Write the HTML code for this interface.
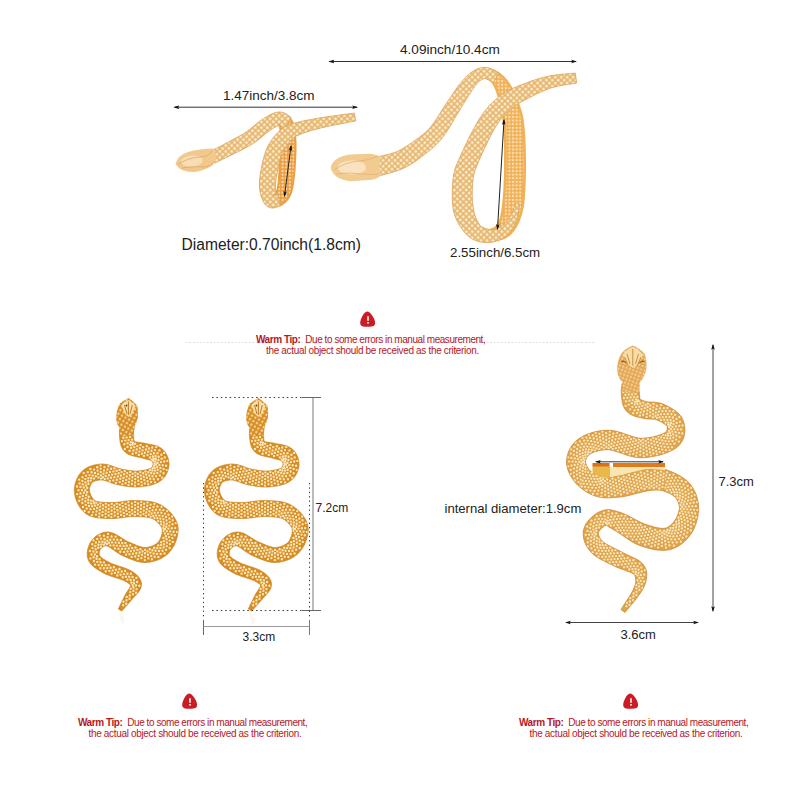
<!DOCTYPE html>
<html><head><meta charset="utf-8">
<style>
html,body{margin:0;padding:0;background:#fff;}
body{width:800px;height:800px;overflow:hidden;position:relative;font-family:"Liberation Sans",sans-serif;}
svg{position:absolute;left:0;top:0;}
.t{position:absolute;white-space:nowrap;color:#222;line-height:1;}
.tip{position:absolute;white-space:nowrap;color:#b8161e;font-size:10px;letter-spacing:-0.33px;line-height:10.4px;}
.tip b{font-weight:bold;}
</style></head><body>
<svg width="800" height="800" viewBox="0 0 800 800">
<defs>
 <pattern id="dotsE" width="4" height="4" patternUnits="userSpaceOnUse" patternTransform="rotate(30)">
  <circle cx="2" cy="2" r="1.2" fill="#fbe8bc"/>
 </pattern>
 <pattern id="dotsR" width="3.6" height="3.6" patternUnits="userSpaceOnUse" patternTransform="rotate(20)">
  <circle cx="1.8" cy="1.8" r="1.05" fill="#f9e4b4"/>
 </pattern>
 <pattern id="scaleT" width="4.2" height="4.2" patternUnits="userSpaceOnUse" patternTransform="rotate(45)">
  <rect x="0" y="0" width="4.2" height="4.2" fill="none" stroke="#dfac66" stroke-width="0.7"/>
  <circle cx="2.1" cy="2.1" r="1.1" fill="#fdf4de"/>
 </pattern>
 <pattern id="dotsIn" width="3.6" height="3.6" patternUnits="userSpaceOnUse">
  <circle cx="1.8" cy="1.8" r="1.15" fill="#fde6c4"/>
 </pattern>
 <marker id="ah" viewBox="0 0 10 10" refX="8" refY="5" markerWidth="6" markerHeight="6" orient="auto-start-reverse">
  <path d="M0 2 L10 5 L0 8 L2 5Z" fill="#111"/>
 </marker>
</defs>

<!-- dimension lines top -->
<line x1="174.5" y1="107.2" x2="357" y2="107.2" stroke="#333" stroke-width="1" marker-start="url(#ah)" marker-end="url(#ah)"/>
<line x1="329.5" y1="61.5" x2="576" y2="61.5" stroke="#333" stroke-width="1" marker-start="url(#ah)" marker-end="url(#ah)"/>

<!-- small ring snake -->
<g id="smallring">
 <path d="M275.6 124.5 L276.6 125.3 L277.9 126.0 L278.9 126.5 L279.6 126.8 L279.9 127.1 L280.0 127.2 L279.7 127.1 L279.4 126.9 L279.1 126.7 L279.0 126.8 L279.1 127.4 L279.3 128.3 L279.4 129.4 L279.5 130.8 L279.5 132.3 L279.6 134.0 L279.6 135.9 L279.6 137.9 L279.5 140.0 L279.5 142.2 L279.5 144.5 L279.5 147.0 L279.5 149.7 L279.4 152.6 L279.3 155.5 L279.2 158.5 L279.0 161.4 L278.9 164.3 L278.7 166.9 L278.5 169.4 L278.4 171.7 L278.3 174.0 L278.1 176.2 L278.0 178.3 L277.8 180.3 L277.7 182.1 L277.5 183.8 L277.3 185.3 L277.0 186.7 L276.8 187.9 L276.6 188.9 L276.4 189.7 L276.2 190.4 L276.0 191.0 L275.8 191.5 L275.6 192.0 L275.3 192.4 L275.1 192.8 L274.8 193.2 L274.7 193.5 L274.8 193.5 L275.1 193.4 L275.3 193.4 L275.3 193.4 L275.0 193.5 L274.6 193.6 L273.9 193.6 L273.0 193.7 L271.9 193.9 L270.9 194.1 L273.1 206.9 L273.5 206.9 L273.9 206.9 L274.4 206.9 L275.2 207.0 L276.2 206.9 L277.3 206.9 L278.7 206.6 L280.3 206.2 L281.9 205.4 L283.3 204.5 L284.4 203.7 L285.4 202.9 L286.4 202.0 L287.3 201.0 L288.3 199.8 L289.2 198.5 L290.1 197.1 L290.8 195.6 L291.6 193.9 L292.2 192.1 L292.7 190.3 L293.2 188.3 L293.6 186.3 L293.9 184.3 L294.2 182.1 L294.5 179.9 L294.8 177.7 L295.0 175.4 L295.2 173.0 L295.5 170.6 L295.7 168.0 L295.8 165.3 L296.0 162.3 L296.1 159.3 L296.3 156.2 L296.4 153.1 L296.5 150.1 L296.5 147.2 L296.5 144.4 L296.5 141.8 L296.3 139.5 L296.2 137.2 L296.0 135.0 L295.7 132.9 L295.5 130.8 L295.1 128.8 L294.8 126.8 L294.3 124.9 L293.7 123.1 L293.0 121.2 L291.9 119.2 L290.4 117.4 L288.8 116.0 L287.2 114.9 L285.7 114.3 L284.5 113.9 L283.6 113.7 L283.1 113.6 L282.8 113.6 L282.4 113.5Z" fill="#ec9e40"/>
 <path d="M276.7 122.8 L277.6 123.5 L278.6 124.1 L279.6 124.6 L280.3 125.0 L280.8 125.2 L281.0 125.5 L281.0 125.6 L280.9 125.6 L280.9 125.7 L280.9 126.1 L281.0 126.8 L281.2 127.8 L281.3 129.1 L281.5 130.5 L281.5 132.1 L281.6 133.9 L281.6 135.8 L281.6 137.8 L281.5 139.9 L281.5 142.1 L281.5 144.5 L281.5 147.0 L281.5 149.8 L281.4 152.7 L281.3 155.6 L281.2 158.6 L281.0 161.5 L280.9 164.4 L280.7 167.1 L280.5 169.5 L280.4 171.9 L280.3 174.2 L280.1 176.4 L280.0 178.5 L279.8 180.5 L279.6 182.4 L279.4 184.1 L279.2 185.7 L279.0 187.1 L278.7 188.4 L278.5 189.5 L278.2 190.4 L278.0 191.3 L277.7 192.0 L277.4 192.6 L277.2 193.2 L276.9 193.7 L276.5 194.2 L276.2 194.7 L275.9 195.1 L275.8 195.2 L275.9 195.2 L275.8 195.3 L275.6 195.4 L275.2 195.5 L274.7 195.6 L274.0 195.6 L273.1 195.7 L272.1 195.9 L271.3 196.1 L272.7 204.9 L273.3 204.9 L273.7 204.9 L274.3 204.9 L275.1 205.0 L276.0 205.0 L277.0 204.9 L278.2 204.7 L279.5 204.3 L280.9 203.7 L282.1 202.9 L283.1 202.2 L284.0 201.5 L284.9 200.7 L285.7 199.7 L286.6 198.7 L287.5 197.5 L288.3 196.2 L289.0 194.8 L289.7 193.3 L290.3 191.6 L290.8 189.8 L291.2 188.0 L291.6 186.0 L291.9 184.0 L292.2 181.9 L292.5 179.7 L292.8 177.5 L293.0 175.2 L293.3 172.9 L293.5 170.5 L293.7 167.9 L293.8 165.1 L294.0 162.2 L294.1 159.2 L294.3 156.1 L294.4 153.1 L294.5 150.1 L294.5 147.2 L294.5 144.4 L294.5 141.9 L294.3 139.6 L294.2 137.3 L294.0 135.1 L293.7 133.0 L293.5 131.0 L293.2 129.0 L292.8 127.2 L292.3 125.4 L291.8 123.6 L291.1 121.9 L290.2 120.2 L288.9 118.7 L287.5 117.5 L286.1 116.7 L284.9 116.1 L283.8 115.8 L282.9 115.6 L282.3 115.5 L281.9 115.4 L281.3 115.2Z" fill="url(#dotsIn)" opacity="0.9"/>
 <path d="M214.8 163.1 L216.6 162.2 L218.4 161.4 L220.1 160.5 L221.9 159.7 L223.7 158.8 L225.5 158.0 L227.3 157.1 L229.2 156.2 L231.1 155.2 L233.0 154.3 L234.9 153.3 L236.9 152.3 L239.0 151.2 L241.1 150.2 L243.2 149.1 L245.4 147.9 L247.5 146.8 L249.6 145.6 L251.7 144.4 L253.7 143.1 L255.7 141.8 L257.6 140.4 L259.4 138.9 L261.1 137.5 L262.8 136.1 L264.4 134.8 L265.8 133.6 L267.2 132.5 L268.5 131.5 L269.8 130.6 L271.1 129.7 L272.5 128.8 L273.8 127.9 L275.0 127.2 L276.1 126.5 L277.1 126.0 L278.0 125.5 L278.7 125.2 L279.3 125.1 L279.5 125.0 L279.4 125.0 L279.3 125.0 L279.4 125.0 L279.6 125.1 L280.1 125.4 L280.7 125.9 L281.5 126.5 L282.5 127.2 L283.7 128.0 L284.8 128.7 L291.2 117.3 L290.5 117.0 L290.0 116.6 L289.3 116.1 L288.5 115.4 L287.4 114.7 L286.2 113.9 L284.6 113.1 L282.8 112.4 L280.7 112.0 L278.5 112.0 L276.5 112.3 L274.7 112.8 L273.0 113.4 L271.4 114.1 L269.8 114.9 L268.2 115.7 L266.7 116.6 L265.2 117.5 L263.8 118.4 L262.2 119.4 L260.6 120.6 L258.9 121.8 L257.3 123.1 L255.7 124.5 L254.1 125.8 L252.5 127.1 L251.0 128.4 L249.4 129.6 L247.9 130.8 L246.3 131.9 L244.6 132.9 L242.8 134.1 L240.9 135.2 L239.0 136.3 L237.0 137.4 L235.0 138.5 L232.9 139.6 L230.9 140.6 L228.9 141.7 L227.0 142.7 L225.1 143.7 L223.3 144.7 L221.6 145.6 L219.8 146.5 L218.1 147.4 L216.3 148.3 L214.5 149.2 L212.8 150.1 L211.0 151.0 L209.2 151.9Z" fill="#f0c98a"/>
 <path d="M214.8 163.1 L216.6 162.2 L218.4 161.4 L220.1 160.5 L221.9 159.7 L223.7 158.8 L225.5 158.0 L227.3 157.1 L229.2 156.2 L231.1 155.2 L233.0 154.3 L234.9 153.3 L236.9 152.3 L239.0 151.2 L241.1 150.2 L243.2 149.1 L245.4 147.9 L247.5 146.8 L249.6 145.6 L251.7 144.4 L253.7 143.1 L255.7 141.8 L257.6 140.4 L259.4 138.9 L261.1 137.5 L262.8 136.1 L264.4 134.8 L265.8 133.6 L267.2 132.5 L268.5 131.5 L269.8 130.6 L271.1 129.7 L272.5 128.8 L273.8 127.9 L275.0 127.2 L276.1 126.5 L277.1 126.0 L278.0 125.5 L278.7 125.2 L279.3 125.1 L279.5 125.0 L279.4 125.0 L279.3 125.0 L279.4 125.0 L279.6 125.1 L280.1 125.4 L280.7 125.9 L281.5 126.5 L282.5 127.2 L283.7 128.0 L284.8 128.7 L291.2 117.3 L290.5 117.0 L290.0 116.6 L289.3 116.1 L288.5 115.4 L287.4 114.7 L286.2 113.9 L284.6 113.1 L282.8 112.4 L280.7 112.0 L278.5 112.0 L276.5 112.3 L274.7 112.8 L273.0 113.4 L271.4 114.1 L269.8 114.9 L268.2 115.7 L266.7 116.6 L265.2 117.5 L263.8 118.4 L262.2 119.4 L260.6 120.6 L258.9 121.8 L257.3 123.1 L255.7 124.5 L254.1 125.8 L252.5 127.1 L251.0 128.4 L249.4 129.6 L247.9 130.8 L246.3 131.9 L244.6 132.9 L242.8 134.1 L240.9 135.2 L239.0 136.3 L237.0 137.4 L235.0 138.5 L232.9 139.6 L230.9 140.6 L228.9 141.7 L227.0 142.7 L225.1 143.7 L223.3 144.7 L221.6 145.6 L219.8 146.5 L218.1 147.4 L216.3 148.3 L214.5 149.2 L212.8 150.1 L211.0 151.0 L209.2 151.9Z" fill="url(#scaleT)" stroke="#dca55e" stroke-width="0.8"/>
 <path d="M175.5 164 Q178 155 188 152 Q200 148.5 213 148.5 L217 156 L213 165 Q205 170.5 195 172 Q181 173 175.5 164Z" fill="#f1c98c"/>
 <ellipse cx="192" cy="161" rx="11" ry="5.5" transform="rotate(-5 192 161)" fill="#f8dcb4"/>
 <path d="M178 165 Q186 158 200 157 Q208 157 212 151 M182 168 Q195 166 205 167 Q210 167 214 162" stroke="#e0a86a" stroke-width="0.8" fill="none"/>
 <path d="M278.2 194.1 L277.1 194.1 L275.8 194.3 L274.7 194.5 L273.8 194.7 L273.2 194.7 L272.9 194.7 L273.1 194.6 L273.8 194.6 L275.0 195.0 L276.0 195.6 L276.4 195.9 L276.4 195.7 L276.3 195.1 L276.1 194.4 L275.9 193.4 L275.8 192.3 L275.6 191.1 L275.5 189.9 L275.5 188.6 L275.5 187.5 L275.5 186.4 L275.5 185.2 L275.5 184.0 L275.6 182.7 L275.8 181.3 L276.0 179.9 L276.2 178.4 L276.5 176.8 L276.8 175.2 L277.1 173.5 L277.4 171.6 L277.8 169.7 L278.1 167.7 L278.5 165.7 L278.9 163.7 L279.4 161.8 L279.9 159.9 L280.4 158.1 L280.9 156.5 L281.4 155.0 L281.9 153.7 L282.5 152.3 L283.2 151.0 L283.9 149.7 L284.6 148.5 L285.3 147.3 L286.1 146.2 L286.9 145.1 L287.7 144.0 L288.6 143.0 L289.4 142.0 L290.1 141.0 L290.7 140.3 L291.3 139.6 L291.8 139.1 L292.3 138.5 L293.0 138.0 L293.9 137.4 L295.0 136.7 L296.4 136.0 L298.1 135.2 L300.0 134.4 L302.2 133.6 L304.5 132.8 L307.0 131.9 L309.6 131.1 L312.3 130.3 L315.2 129.5 L318.1 128.7 L321.0 127.9 L324.1 127.2 L327.3 126.5 L330.6 125.8 L334.1 125.1 L337.7 124.4 L341.3 123.7 L344.9 123.0 L348.5 122.3 L352.1 121.6 L355.7 120.9 L354.3 113.1 L350.8 113.6 L347.2 114.0 L343.5 114.5 L339.9 115.0 L336.2 115.5 L332.6 116.0 L329.0 116.5 L325.6 117.0 L322.2 117.6 L319.0 118.1 L315.9 118.6 L312.8 119.2 L309.8 119.7 L306.9 120.2 L304.0 120.8 L301.3 121.4 L298.7 122.0 L296.2 122.6 L293.8 123.3 L291.6 124.0 L289.6 124.7 L287.8 125.5 L286.1 126.3 L284.5 127.1 L283.1 128.1 L281.8 129.0 L280.6 130.0 L279.5 131.0 L278.5 132.0 L277.4 133.0 L276.3 134.2 L275.1 135.5 L273.9 136.9 L272.8 138.4 L271.7 140.0 L270.6 141.6 L269.5 143.3 L268.5 145.1 L267.5 147.0 L266.6 149.0 L265.8 151.1 L265.0 153.3 L264.3 155.5 L263.7 157.8 L263.1 160.0 L262.6 162.3 L262.1 164.5 L261.7 166.6 L261.3 168.6 L260.9 170.5 L260.6 172.4 L260.3 174.2 L260.0 176.0 L259.8 177.8 L259.6 179.6 L259.5 181.4 L259.4 183.2 L259.4 185.0 L259.4 186.8 L259.5 188.5 L259.8 190.3 L260.1 192.0 L260.5 193.7 L260.9 195.5 L261.4 197.2 L262.0 198.8 L262.7 200.5 L263.5 202.1 L264.5 203.7 L266.0 205.4 L268.3 207.0 L270.8 207.9 L273.1 208.0 L274.8 207.8 L276.2 207.4 L277.4 207.0 L278.2 206.6 L278.9 206.3 L279.3 206.1 L279.8 205.9Z" fill="#efc886"/>
 <path d="M278.2 194.1 L277.1 194.1 L275.8 194.3 L274.7 194.5 L273.8 194.7 L273.2 194.7 L272.9 194.7 L273.1 194.6 L273.8 194.6 L275.0 195.0 L276.0 195.6 L276.4 195.9 L276.4 195.7 L276.3 195.1 L276.1 194.4 L275.9 193.4 L275.8 192.3 L275.6 191.1 L275.5 189.9 L275.5 188.6 L275.5 187.5 L275.5 186.4 L275.5 185.2 L275.5 184.0 L275.6 182.7 L275.8 181.3 L276.0 179.9 L276.2 178.4 L276.5 176.8 L276.8 175.2 L277.1 173.5 L277.4 171.6 L277.8 169.7 L278.1 167.7 L278.5 165.7 L278.9 163.7 L279.4 161.8 L279.9 159.9 L280.4 158.1 L280.9 156.5 L281.4 155.0 L281.9 153.7 L282.5 152.3 L283.2 151.0 L283.9 149.7 L284.6 148.5 L285.3 147.3 L286.1 146.2 L286.9 145.1 L287.7 144.0 L288.6 143.0 L289.4 142.0 L290.1 141.0 L290.7 140.3 L291.3 139.6 L291.8 139.1 L292.3 138.5 L293.0 138.0 L293.9 137.4 L295.0 136.7 L296.4 136.0 L298.1 135.2 L300.0 134.4 L302.2 133.6 L304.5 132.8 L307.0 131.9 L309.6 131.1 L312.3 130.3 L315.2 129.5 L318.1 128.7 L321.0 127.9 L324.1 127.2 L327.3 126.5 L330.6 125.8 L334.1 125.1 L337.7 124.4 L341.3 123.7 L344.9 123.0 L348.5 122.3 L352.1 121.6 L355.7 120.9 L354.3 113.1 L350.8 113.6 L347.2 114.0 L343.5 114.5 L339.9 115.0 L336.2 115.5 L332.6 116.0 L329.0 116.5 L325.6 117.0 L322.2 117.6 L319.0 118.1 L315.9 118.6 L312.8 119.2 L309.8 119.7 L306.9 120.2 L304.0 120.8 L301.3 121.4 L298.7 122.0 L296.2 122.6 L293.8 123.3 L291.6 124.0 L289.6 124.7 L287.8 125.5 L286.1 126.3 L284.5 127.1 L283.1 128.1 L281.8 129.0 L280.6 130.0 L279.5 131.0 L278.5 132.0 L277.4 133.0 L276.3 134.2 L275.1 135.5 L273.9 136.9 L272.8 138.4 L271.7 140.0 L270.6 141.6 L269.5 143.3 L268.5 145.1 L267.5 147.0 L266.6 149.0 L265.8 151.1 L265.0 153.3 L264.3 155.5 L263.7 157.8 L263.1 160.0 L262.6 162.3 L262.1 164.5 L261.7 166.6 L261.3 168.6 L260.9 170.5 L260.6 172.4 L260.3 174.2 L260.0 176.0 L259.8 177.8 L259.6 179.6 L259.5 181.4 L259.4 183.2 L259.4 185.0 L259.4 186.8 L259.5 188.5 L259.8 190.3 L260.1 192.0 L260.5 193.7 L260.9 195.5 L261.4 197.2 L262.0 198.8 L262.7 200.5 L263.5 202.1 L264.5 203.7 L266.0 205.4 L268.3 207.0 L270.8 207.9 L273.1 208.0 L274.8 207.8 L276.2 207.4 L277.4 207.0 L278.2 206.6 L278.9 206.3 L279.3 206.1 L279.8 205.9Z" fill="url(#scaleT)" stroke="#dca55e" stroke-width="0.8"/>
 <line x1="291" y1="146" x2="284.5" y2="196" stroke="#222" stroke-width="1" marker-start="url(#ah)" marker-end="url(#ah)"/>
</g>

<!-- big cuff snake -->
<g id="bigcuff">
 <path d="M483.7 78.0 L484.8 78.6 L486.0 79.2 L487.1 79.7 L488.1 80.1 L488.9 80.5 L489.6 80.9 L490.1 81.3 L490.6 81.7 L491.0 82.1 L491.5 82.7 L492.1 83.6 L492.7 84.5 L493.3 85.6 L493.8 86.6 L494.4 87.7 L494.9 89.0 L495.5 90.3 L496.0 91.8 L496.6 93.4 L497.1 95.2 L497.8 97.3 L498.4 99.6 L499.1 102.0 L499.7 104.5 L500.3 107.1 L500.9 109.9 L501.5 112.7 L501.9 115.5 L502.3 118.5 L502.6 121.5 L503.0 124.7 L503.3 128.1 L503.5 131.8 L503.7 135.5 L503.9 139.4 L504.0 143.4 L504.0 147.5 L504.1 151.6 L504.0 155.8 L504.0 160.0 L504.0 164.3 L504.0 168.9 L503.9 173.6 L503.8 178.4 L503.6 183.2 L503.4 187.8 L503.2 192.3 L502.9 196.4 L502.5 200.2 L502.1 203.4 L501.8 206.4 L501.5 209.1 L501.2 211.5 L500.8 213.6 L500.4 215.5 L499.9 217.2 L499.5 218.7 L499.0 220.1 L498.4 221.4 L497.9 222.4 L497.5 223.3 L497.1 224.1 L496.6 224.9 L495.9 225.6 L495.1 226.3 L494.2 227.0 L493.2 227.6 L492.0 228.1 L490.8 228.6 L489.8 229.0 L488.9 229.0 L488.0 228.9 L486.9 228.6 L485.7 228.2 L484.3 227.7 L482.8 227.1 L481.2 226.4 L479.5 225.6 L477.7 224.9 L476.0 224.3 L472.0 235.7 L473.5 236.2 L474.9 236.7 L476.5 237.4 L478.1 238.1 L479.8 238.8 L481.7 239.5 L483.6 240.2 L485.7 240.7 L488.0 241.0 L490.2 241.0 L492.3 241.1 L494.3 241.1 L496.4 241.0 L498.6 240.7 L500.9 240.2 L503.2 239.4 L505.5 238.4 L507.8 237.1 L510.0 235.5 L512.1 233.6 L513.8 231.5 L515.3 229.4 L516.7 227.2 L518.0 224.8 L519.2 222.2 L520.3 219.5 L521.3 216.6 L522.3 213.4 L523.1 210.1 L523.9 206.6 L524.4 202.6 L524.8 198.2 L525.1 193.7 L525.4 188.9 L525.6 184.0 L525.8 179.0 L525.9 174.0 L526.0 169.2 L526.0 164.5 L526.0 160.0 L525.9 155.7 L525.9 151.4 L525.7 147.0 L525.6 142.7 L525.4 138.5 L525.1 134.3 L524.8 130.2 L524.4 126.2 L523.9 122.2 L523.4 118.5 L522.6 114.8 L521.7 111.3 L520.7 107.9 L519.6 104.7 L518.5 101.6 L517.4 98.7 L516.2 96.0 L515.1 93.4 L514.0 91.0 L512.9 88.8 L511.7 86.6 L510.5 84.6 L509.3 82.7 L508.1 81.0 L506.9 79.4 L505.6 77.9 L504.3 76.6 L503.1 75.5 L501.8 74.4 L500.5 73.3 L499.1 72.2 L497.5 71.2 L496.0 70.4 L494.6 69.8 L493.2 69.3 L492.0 69.0 L490.9 68.7 L490.0 68.5 L489.2 68.3 L488.3 68.0Z" fill="#f0b055"/>
 <path d="M484.8 75.7 L485.8 76.3 L486.9 76.9 L487.9 77.3 L488.9 77.8 L489.8 78.2 L490.6 78.6 L491.3 79.1 L492.0 79.6 L492.6 80.2 L493.2 80.9 L493.9 81.8 L494.6 82.9 L495.2 84.0 L495.9 85.1 L496.5 86.4 L497.1 87.7 L497.7 89.1 L498.3 90.7 L498.9 92.4 L499.5 94.3 L500.1 96.4 L500.8 98.7 L501.4 101.2 L502.1 103.7 L502.7 106.4 L503.3 109.2 L503.9 112.1 L504.4 115.0 L504.8 118.0 L505.1 121.2 L505.5 124.4 L505.8 127.9 L506.0 131.6 L506.2 135.4 L506.4 139.3 L506.5 143.3 L506.5 147.4 L506.6 151.6 L506.5 155.8 L506.5 160.0 L506.5 164.4 L506.5 168.9 L506.4 173.7 L506.3 178.5 L506.1 183.3 L505.9 187.9 L505.7 192.4 L505.4 196.6 L505.0 200.4 L504.6 203.8 L504.3 206.8 L504.0 209.6 L503.6 212.1 L503.2 214.3 L502.7 216.4 L502.3 218.2 L501.7 219.8 L501.2 221.3 L500.5 222.7 L499.9 224.0 L499.3 225.1 L498.7 226.1 L498.0 227.0 L497.1 227.8 L496.1 228.6 L495.0 229.4 L493.7 230.0 L492.5 230.6 L491.1 231.1 L489.9 231.5 L488.7 231.5 L487.5 231.3 L486.2 231.0 L484.8 230.6 L483.4 230.0 L481.8 229.4 L480.2 228.7 L478.5 228.0 L476.8 227.3 L475.1 226.7 L472.9 233.3 L474.4 233.8 L475.9 234.4 L477.5 235.1 L479.1 235.8 L480.8 236.5 L482.5 237.2 L484.3 237.7 L486.2 238.2 L488.2 238.5 L490.1 238.5 L492.0 238.6 L493.9 238.7 L495.8 238.6 L497.9 238.3 L499.9 237.9 L502.0 237.2 L504.1 236.3 L506.2 235.2 L508.2 233.7 L510.1 232.0 L511.7 230.2 L513.1 228.2 L514.5 226.1 L515.7 223.8 L516.9 221.4 L517.9 218.8 L518.9 215.9 L519.8 212.9 L520.6 209.7 L521.4 206.2 L521.9 202.3 L522.3 198.0 L522.6 193.5 L522.9 188.8 L523.1 183.9 L523.3 178.9 L523.4 174.0 L523.5 169.1 L523.5 164.4 L523.5 160.0 L523.4 155.7 L523.4 151.4 L523.2 147.1 L523.1 142.8 L522.9 138.6 L522.6 134.4 L522.3 130.4 L521.9 126.4 L521.5 122.5 L520.9 118.8 L520.1 115.3 L519.2 111.8 L518.3 108.5 L517.2 105.3 L516.1 102.3 L515.0 99.5 L513.9 96.8 L512.8 94.3 L511.6 91.9 L510.5 89.7 L509.4 87.6 L508.3 85.7 L507.1 83.9 L506.0 82.3 L504.8 80.8 L503.6 79.4 L502.4 78.2 L501.2 77.1 L500.0 76.1 L498.8 75.1 L497.5 74.1 L496.2 73.3 L494.8 72.6 L493.5 72.1 L492.3 71.7 L491.2 71.4 L490.1 71.1 L489.1 70.9 L488.2 70.6 L487.2 70.3Z" fill="url(#dotsIn)" opacity="0.9"/>
 <path d="M378.6 176.1 L380.9 175.4 L383.2 174.8 L385.6 174.1 L388.1 173.5 L390.6 172.8 L393.2 172.0 L395.8 171.2 L398.4 170.3 L401.0 169.4 L403.6 168.2 L406.0 167.1 L408.4 165.8 L410.6 164.5 L412.7 163.2 L414.7 161.8 L416.7 160.4 L418.6 159.0 L420.5 157.6 L422.3 156.2 L424.1 154.8 L425.9 153.4 L427.7 152.0 L429.5 150.6 L431.3 149.1 L433.1 147.5 L434.9 145.8 L436.7 144.1 L438.5 142.2 L440.3 140.3 L442.1 138.1 L443.9 135.8 L445.6 133.4 L447.2 130.9 L448.8 128.4 L450.3 125.9 L451.8 123.4 L453.3 120.9 L454.6 118.5 L456.0 116.2 L457.3 114.0 L458.7 111.9 L460.0 109.7 L461.3 107.5 L462.6 105.3 L463.9 103.3 L465.1 101.2 L466.3 99.3 L467.5 97.5 L468.6 95.7 L469.7 94.1 L470.8 92.4 L471.8 90.8 L472.8 89.3 L473.8 87.9 L474.7 86.6 L475.5 85.4 L476.4 84.3 L477.2 83.3 L477.9 82.5 L478.7 81.7 L479.5 81.1 L480.3 80.5 L481.0 80.0 L481.8 79.6 L482.5 79.3 L483.2 79.0 L483.9 78.8 L484.5 78.6 L485.1 78.5 L485.6 78.5 L485.9 78.5 L486.3 78.6 L486.8 78.8 L487.4 79.2 L488.2 79.6 L489.1 80.2 L490.0 80.8 L491.1 81.5 L492.3 82.2 L493.4 82.8 L498.6 73.2 L497.8 72.7 L496.9 72.2 L496.0 71.6 L495.0 71.0 L493.9 70.3 L492.7 69.5 L491.4 68.8 L489.9 68.2 L488.1 67.7 L486.4 67.5 L484.7 67.4 L483.2 67.5 L481.7 67.7 L480.1 68.0 L478.6 68.5 L477.1 69.0 L475.6 69.7 L474.2 70.4 L472.7 71.3 L471.3 72.3 L469.9 73.3 L468.5 74.5 L467.1 75.7 L465.8 77.0 L464.6 78.4 L463.3 79.8 L462.1 81.3 L460.9 82.8 L459.6 84.3 L458.3 85.9 L457.0 87.7 L455.7 89.5 L454.3 91.5 L453.0 93.5 L451.6 95.5 L450.3 97.6 L448.9 99.6 L447.5 101.7 L446.1 103.8 L444.7 106.0 L443.2 108.2 L441.7 110.6 L440.2 113.0 L438.7 115.4 L437.2 117.7 L435.7 120.0 L434.2 122.2 L432.7 124.3 L431.3 126.2 L429.9 127.9 L428.4 129.4 L427.0 130.9 L425.5 132.3 L424.0 133.6 L422.4 134.9 L420.8 136.1 L419.2 137.4 L417.5 138.6 L415.7 139.9 L413.9 141.2 L412.1 142.5 L410.3 143.7 L408.6 144.9 L406.9 146.1 L405.1 147.2 L403.4 148.2 L401.7 149.2 L399.9 150.1 L398.2 151.0 L396.4 151.8 L394.6 152.5 L392.6 153.1 L390.5 153.7 L388.3 154.3 L386.0 154.9 L383.6 155.4 L381.1 156.0 L378.5 156.6 L376.0 157.2 L373.4 157.9Z" fill="#f1cb8e"/>
 <path d="M378.6 176.1 L380.9 175.4 L383.2 174.8 L385.6 174.1 L388.1 173.5 L390.6 172.8 L393.2 172.0 L395.8 171.2 L398.4 170.3 L401.0 169.4 L403.6 168.2 L406.0 167.1 L408.4 165.8 L410.6 164.5 L412.7 163.2 L414.7 161.8 L416.7 160.4 L418.6 159.0 L420.5 157.6 L422.3 156.2 L424.1 154.8 L425.9 153.4 L427.7 152.0 L429.5 150.6 L431.3 149.1 L433.1 147.5 L434.9 145.8 L436.7 144.1 L438.5 142.2 L440.3 140.3 L442.1 138.1 L443.9 135.8 L445.6 133.4 L447.2 130.9 L448.8 128.4 L450.3 125.9 L451.8 123.4 L453.3 120.9 L454.6 118.5 L456.0 116.2 L457.3 114.0 L458.7 111.9 L460.0 109.7 L461.3 107.5 L462.6 105.3 L463.9 103.3 L465.1 101.2 L466.3 99.3 L467.5 97.5 L468.6 95.7 L469.7 94.1 L470.8 92.4 L471.8 90.8 L472.8 89.3 L473.8 87.9 L474.7 86.6 L475.5 85.4 L476.4 84.3 L477.2 83.3 L477.9 82.5 L478.7 81.7 L479.5 81.1 L480.3 80.5 L481.0 80.0 L481.8 79.6 L482.5 79.3 L483.2 79.0 L483.9 78.8 L484.5 78.6 L485.1 78.5 L485.6 78.5 L485.9 78.5 L486.3 78.6 L486.8 78.8 L487.4 79.2 L488.2 79.6 L489.1 80.2 L490.0 80.8 L491.1 81.5 L492.3 82.2 L493.4 82.8 L498.6 73.2 L497.8 72.7 L496.9 72.2 L496.0 71.6 L495.0 71.0 L493.9 70.3 L492.7 69.5 L491.4 68.8 L489.9 68.2 L488.1 67.7 L486.4 67.5 L484.7 67.4 L483.2 67.5 L481.7 67.7 L480.1 68.0 L478.6 68.5 L477.1 69.0 L475.6 69.7 L474.2 70.4 L472.7 71.3 L471.3 72.3 L469.9 73.3 L468.5 74.5 L467.1 75.7 L465.8 77.0 L464.6 78.4 L463.3 79.8 L462.1 81.3 L460.9 82.8 L459.6 84.3 L458.3 85.9 L457.0 87.7 L455.7 89.5 L454.3 91.5 L453.0 93.5 L451.6 95.5 L450.3 97.6 L448.9 99.6 L447.5 101.7 L446.1 103.8 L444.7 106.0 L443.2 108.2 L441.7 110.6 L440.2 113.0 L438.7 115.4 L437.2 117.7 L435.7 120.0 L434.2 122.2 L432.7 124.3 L431.3 126.2 L429.9 127.9 L428.4 129.4 L427.0 130.9 L425.5 132.3 L424.0 133.6 L422.4 134.9 L420.8 136.1 L419.2 137.4 L417.5 138.6 L415.7 139.9 L413.9 141.2 L412.1 142.5 L410.3 143.7 L408.6 144.9 L406.9 146.1 L405.1 147.2 L403.4 148.2 L401.7 149.2 L399.9 150.1 L398.2 151.0 L396.4 151.8 L394.6 152.5 L392.6 153.1 L390.5 153.7 L388.3 154.3 L386.0 154.9 L383.6 155.4 L381.1 156.0 L378.5 156.6 L376.0 157.2 L373.4 157.9Z" fill="url(#scaleT)" stroke="#dca55e" stroke-width="0.8"/>
 <path d="M330.6 167.5 Q333 157 350 154.4 L369 153.7 Q376 154 380 157 L380 176 Q376 180 369 180 L350 181.2 Q333 179 330.6 167.5Z" fill="#f2cb90"/>
 <ellipse cx="352" cy="167.5" rx="14" ry="7" fill="#f9e2c0"/>
 <path d="M334 170 Q345 162 360 161 Q370 160 378 156 M336 174 Q350 172 362 174 Q372 175 379 174" stroke="#e3b07a" stroke-width="0.8" fill="none"/>
 
 <path d="M516.1 203.4 L515.3 205.0 L514.6 206.8 L513.8 208.5 L513.1 210.3 L512.4 212.0 L511.7 213.6 L510.9 215.2 L510.1 216.6 L509.3 217.9 L508.5 219.0 L507.7 220.2 L506.8 221.3 L505.8 222.3 L504.9 223.2 L503.9 224.1 L502.9 224.9 L502.0 225.7 L501.0 226.3 L500.0 226.9 L499.0 227.4 L498.0 227.9 L497.0 228.4 L496.0 228.7 L494.9 229.1 L493.9 229.3 L493.0 229.5 L492.0 229.6 L491.1 229.7 L490.2 229.6 L489.3 229.5 L488.1 229.3 L486.9 229.0 L485.7 228.7 L484.5 228.3 L483.5 227.8 L482.5 227.4 L481.6 226.8 L480.9 226.2 L480.3 225.6 L479.7 224.8 L479.0 223.8 L478.2 222.5 L477.4 221.0 L476.6 219.3 L475.8 217.6 L475.1 215.7 L474.5 213.8 L474.0 211.8 L473.6 209.9 L473.3 207.9 L472.9 205.8 L472.6 203.4 L472.4 200.8 L472.3 197.9 L472.2 194.9 L472.2 192.0 L472.3 189.0 L472.5 186.2 L472.7 183.5 L472.9 181.1 L473.1 179.0 L473.3 177.3 L473.6 175.8 L473.8 174.6 L474.1 173.4 L474.5 172.1 L475.0 170.6 L475.7 168.7 L476.6 166.4 L477.7 163.8 L479.0 160.7 L480.5 157.1 L482.3 153.3 L484.1 149.2 L486.1 145.1 L488.1 140.9 L490.1 136.9 L492.0 133.1 L493.9 129.7 L495.6 126.8 L497.2 124.3 L498.8 122.0 L500.3 119.9 L501.8 118.0 L503.3 116.3 L504.9 114.6 L506.4 113.1 L508.0 111.6 L509.6 110.1 L511.3 108.6 L512.9 107.3 L514.4 106.1 L516.0 105.0 L517.6 103.9 L519.3 102.9 L521.1 101.9 L522.9 100.9 L524.9 99.9 L526.9 98.9 L529.1 97.8 L531.2 96.7 L533.4 95.6 L535.6 94.5 L537.8 93.4 L540.1 92.4 L542.3 91.3 L544.6 90.4 L546.9 89.5 L549.2 88.6 L551.5 87.8 L553.8 87.2 L556.1 86.6 L558.6 86.1 L561.0 85.6 L563.6 85.1 L566.2 84.7 L568.8 84.3 L571.4 83.9 L574.1 83.4 L576.7 82.9 L575.3 73.1 L572.7 73.3 L570.1 73.6 L567.5 73.8 L564.8 74.0 L562.2 74.2 L559.5 74.5 L556.7 74.8 L554.0 75.2 L551.2 75.6 L548.5 76.2 L545.8 76.8 L543.1 77.4 L540.4 78.2 L537.8 78.9 L535.2 79.8 L532.6 80.6 L530.1 81.5 L527.6 82.4 L525.2 83.3 L522.9 84.2 L520.7 85.0 L518.5 85.9 L516.4 86.8 L514.2 87.7 L512.0 88.7 L509.7 89.8 L507.5 91.0 L505.2 92.3 L502.9 93.8 L500.7 95.4 L498.6 97.0 L496.6 98.7 L494.6 100.5 L492.6 102.3 L490.5 104.3 L488.5 106.5 L486.5 108.9 L484.5 111.4 L482.5 114.2 L480.4 117.2 L478.3 120.6 L476.1 124.4 L473.9 128.4 L471.6 132.6 L469.4 136.9 L467.3 141.2 L465.3 145.4 L463.4 149.4 L461.7 153.0 L460.3 156.2 L459.1 158.9 L458.0 161.3 L457.1 163.5 L456.2 165.5 L455.5 167.6 L454.8 169.7 L454.3 171.8 L453.8 174.0 L453.4 176.4 L453.1 178.9 L452.8 181.8 L452.5 184.9 L452.4 188.1 L452.3 191.5 L452.2 195.0 L452.3 198.5 L452.4 202.0 L452.7 205.5 L453.1 208.8 L453.7 212.1 L454.7 215.1 L455.8 218.1 L457.1 220.8 L458.4 223.5 L459.9 226.0 L461.4 228.3 L463.1 230.5 L464.7 232.6 L466.5 234.4 L468.3 236.2 L470.4 237.8 L472.6 239.2 L474.8 240.3 L477.1 241.1 L479.2 241.7 L481.3 242.1 L483.3 242.4 L485.2 242.5 L487.0 242.5 L488.7 242.5 L490.6 242.4 L492.5 242.2 L494.3 241.8 L496.0 241.3 L497.7 240.7 L499.3 240.0 L500.8 239.3 L502.3 238.4 L503.7 237.6 L505.0 236.6 L506.3 235.5 L507.6 234.4 L508.7 233.1 L509.9 231.9 L511.0 230.5 L512.0 229.1 L512.9 227.6 L513.8 226.1 L514.7 224.6 L515.5 223.0 L516.2 221.2 L516.8 219.4 L517.3 217.5 L517.7 215.6 L518.1 213.8 L518.5 211.9 L518.8 210.0 L519.2 208.2 L519.5 206.4 L519.9 204.6Z" fill="#f0c98a"/>
 <path d="M516.1 203.4 L515.3 205.0 L514.6 206.8 L513.8 208.5 L513.1 210.3 L512.4 212.0 L511.7 213.6 L510.9 215.2 L510.1 216.6 L509.3 217.9 L508.5 219.0 L507.7 220.2 L506.8 221.3 L505.8 222.3 L504.9 223.2 L503.9 224.1 L502.9 224.9 L502.0 225.7 L501.0 226.3 L500.0 226.9 L499.0 227.4 L498.0 227.9 L497.0 228.4 L496.0 228.7 L494.9 229.1 L493.9 229.3 L493.0 229.5 L492.0 229.6 L491.1 229.7 L490.2 229.6 L489.3 229.5 L488.1 229.3 L486.9 229.0 L485.7 228.7 L484.5 228.3 L483.5 227.8 L482.5 227.4 L481.6 226.8 L480.9 226.2 L480.3 225.6 L479.7 224.8 L479.0 223.8 L478.2 222.5 L477.4 221.0 L476.6 219.3 L475.8 217.6 L475.1 215.7 L474.5 213.8 L474.0 211.8 L473.6 209.9 L473.3 207.9 L472.9 205.8 L472.6 203.4 L472.4 200.8 L472.3 197.9 L472.2 194.9 L472.2 192.0 L472.3 189.0 L472.5 186.2 L472.7 183.5 L472.9 181.1 L473.1 179.0 L473.3 177.3 L473.6 175.8 L473.8 174.6 L474.1 173.4 L474.5 172.1 L475.0 170.6 L475.7 168.7 L476.6 166.4 L477.7 163.8 L479.0 160.7 L480.5 157.1 L482.3 153.3 L484.1 149.2 L486.1 145.1 L488.1 140.9 L490.1 136.9 L492.0 133.1 L493.9 129.7 L495.6 126.8 L497.2 124.3 L498.8 122.0 L500.3 119.9 L501.8 118.0 L503.3 116.3 L504.9 114.6 L506.4 113.1 L508.0 111.6 L509.6 110.1 L511.3 108.6 L512.9 107.3 L514.4 106.1 L516.0 105.0 L517.6 103.9 L519.3 102.9 L521.1 101.9 L522.9 100.9 L524.9 99.9 L526.9 98.9 L529.1 97.8 L531.2 96.7 L533.4 95.6 L535.6 94.5 L537.8 93.4 L540.1 92.4 L542.3 91.3 L544.6 90.4 L546.9 89.5 L549.2 88.6 L551.5 87.8 L553.8 87.2 L556.1 86.6 L558.6 86.1 L561.0 85.6 L563.6 85.1 L566.2 84.7 L568.8 84.3 L571.4 83.9 L574.1 83.4 L576.7 82.9 L575.3 73.1 L572.7 73.3 L570.1 73.6 L567.5 73.8 L564.8 74.0 L562.2 74.2 L559.5 74.5 L556.7 74.8 L554.0 75.2 L551.2 75.6 L548.5 76.2 L545.8 76.8 L543.1 77.4 L540.4 78.2 L537.8 78.9 L535.2 79.8 L532.6 80.6 L530.1 81.5 L527.6 82.4 L525.2 83.3 L522.9 84.2 L520.7 85.0 L518.5 85.9 L516.4 86.8 L514.2 87.7 L512.0 88.7 L509.7 89.8 L507.5 91.0 L505.2 92.3 L502.9 93.8 L500.7 95.4 L498.6 97.0 L496.6 98.7 L494.6 100.5 L492.6 102.3 L490.5 104.3 L488.5 106.5 L486.5 108.9 L484.5 111.4 L482.5 114.2 L480.4 117.2 L478.3 120.6 L476.1 124.4 L473.9 128.4 L471.6 132.6 L469.4 136.9 L467.3 141.2 L465.3 145.4 L463.4 149.4 L461.7 153.0 L460.3 156.2 L459.1 158.9 L458.0 161.3 L457.1 163.5 L456.2 165.5 L455.5 167.6 L454.8 169.7 L454.3 171.8 L453.8 174.0 L453.4 176.4 L453.1 178.9 L452.8 181.8 L452.5 184.9 L452.4 188.1 L452.3 191.5 L452.2 195.0 L452.3 198.5 L452.4 202.0 L452.7 205.5 L453.1 208.8 L453.7 212.1 L454.7 215.1 L455.8 218.1 L457.1 220.8 L458.4 223.5 L459.9 226.0 L461.4 228.3 L463.1 230.5 L464.7 232.6 L466.5 234.4 L468.3 236.2 L470.4 237.8 L472.6 239.2 L474.8 240.3 L477.1 241.1 L479.2 241.7 L481.3 242.1 L483.3 242.4 L485.2 242.5 L487.0 242.5 L488.7 242.5 L490.6 242.4 L492.5 242.2 L494.3 241.8 L496.0 241.3 L497.7 240.7 L499.3 240.0 L500.8 239.3 L502.3 238.4 L503.7 237.6 L505.0 236.6 L506.3 235.5 L507.6 234.4 L508.7 233.1 L509.9 231.9 L511.0 230.5 L512.0 229.1 L512.9 227.6 L513.8 226.1 L514.7 224.6 L515.5 223.0 L516.2 221.2 L516.8 219.4 L517.3 217.5 L517.7 215.6 L518.1 213.8 L518.5 211.9 L518.8 210.0 L519.2 208.2 L519.5 206.4 L519.9 204.6Z" fill="url(#scaleT)" stroke="#dca55e" stroke-width="0.8"/>
 <line x1="504" y1="120" x2="497.5" y2="229" stroke="#222" stroke-width="1" marker-start="url(#ah)" marker-end="url(#ah)"/>
</g>

<!-- warm tip dotted line 1 -->
<line x1="186" y1="342.5" x2="596" y2="342.5" stroke="#d0d0d0" stroke-width="0.8" stroke-dasharray="1.5 2"/>
<!-- warning icons -->
<g id="warn1" transform="translate(368 319)">
 <path d="M-1 -7.4 C2 -7.6 6.5 -1 7 3 C7.5 7 5 7.8 0 7.8 C-5 7.8 -8 7.5 -7.8 3.5 C-7.5 0 -4 -7.2 -1 -7.4Z" fill="#c91c25"/>
 <rect x="-0.75" y="-2.8" width="1.5" height="4.6" fill="#fff"/>
 <rect x="-0.75" y="3" width="1.5" height="1.6" fill="#fff"/>
</g>
<use href="#warn1" transform="translate(-178 382)"/>
<use href="#warn1" transform="translate(263 382)"/>

<!-- earrings -->
<g id="earR">
 <path d="M250.5 423.3 L250.4 424.4 L250.3 425.5 L250.1 426.7 L250.0 427.9 L249.8 429.2 L249.6 430.6 L249.5 432.0 L249.4 433.5 L249.4 435.1 L249.5 436.6 L249.6 437.8 L249.8 439.1 L249.9 440.4 L250.1 441.9 L250.4 443.5 L250.9 445.3 L251.6 447.1 L252.5 448.9 L253.9 450.8 L255.6 452.5 L257.7 453.9 L259.8 454.9 L261.8 455.6 L263.7 456.1 L265.6 456.6 L267.4 456.9 L269.1 457.3 L270.6 457.6 L271.9 457.9 L273.1 458.2 L274.5 458.7 L276.0 459.1 L277.4 459.5 L278.6 459.8 L279.7 460.1 L280.6 460.4 L281.3 460.7 L281.7 460.9 L281.8 461.0 L281.8 461.1 L281.9 461.1 L282.0 461.4 L282.3 461.7 L282.5 462.1 L282.7 462.6 L282.8 463.0 L283.0 463.5 L283.0 463.8 L283.0 464.1 L283.0 464.3 L283.0 464.6 L282.9 465.0 L282.7 465.5 L282.5 466.0 L282.3 466.5 L282.0 467.0 L281.7 467.4 L281.5 467.7 L281.2 467.9 L280.8 468.2 L280.3 468.5 L279.4 468.8 L278.3 469.2 L277.0 469.6 L275.5 469.9 L274.0 470.2 L272.3 470.5 L270.7 470.7 L269.1 470.9 L267.6 471.0 L266.2 471.1 L264.7 471.0 L263.2 471.0 L261.7 470.8 L260.1 470.6 L258.5 470.4 L256.8 470.1 L255.1 469.8 L253.3 469.5 L251.7 469.2 L250.2 468.8 L248.8 468.4 L247.2 467.9 L245.4 467.2 L243.5 466.5 L241.5 465.8 L239.4 465.2 L237.1 464.6 L234.6 464.2 L232.1 464.0 L229.9 464.1 L227.7 464.4 L225.6 464.7 L223.5 465.2 L221.4 465.9 L219.3 466.6 L217.3 467.6 L215.3 468.7 L213.4 470.1 L211.7 471.7 L210.2 473.4 L208.8 475.3 L207.7 477.3 L206.7 479.3 L205.9 481.4 L205.2 483.6 L204.8 485.9 L204.5 488.2 L204.4 490.6 L204.6 492.9 L204.9 495.2 L205.4 497.4 L206.1 499.7 L207.0 501.9 L208.1 504.2 L209.3 506.4 L210.8 508.6 L212.5 510.6 L214.5 512.6 L216.8 514.3 L219.4 515.7 L222.1 516.6 L224.7 517.3 L227.3 517.8 L229.9 518.1 L232.4 518.2 L234.9 518.4 L237.3 518.4 L239.6 518.5 L242.0 518.5 L244.5 518.5 L247.2 518.3 L249.7 518.0 L252.2 517.7 L254.5 517.4 L256.8 517.1 L259.0 516.8 L261.0 516.6 L263.0 516.5 L264.9 516.5 L267.0 516.6 L269.3 516.6 L271.5 516.8 L273.6 516.9 L275.7 517.1 L277.6 517.4 L279.3 517.7 L280.9 518.1 L282.1 518.5 L283.2 519.1 L284.4 519.7 L285.6 520.6 L286.9 521.7 L288.1 522.8 L289.2 524.0 L290.2 525.2 L291.0 526.4 L291.6 527.5 L292.0 528.4 L292.2 529.1 L292.3 529.8 L292.3 530.8 L292.2 532.2 L292.0 533.7 L291.6 535.4 L291.0 537.0 L290.4 538.5 L289.7 540.0 L289.0 541.2 L288.4 542.1 L287.6 542.8 L286.7 543.6 L285.6 544.3 L284.3 545.0 L282.9 545.7 L281.4 546.3 L279.9 546.8 L278.4 547.1 L276.9 547.4 L275.7 547.5 L274.5 547.5 L273.3 547.4 L271.8 547.1 L270.2 546.6 L268.5 546.0 L266.7 545.4 L264.8 544.6 L262.9 543.8 L260.9 542.9 L259.1 542.2 L257.5 541.5 L256.0 540.7 L254.3 539.6 L252.5 538.5 L250.5 537.2 L248.5 536.0 L246.5 534.7 L244.2 533.6 L241.7 532.7 L239.0 532.1 L236.4 532.0 L233.9 532.4 L231.7 533.0 L229.6 533.9 L227.8 534.9 L226.1 536.1 L224.7 537.3 L223.3 538.7 L222.2 540.0 L221.1 541.5 L220.1 543.0 L219.3 544.7 L218.6 546.4 L218.0 548.3 L217.5 550.2 L217.3 552.1 L217.2 554.2 L217.3 556.3 L217.8 558.4 L218.6 560.6 L219.7 562.5 L221.0 564.2 L222.4 565.7 L224.0 567.0 L225.6 568.2 L227.2 569.3 L229.0 570.4 L230.7 571.4 L232.4 572.4 L234.3 573.4 L236.4 574.4 L238.8 575.3 L241.1 576.2 L243.6 577.0 L246.0 577.8 L248.3 578.5 L250.4 579.2 L252.3 579.9 L253.9 580.6 L255.1 581.2 L256.3 581.9 L257.4 582.6 L258.3 583.2 L259.1 583.7 L259.7 584.2 L260.1 584.5 L260.3 584.8 L260.4 584.9 L260.4 584.9 L260.5 584.9 L260.7 584.9 L260.6 585.3 L260.4 586.1 L259.9 587.2 L259.2 588.5 L258.3 589.9 L257.4 591.3 L256.4 592.8 L255.5 594.3 L254.7 595.8 L254.0 597.2 L253.4 598.5 L252.8 599.8 L252.1 601.1 L251.5 602.4 L250.9 603.7 L250.2 605.0 L249.6 606.3 L249.0 607.6 L248.3 608.9 L251.7 611.1 L252.6 610.0 L253.6 609.0 L254.6 607.9 L255.5 606.8 L256.5 605.7 L257.5 604.7 L258.4 603.6 L259.4 602.4 L260.4 601.3 L261.3 600.2 L262.2 599.1 L263.3 598.0 L264.4 596.8 L265.6 595.5 L266.8 594.1 L268.0 592.7 L269.2 591.1 L270.2 589.4 L271.0 587.4 L271.5 585.1 L271.4 583.0 L270.9 581.0 L270.1 579.2 L269.1 577.6 L267.9 576.2 L266.7 574.9 L265.4 573.8 L264.0 572.8 L262.5 571.8 L260.9 570.8 L258.9 569.7 L256.7 568.8 L254.4 567.9 L252.0 567.1 L249.7 566.4 L247.3 565.6 L245.1 564.8 L243.0 564.1 L241.2 563.4 L239.7 562.6 L238.2 561.8 L236.6 561.0 L235.1 560.1 L233.8 559.3 L232.5 558.4 L231.5 557.6 L230.7 556.9 L230.0 556.3 L229.6 555.8 L229.4 555.4 L229.3 555.1 L229.2 554.7 L229.2 554.0 L229.2 553.2 L229.3 552.3 L229.5 551.4 L229.8 550.5 L230.2 549.7 L230.5 549.0 L230.9 548.5 L231.4 548.1 L232.0 547.5 L232.7 547.0 L233.5 546.6 L234.2 546.2 L234.9 546.0 L235.6 545.8 L236.2 545.8 L236.7 545.8 L237.0 545.9 L237.4 546.1 L238.2 546.5 L239.3 547.2 L240.8 548.1 L242.5 549.3 L244.3 550.6 L246.3 551.9 L248.4 553.3 L250.6 554.7 L252.9 555.8 L255.0 556.7 L256.9 557.6 L259.0 558.5 L261.2 559.3 L263.5 560.2 L265.9 561.0 L268.4 561.7 L270.9 562.2 L273.6 562.5 L276.3 562.5 L278.9 562.3 L281.4 561.8 L283.9 561.2 L286.4 560.4 L288.9 559.5 L291.2 558.4 L293.5 557.1 L295.7 555.6 L297.8 553.9 L299.6 551.9 L301.3 549.8 L302.8 547.6 L304.2 545.2 L305.3 542.7 L306.3 540.1 L307.1 537.4 L307.7 534.6 L308.1 531.8 L308.2 528.9 L307.8 525.9 L307.1 523.1 L306.0 520.5 L304.6 518.0 L303.0 515.7 L301.3 513.5 L299.4 511.5 L297.4 509.6 L295.3 507.9 L293.1 506.3 L290.8 504.9 L288.2 503.7 L285.5 502.8 L282.9 502.1 L280.2 501.6 L277.6 501.2 L275.0 501.0 L272.4 500.8 L269.9 500.7 L267.6 500.6 L265.1 500.5 L262.5 500.5 L259.8 500.7 L257.2 500.9 L254.7 501.2 L252.3 501.5 L250.0 501.9 L247.9 502.1 L245.8 502.4 L243.9 502.5 L242.0 502.5 L239.9 502.5 L237.6 502.4 L235.5 502.4 L233.3 502.3 L231.4 502.1 L229.6 501.9 L228.0 501.7 L226.7 501.3 L225.8 501.0 L225.2 500.7 L224.6 500.3 L223.9 499.7 L223.2 498.9 L222.4 497.9 L221.7 496.8 L221.0 495.6 L220.5 494.3 L220.0 493.1 L219.7 492.0 L219.4 491.1 L219.4 490.3 L219.4 489.4 L219.5 488.4 L219.8 487.3 L220.1 486.3 L220.5 485.2 L221.0 484.2 L221.4 483.4 L221.9 482.8 L222.3 482.3 L222.7 482.0 L223.3 481.7 L224.1 481.3 L225.0 481.0 L226.0 480.6 L227.2 480.4 L228.4 480.2 L229.6 480.0 L230.8 480.0 L231.9 480.0 L232.7 480.1 L233.7 480.2 L235.0 480.6 L236.5 481.0 L238.1 481.6 L239.9 482.3 L241.9 483.0 L243.9 483.7 L246.1 484.3 L248.3 484.8 L250.3 485.2 L252.2 485.6 L254.1 485.9 L256.0 486.2 L258.0 486.5 L260.1 486.7 L262.1 486.9 L264.2 487.0 L266.3 487.1 L268.4 487.0 L270.5 486.8 L272.6 486.6 L274.7 486.3 L276.8 486.0 L279.0 485.6 L281.1 485.1 L283.2 484.5 L285.2 483.7 L287.2 482.9 L289.2 481.8 L291.0 480.5 L292.7 479.1 L294.1 477.5 L295.3 475.9 L296.3 474.2 L297.2 472.5 L297.8 470.8 L298.3 469.1 L298.7 467.5 L299.0 465.7 L299.0 463.9 L298.9 462.0 L298.6 460.2 L298.2 458.4 L297.6 456.7 L296.8 455.0 L295.9 453.4 L294.9 451.9 L293.7 450.4 L292.2 448.9 L290.4 447.7 L288.6 446.7 L286.9 446.0 L285.2 445.5 L283.6 445.1 L282.2 444.8 L280.8 444.6 L279.5 444.3 L278.2 444.1 L276.9 443.8 L275.2 443.4 L273.4 443.0 L271.6 442.8 L269.9 442.5 L268.3 442.3 L266.9 442.1 L265.7 441.8 L264.8 441.6 L264.4 441.5 L264.4 441.5 L264.4 441.6 L264.4 441.6 L264.4 441.4 L264.2 441.0 L264.1 440.5 L263.9 439.7 L263.8 438.7 L263.7 437.7 L263.6 436.5 L263.5 435.4 L263.4 434.6 L263.4 433.8 L263.5 433.0 L263.5 432.0 L263.7 430.9 L263.8 429.8 L264.0 428.6 L264.2 427.3 L264.3 426.0 L264.5 424.7Z" fill="#d88c22"/>
 <path d="M259.5 426.1a1.2 1.2 0 1 0 2.4 0a1.2 1.2 0 1 0 -2.4 0M256.1 425.7a1.2 1.2 0 1 0 2.4 0a1.2 1.2 0 1 0 -2.4 0M252.7 425.3a1.2 1.2 0 1 0 2.4 0a1.2 1.2 0 1 0 -2.4 0M260.8 429.3a1.2 1.2 0 1 0 2.4 0a1.2 1.2 0 1 0 -2.4 0M257.4 428.8a1.2 1.2 0 1 0 2.4 0a1.2 1.2 0 1 0 -2.4 0M254.0 428.4a1.2 1.2 0 1 0 2.4 0a1.2 1.2 0 1 0 -2.4 0M250.7 427.9a1.2 1.2 0 1 0 2.4 0a1.2 1.2 0 1 0 -2.4 0M258.7 431.9a1.2 1.2 0 1 0 2.4 0a1.2 1.2 0 1 0 -2.4 0M255.4 431.5a1.2 1.2 0 1 0 2.4 0a1.2 1.2 0 1 0 -2.4 0M252.0 431.2a1.2 1.2 0 1 0 2.4 0a1.2 1.2 0 1 0 -2.4 0M260.3 434.4a1.2 1.2 0 1 0 2.4 0a1.2 1.2 0 1 0 -2.4 0M256.9 434.4a1.2 1.2 0 1 0 2.4 0a1.2 1.2 0 1 0 -2.4 0M253.5 434.5a1.2 1.2 0 1 0 2.4 0a1.2 1.2 0 1 0 -2.4 0M250.1 434.6a1.2 1.2 0 1 0 2.4 0a1.2 1.2 0 1 0 -2.4 0M258.8 437.1a1.2 1.2 0 1 0 2.4 0a1.2 1.2 0 1 0 -2.4 0M255.4 437.4a1.2 1.2 0 1 0 2.4 0a1.2 1.2 0 1 0 -2.4 0M252.1 437.7a1.2 1.2 0 1 0 2.4 0a1.2 1.2 0 1 0 -2.4 0M260.8 439.6a1.2 1.2 0 1 0 2.4 0a1.2 1.2 0 1 0 -2.4 0M257.4 440.1a1.2 1.2 0 1 0 2.4 0a1.2 1.2 0 1 0 -2.4 0M254.1 440.6a1.2 1.2 0 1 0 2.4 0a1.2 1.2 0 1 0 -2.4 0M250.7 441.1a1.2 1.2 0 1 0 2.4 0a1.2 1.2 0 1 0 -2.4 0M259.6 442.1a1.2 1.2 0 1 0 2.4 0a1.2 1.2 0 1 0 -2.4 0M256.4 443.2a1.2 1.2 0 1 0 2.4 0a1.2 1.2 0 1 0 -2.4 0M253.2 444.3a1.2 1.2 0 1 0 2.4 0a1.2 1.2 0 1 0 -2.4 0M261.7 442.7a1.2 1.2 0 1 0 2.4 0a1.2 1.2 0 1 0 -2.4 0M259.0 444.8a1.2 1.2 0 1 0 2.4 0a1.2 1.2 0 1 0 -2.4 0M256.3 446.9a1.2 1.2 0 1 0 2.4 0a1.2 1.2 0 1 0 -2.4 0M253.7 449.0a1.2 1.2 0 1 0 2.4 0a1.2 1.2 0 1 0 -2.4 0M261.4 444.7a1.2 1.2 0 1 0 2.4 0a1.2 1.2 0 1 0 -2.4 0M259.9 447.7a1.2 1.2 0 1 0 2.4 0a1.2 1.2 0 1 0 -2.4 0M258.4 450.8a1.2 1.2 0 1 0 2.4 0a1.2 1.2 0 1 0 -2.4 0M264.0 443.8a1.2 1.2 0 1 0 2.4 0a1.2 1.2 0 1 0 -2.4 0M263.1 447.1a1.2 1.2 0 1 0 2.4 0a1.2 1.2 0 1 0 -2.4 0M262.2 450.4a1.2 1.2 0 1 0 2.4 0a1.2 1.2 0 1 0 -2.4 0M261.4 453.7a1.2 1.2 0 1 0 2.4 0a1.2 1.2 0 1 0 -2.4 0M266.2 446.1a1.2 1.2 0 1 0 2.4 0a1.2 1.2 0 1 0 -2.4 0M265.5 449.4a1.2 1.2 0 1 0 2.4 0a1.2 1.2 0 1 0 -2.4 0M264.9 452.7a1.2 1.2 0 1 0 2.4 0a1.2 1.2 0 1 0 -2.4 0M269.3 444.9a1.2 1.2 0 1 0 2.4 0a1.2 1.2 0 1 0 -2.4 0M268.7 448.2a1.2 1.2 0 1 0 2.4 0a1.2 1.2 0 1 0 -2.4 0M268.1 451.6a1.2 1.2 0 1 0 2.4 0a1.2 1.2 0 1 0 -2.4 0M267.6 454.9a1.2 1.2 0 1 0 2.4 0a1.2 1.2 0 1 0 -2.4 0M272.0 447.1a1.2 1.2 0 1 0 2.4 0a1.2 1.2 0 1 0 -2.4 0M271.3 450.4a1.2 1.2 0 1 0 2.4 0a1.2 1.2 0 1 0 -2.4 0M270.7 453.8a1.2 1.2 0 1 0 2.4 0a1.2 1.2 0 1 0 -2.4 0M275.6 446.2a1.2 1.2 0 1 0 2.4 0a1.2 1.2 0 1 0 -2.4 0M274.7 449.5a1.2 1.2 0 1 0 2.4 0a1.2 1.2 0 1 0 -2.4 0M273.7 452.7a1.2 1.2 0 1 0 2.4 0a1.2 1.2 0 1 0 -2.4 0M272.8 456.0a1.2 1.2 0 1 0 2.4 0a1.2 1.2 0 1 0 -2.4 0M277.8 448.5a1.2 1.2 0 1 0 2.4 0a1.2 1.2 0 1 0 -2.4 0M277.0 451.8a1.2 1.2 0 1 0 2.4 0a1.2 1.2 0 1 0 -2.4 0M276.3 455.1a1.2 1.2 0 1 0 2.4 0a1.2 1.2 0 1 0 -2.4 0M281.1 447.5a1.2 1.2 0 1 0 2.4 0a1.2 1.2 0 1 0 -2.4 0M280.3 450.8a1.2 1.2 0 1 0 2.4 0a1.2 1.2 0 1 0 -2.4 0M279.5 454.1a1.2 1.2 0 1 0 2.4 0a1.2 1.2 0 1 0 -2.4 0M278.7 457.4a1.2 1.2 0 1 0 2.4 0a1.2 1.2 0 1 0 -2.4 0M285.0 446.9a1.2 1.2 0 1 0 2.4 0a1.2 1.2 0 1 0 -2.4 0M283.9 450.1a1.2 1.2 0 1 0 2.4 0a1.2 1.2 0 1 0 -2.4 0M282.7 453.3a1.2 1.2 0 1 0 2.4 0a1.2 1.2 0 1 0 -2.4 0M281.6 456.5a1.2 1.2 0 1 0 2.4 0a1.2 1.2 0 1 0 -2.4 0M280.5 459.7a1.2 1.2 0 1 0 2.4 0a1.2 1.2 0 1 0 -2.4 0M288.2 450.4a1.2 1.2 0 1 0 2.4 0a1.2 1.2 0 1 0 -2.4 0M286.3 453.2a1.2 1.2 0 1 0 2.4 0a1.2 1.2 0 1 0 -2.4 0M284.4 456.0a1.2 1.2 0 1 0 2.4 0a1.2 1.2 0 1 0 -2.4 0M282.5 458.8a1.2 1.2 0 1 0 2.4 0a1.2 1.2 0 1 0 -2.4 0M292.9 452.9a1.2 1.2 0 1 0 2.4 0a1.2 1.2 0 1 0 -2.4 0M290.2 454.8a1.2 1.2 0 1 0 2.4 0a1.2 1.2 0 1 0 -2.4 0M287.4 456.8a1.2 1.2 0 1 0 2.4 0a1.2 1.2 0 1 0 -2.4 0M284.6 458.7a1.2 1.2 0 1 0 2.4 0a1.2 1.2 0 1 0 -2.4 0M281.8 460.7a1.2 1.2 0 1 0 2.4 0a1.2 1.2 0 1 0 -2.4 0M293.5 457.4a1.2 1.2 0 1 0 2.4 0a1.2 1.2 0 1 0 -2.4 0M290.4 458.7a1.2 1.2 0 1 0 2.4 0a1.2 1.2 0 1 0 -2.4 0M287.2 460.0a1.2 1.2 0 1 0 2.4 0a1.2 1.2 0 1 0 -2.4 0M284.1 461.3a1.2 1.2 0 1 0 2.4 0a1.2 1.2 0 1 0 -2.4 0M296.3 460.9a1.2 1.2 0 1 0 2.4 0a1.2 1.2 0 1 0 -2.4 0M293.0 461.5a1.2 1.2 0 1 0 2.4 0a1.2 1.2 0 1 0 -2.4 0M289.7 462.1a1.2 1.2 0 1 0 2.4 0a1.2 1.2 0 1 0 -2.4 0M286.3 462.8a1.2 1.2 0 1 0 2.4 0a1.2 1.2 0 1 0 -2.4 0M283.0 463.4a1.2 1.2 0 1 0 2.4 0a1.2 1.2 0 1 0 -2.4 0M294.9 465.7a1.2 1.2 0 1 0 2.4 0a1.2 1.2 0 1 0 -2.4 0M291.5 465.3a1.2 1.2 0 1 0 2.4 0a1.2 1.2 0 1 0 -2.4 0M288.1 464.9a1.2 1.2 0 1 0 2.4 0a1.2 1.2 0 1 0 -2.4 0M284.7 464.5a1.2 1.2 0 1 0 2.4 0a1.2 1.2 0 1 0 -2.4 0M295.6 470.1a1.2 1.2 0 1 0 2.4 0a1.2 1.2 0 1 0 -2.4 0M292.4 469.0a1.2 1.2 0 1 0 2.4 0a1.2 1.2 0 1 0 -2.4 0M289.2 467.9a1.2 1.2 0 1 0 2.4 0a1.2 1.2 0 1 0 -2.4 0M285.9 466.9a1.2 1.2 0 1 0 2.4 0a1.2 1.2 0 1 0 -2.4 0M282.7 465.8a1.2 1.2 0 1 0 2.4 0a1.2 1.2 0 1 0 -2.4 0M292.4 473.2a1.2 1.2 0 1 0 2.4 0a1.2 1.2 0 1 0 -2.4 0M289.4 471.5a1.2 1.2 0 1 0 2.4 0a1.2 1.2 0 1 0 -2.4 0M286.5 469.8a1.2 1.2 0 1 0 2.4 0a1.2 1.2 0 1 0 -2.4 0M283.5 468.1a1.2 1.2 0 1 0 2.4 0a1.2 1.2 0 1 0 -2.4 0M291.1 477.7a1.2 1.2 0 1 0 2.4 0a1.2 1.2 0 1 0 -2.4 0M288.7 475.4a1.2 1.2 0 1 0 2.4 0a1.2 1.2 0 1 0 -2.4 0M286.2 473.0a1.2 1.2 0 1 0 2.4 0a1.2 1.2 0 1 0 -2.4 0M283.8 470.6a1.2 1.2 0 1 0 2.4 0a1.2 1.2 0 1 0 -2.4 0M281.3 468.3a1.2 1.2 0 1 0 2.4 0a1.2 1.2 0 1 0 -2.4 0M286.8 479.2a1.2 1.2 0 1 0 2.4 0a1.2 1.2 0 1 0 -2.4 0M284.9 476.3a1.2 1.2 0 1 0 2.4 0a1.2 1.2 0 1 0 -2.4 0M283.0 473.5a1.2 1.2 0 1 0 2.4 0a1.2 1.2 0 1 0 -2.4 0M281.2 470.6a1.2 1.2 0 1 0 2.4 0a1.2 1.2 0 1 0 -2.4 0M283.9 482.5a1.2 1.2 0 1 0 2.4 0a1.2 1.2 0 1 0 -2.4 0M282.6 479.3a1.2 1.2 0 1 0 2.4 0a1.2 1.2 0 1 0 -2.4 0M281.3 476.2a1.2 1.2 0 1 0 2.4 0a1.2 1.2 0 1 0 -2.4 0M280.1 473.0a1.2 1.2 0 1 0 2.4 0a1.2 1.2 0 1 0 -2.4 0M278.8 469.9a1.2 1.2 0 1 0 2.4 0a1.2 1.2 0 1 0 -2.4 0M279.9 482.0a1.2 1.2 0 1 0 2.4 0a1.2 1.2 0 1 0 -2.4 0M279.0 478.8a1.2 1.2 0 1 0 2.4 0a1.2 1.2 0 1 0 -2.4 0M278.1 475.5a1.2 1.2 0 1 0 2.4 0a1.2 1.2 0 1 0 -2.4 0M277.2 472.2a1.2 1.2 0 1 0 2.4 0a1.2 1.2 0 1 0 -2.4 0M277.1 484.5a1.2 1.2 0 1 0 2.4 0a1.2 1.2 0 1 0 -2.4 0M276.4 481.2a1.2 1.2 0 1 0 2.4 0a1.2 1.2 0 1 0 -2.4 0M275.7 477.8a1.2 1.2 0 1 0 2.4 0a1.2 1.2 0 1 0 -2.4 0M275.0 474.5a1.2 1.2 0 1 0 2.4 0a1.2 1.2 0 1 0 -2.4 0M274.3 471.2a1.2 1.2 0 1 0 2.4 0a1.2 1.2 0 1 0 -2.4 0M273.6 483.4a1.2 1.2 0 1 0 2.4 0a1.2 1.2 0 1 0 -2.4 0M273.1 480.0a1.2 1.2 0 1 0 2.4 0a1.2 1.2 0 1 0 -2.4 0M272.5 476.7a1.2 1.2 0 1 0 2.4 0a1.2 1.2 0 1 0 -2.4 0M272.0 473.3a1.2 1.2 0 1 0 2.4 0a1.2 1.2 0 1 0 -2.4 0M270.6 485.5a1.2 1.2 0 1 0 2.4 0a1.2 1.2 0 1 0 -2.4 0M270.3 482.1a1.2 1.2 0 1 0 2.4 0a1.2 1.2 0 1 0 -2.4 0M269.9 478.7a1.2 1.2 0 1 0 2.4 0a1.2 1.2 0 1 0 -2.4 0M269.5 475.4a1.2 1.2 0 1 0 2.4 0a1.2 1.2 0 1 0 -2.4 0M269.1 472.0a1.2 1.2 0 1 0 2.4 0a1.2 1.2 0 1 0 -2.4 0M267.3 484.1a1.2 1.2 0 1 0 2.4 0a1.2 1.2 0 1 0 -2.4 0M267.1 480.7a1.2 1.2 0 1 0 2.4 0a1.2 1.2 0 1 0 -2.4 0M266.8 477.3a1.2 1.2 0 1 0 2.4 0a1.2 1.2 0 1 0 -2.4 0M266.6 473.9a1.2 1.2 0 1 0 2.4 0a1.2 1.2 0 1 0 -2.4 0M263.8 485.8a1.2 1.2 0 1 0 2.4 0a1.2 1.2 0 1 0 -2.4 0M263.9 482.4a1.2 1.2 0 1 0 2.4 0a1.2 1.2 0 1 0 -2.4 0M264.0 479.1a1.2 1.2 0 1 0 2.4 0a1.2 1.2 0 1 0 -2.4 0M264.1 475.7a1.2 1.2 0 1 0 2.4 0a1.2 1.2 0 1 0 -2.4 0M264.2 472.3a1.2 1.2 0 1 0 2.4 0a1.2 1.2 0 1 0 -2.4 0M260.7 484.0a1.2 1.2 0 1 0 2.4 0a1.2 1.2 0 1 0 -2.4 0M260.9 480.6a1.2 1.2 0 1 0 2.4 0a1.2 1.2 0 1 0 -2.4 0M261.2 477.2a1.2 1.2 0 1 0 2.4 0a1.2 1.2 0 1 0 -2.4 0M261.5 473.8a1.2 1.2 0 1 0 2.4 0a1.2 1.2 0 1 0 -2.4 0M257.3 485.3a1.2 1.2 0 1 0 2.4 0a1.2 1.2 0 1 0 -2.4 0M257.7 482.0a1.2 1.2 0 1 0 2.4 0a1.2 1.2 0 1 0 -2.4 0M258.1 478.6a1.2 1.2 0 1 0 2.4 0a1.2 1.2 0 1 0 -2.4 0M258.6 475.2a1.2 1.2 0 1 0 2.4 0a1.2 1.2 0 1 0 -2.4 0M259.0 471.8a1.2 1.2 0 1 0 2.4 0a1.2 1.2 0 1 0 -2.4 0M254.4 483.2a1.2 1.2 0 1 0 2.4 0a1.2 1.2 0 1 0 -2.4 0M255.0 479.9a1.2 1.2 0 1 0 2.4 0a1.2 1.2 0 1 0 -2.4 0M255.5 476.5a1.2 1.2 0 1 0 2.4 0a1.2 1.2 0 1 0 -2.4 0M256.0 473.1a1.2 1.2 0 1 0 2.4 0a1.2 1.2 0 1 0 -2.4 0M251.1 484.4a1.2 1.2 0 1 0 2.4 0a1.2 1.2 0 1 0 -2.4 0M251.7 481.0a1.2 1.2 0 1 0 2.4 0a1.2 1.2 0 1 0 -2.4 0M252.3 477.7a1.2 1.2 0 1 0 2.4 0a1.2 1.2 0 1 0 -2.4 0M252.9 474.3a1.2 1.2 0 1 0 2.4 0a1.2 1.2 0 1 0 -2.4 0M253.6 471.0a1.2 1.2 0 1 0 2.4 0a1.2 1.2 0 1 0 -2.4 0M248.5 482.1a1.2 1.2 0 1 0 2.4 0a1.2 1.2 0 1 0 -2.4 0M249.1 478.8a1.2 1.2 0 1 0 2.4 0a1.2 1.2 0 1 0 -2.4 0M249.7 475.5a1.2 1.2 0 1 0 2.4 0a1.2 1.2 0 1 0 -2.4 0M250.4 472.1a1.2 1.2 0 1 0 2.4 0a1.2 1.2 0 1 0 -2.4 0M244.7 483.0a1.2 1.2 0 1 0 2.4 0a1.2 1.2 0 1 0 -2.4 0M245.6 479.7a1.2 1.2 0 1 0 2.4 0a1.2 1.2 0 1 0 -2.4 0M246.6 476.5a1.2 1.2 0 1 0 2.4 0a1.2 1.2 0 1 0 -2.4 0M247.5 473.2a1.2 1.2 0 1 0 2.4 0a1.2 1.2 0 1 0 -2.4 0M248.4 469.9a1.2 1.2 0 1 0 2.4 0a1.2 1.2 0 1 0 -2.4 0M242.1 480.4a1.2 1.2 0 1 0 2.4 0a1.2 1.2 0 1 0 -2.4 0M243.2 477.2a1.2 1.2 0 1 0 2.4 0a1.2 1.2 0 1 0 -2.4 0M244.3 474.0a1.2 1.2 0 1 0 2.4 0a1.2 1.2 0 1 0 -2.4 0M245.4 470.7a1.2 1.2 0 1 0 2.4 0a1.2 1.2 0 1 0 -2.4 0M238.6 480.9a1.2 1.2 0 1 0 2.4 0a1.2 1.2 0 1 0 -2.4 0M239.8 477.8a1.2 1.2 0 1 0 2.4 0a1.2 1.2 0 1 0 -2.4 0M241.0 474.6a1.2 1.2 0 1 0 2.4 0a1.2 1.2 0 1 0 -2.4 0M242.2 471.4a1.2 1.2 0 1 0 2.4 0a1.2 1.2 0 1 0 -2.4 0M243.3 468.2a1.2 1.2 0 1 0 2.4 0a1.2 1.2 0 1 0 -2.4 0M236.6 478.4a1.2 1.2 0 1 0 2.4 0a1.2 1.2 0 1 0 -2.4 0M237.7 475.2a1.2 1.2 0 1 0 2.4 0a1.2 1.2 0 1 0 -2.4 0M238.8 472.0a1.2 1.2 0 1 0 2.4 0a1.2 1.2 0 1 0 -2.4 0M239.9 468.7a1.2 1.2 0 1 0 2.4 0a1.2 1.2 0 1 0 -2.4 0M233.6 479.3a1.2 1.2 0 1 0 2.4 0a1.2 1.2 0 1 0 -2.4 0M234.5 476.0a1.2 1.2 0 1 0 2.4 0a1.2 1.2 0 1 0 -2.4 0M235.4 472.7a1.2 1.2 0 1 0 2.4 0a1.2 1.2 0 1 0 -2.4 0M236.3 469.4a1.2 1.2 0 1 0 2.4 0a1.2 1.2 0 1 0 -2.4 0M237.2 466.1a1.2 1.2 0 1 0 2.4 0a1.2 1.2 0 1 0 -2.4 0M231.8 477.2a1.2 1.2 0 1 0 2.4 0a1.2 1.2 0 1 0 -2.4 0M232.3 473.8a1.2 1.2 0 1 0 2.4 0a1.2 1.2 0 1 0 -2.4 0M232.8 470.4a1.2 1.2 0 1 0 2.4 0a1.2 1.2 0 1 0 -2.4 0M233.3 467.1a1.2 1.2 0 1 0 2.4 0a1.2 1.2 0 1 0 -2.4 0M229.9 478.8a1.2 1.2 0 1 0 2.4 0a1.2 1.2 0 1 0 -2.4 0M229.7 475.4a1.2 1.2 0 1 0 2.4 0a1.2 1.2 0 1 0 -2.4 0M229.6 472.0a1.2 1.2 0 1 0 2.4 0a1.2 1.2 0 1 0 -2.4 0M229.4 468.6a1.2 1.2 0 1 0 2.4 0a1.2 1.2 0 1 0 -2.4 0M229.3 465.2a1.2 1.2 0 1 0 2.4 0a1.2 1.2 0 1 0 -2.4 0M227.3 477.4a1.2 1.2 0 1 0 2.4 0a1.2 1.2 0 1 0 -2.4 0M226.9 474.0a1.2 1.2 0 1 0 2.4 0a1.2 1.2 0 1 0 -2.4 0M226.4 470.6a1.2 1.2 0 1 0 2.4 0a1.2 1.2 0 1 0 -2.4 0M226.0 467.3a1.2 1.2 0 1 0 2.4 0a1.2 1.2 0 1 0 -2.4 0M224.6 476.2a1.2 1.2 0 1 0 2.4 0a1.2 1.2 0 1 0 -2.4 0M223.8 472.9a1.2 1.2 0 1 0 2.4 0a1.2 1.2 0 1 0 -2.4 0M222.9 469.6a1.2 1.2 0 1 0 2.4 0a1.2 1.2 0 1 0 -2.4 0M222.8 478.6a1.2 1.2 0 1 0 2.4 0a1.2 1.2 0 1 0 -2.4 0M221.6 475.4a1.2 1.2 0 1 0 2.4 0a1.2 1.2 0 1 0 -2.4 0M220.4 472.2a1.2 1.2 0 1 0 2.4 0a1.2 1.2 0 1 0 -2.4 0M219.2 469.0a1.2 1.2 0 1 0 2.4 0a1.2 1.2 0 1 0 -2.4 0M220.0 478.0a1.2 1.2 0 1 0 2.4 0a1.2 1.2 0 1 0 -2.4 0M218.3 475.1a1.2 1.2 0 1 0 2.4 0a1.2 1.2 0 1 0 -2.4 0M216.6 472.1a1.2 1.2 0 1 0 2.4 0a1.2 1.2 0 1 0 -2.4 0M219.5 480.6a1.2 1.2 0 1 0 2.4 0a1.2 1.2 0 1 0 -2.4 0M217.1 478.1a1.2 1.2 0 1 0 2.4 0a1.2 1.2 0 1 0 -2.4 0M214.8 475.6a1.2 1.2 0 1 0 2.4 0a1.2 1.2 0 1 0 -2.4 0M212.5 473.1a1.2 1.2 0 1 0 2.4 0a1.2 1.2 0 1 0 -2.4 0M216.9 481.0a1.2 1.2 0 1 0 2.4 0a1.2 1.2 0 1 0 -2.4 0M214.1 479.1a1.2 1.2 0 1 0 2.4 0a1.2 1.2 0 1 0 -2.4 0M211.3 477.2a1.2 1.2 0 1 0 2.4 0a1.2 1.2 0 1 0 -2.4 0M217.3 483.8a1.2 1.2 0 1 0 2.4 0a1.2 1.2 0 1 0 -2.4 0M214.2 482.4a1.2 1.2 0 1 0 2.4 0a1.2 1.2 0 1 0 -2.4 0M211.1 481.0a1.2 1.2 0 1 0 2.4 0a1.2 1.2 0 1 0 -2.4 0M208.0 479.6a1.2 1.2 0 1 0 2.4 0a1.2 1.2 0 1 0 -2.4 0M214.9 485.5a1.2 1.2 0 1 0 2.4 0a1.2 1.2 0 1 0 -2.4 0M211.6 484.4a1.2 1.2 0 1 0 2.4 0a1.2 1.2 0 1 0 -2.4 0M208.4 483.4a1.2 1.2 0 1 0 2.4 0a1.2 1.2 0 1 0 -2.4 0M216.0 488.0a1.2 1.2 0 1 0 2.4 0a1.2 1.2 0 1 0 -2.4 0M212.6 487.5a1.2 1.2 0 1 0 2.4 0a1.2 1.2 0 1 0 -2.4 0M209.3 487.0a1.2 1.2 0 1 0 2.4 0a1.2 1.2 0 1 0 -2.4 0M205.9 486.5a1.2 1.2 0 1 0 2.4 0a1.2 1.2 0 1 0 -2.4 0M214.1 490.3a1.2 1.2 0 1 0 2.4 0a1.2 1.2 0 1 0 -2.4 0M210.7 490.2a1.2 1.2 0 1 0 2.4 0a1.2 1.2 0 1 0 -2.4 0M207.3 490.2a1.2 1.2 0 1 0 2.4 0a1.2 1.2 0 1 0 -2.4 0M216.0 492.2a1.2 1.2 0 1 0 2.4 0a1.2 1.2 0 1 0 -2.4 0M212.7 492.8a1.2 1.2 0 1 0 2.4 0a1.2 1.2 0 1 0 -2.4 0M209.3 493.5a1.2 1.2 0 1 0 2.4 0a1.2 1.2 0 1 0 -2.4 0M206.0 494.1a1.2 1.2 0 1 0 2.4 0a1.2 1.2 0 1 0 -2.4 0M215.0 495.0a1.2 1.2 0 1 0 2.4 0a1.2 1.2 0 1 0 -2.4 0M211.7 496.0a1.2 1.2 0 1 0 2.4 0a1.2 1.2 0 1 0 -2.4 0M208.5 497.0a1.2 1.2 0 1 0 2.4 0a1.2 1.2 0 1 0 -2.4 0M217.5 496.7a1.2 1.2 0 1 0 2.4 0a1.2 1.2 0 1 0 -2.4 0M214.4 498.1a1.2 1.2 0 1 0 2.4 0a1.2 1.2 0 1 0 -2.4 0M211.2 499.4a1.2 1.2 0 1 0 2.4 0a1.2 1.2 0 1 0 -2.4 0M208.1 500.8a1.2 1.2 0 1 0 2.4 0a1.2 1.2 0 1 0 -2.4 0M217.1 499.7a1.2 1.2 0 1 0 2.4 0a1.2 1.2 0 1 0 -2.4 0M214.2 501.3a1.2 1.2 0 1 0 2.4 0a1.2 1.2 0 1 0 -2.4 0M211.2 503.0a1.2 1.2 0 1 0 2.4 0a1.2 1.2 0 1 0 -2.4 0M219.8 500.6a1.2 1.2 0 1 0 2.4 0a1.2 1.2 0 1 0 -2.4 0M217.1 502.7a1.2 1.2 0 1 0 2.4 0a1.2 1.2 0 1 0 -2.4 0M214.5 504.9a1.2 1.2 0 1 0 2.4 0a1.2 1.2 0 1 0 -2.4 0M211.8 507.0a1.2 1.2 0 1 0 2.4 0a1.2 1.2 0 1 0 -2.4 0M222.3 500.9a1.2 1.2 0 1 0 2.4 0a1.2 1.2 0 1 0 -2.4 0M220.0 503.4a1.2 1.2 0 1 0 2.4 0a1.2 1.2 0 1 0 -2.4 0M217.8 506.0a1.2 1.2 0 1 0 2.4 0a1.2 1.2 0 1 0 -2.4 0M215.5 508.5a1.2 1.2 0 1 0 2.4 0a1.2 1.2 0 1 0 -2.4 0M213.3 511.0a1.2 1.2 0 1 0 2.4 0a1.2 1.2 0 1 0 -2.4 0M222.7 503.3a1.2 1.2 0 1 0 2.4 0a1.2 1.2 0 1 0 -2.4 0M221.0 506.2a1.2 1.2 0 1 0 2.4 0a1.2 1.2 0 1 0 -2.4 0M219.3 509.2a1.2 1.2 0 1 0 2.4 0a1.2 1.2 0 1 0 -2.4 0M217.6 512.1a1.2 1.2 0 1 0 2.4 0a1.2 1.2 0 1 0 -2.4 0M225.0 502.4a1.2 1.2 0 1 0 2.4 0a1.2 1.2 0 1 0 -2.4 0M223.9 505.6a1.2 1.2 0 1 0 2.4 0a1.2 1.2 0 1 0 -2.4 0M222.8 508.9a1.2 1.2 0 1 0 2.4 0a1.2 1.2 0 1 0 -2.4 0M221.8 512.1a1.2 1.2 0 1 0 2.4 0a1.2 1.2 0 1 0 -2.4 0M220.7 515.3a1.2 1.2 0 1 0 2.4 0a1.2 1.2 0 1 0 -2.4 0M226.7 504.6a1.2 1.2 0 1 0 2.4 0a1.2 1.2 0 1 0 -2.4 0M226.0 507.9a1.2 1.2 0 1 0 2.4 0a1.2 1.2 0 1 0 -2.4 0M225.4 511.3a1.2 1.2 0 1 0 2.4 0a1.2 1.2 0 1 0 -2.4 0M224.7 514.6a1.2 1.2 0 1 0 2.4 0a1.2 1.2 0 1 0 -2.4 0M229.3 503.2a1.2 1.2 0 1 0 2.4 0a1.2 1.2 0 1 0 -2.4 0M229.0 506.6a1.2 1.2 0 1 0 2.4 0a1.2 1.2 0 1 0 -2.4 0M228.6 510.0a1.2 1.2 0 1 0 2.4 0a1.2 1.2 0 1 0 -2.4 0M228.3 513.4a1.2 1.2 0 1 0 2.4 0a1.2 1.2 0 1 0 -2.4 0M227.9 516.8a1.2 1.2 0 1 0 2.4 0a1.2 1.2 0 1 0 -2.4 0M231.9 505.2a1.2 1.2 0 1 0 2.4 0a1.2 1.2 0 1 0 -2.4 0M231.7 508.6a1.2 1.2 0 1 0 2.4 0a1.2 1.2 0 1 0 -2.4 0M231.4 511.9a1.2 1.2 0 1 0 2.4 0a1.2 1.2 0 1 0 -2.4 0M231.2 515.3a1.2 1.2 0 1 0 2.4 0a1.2 1.2 0 1 0 -2.4 0M234.7 503.6a1.2 1.2 0 1 0 2.4 0a1.2 1.2 0 1 0 -2.4 0M234.6 507.0a1.2 1.2 0 1 0 2.4 0a1.2 1.2 0 1 0 -2.4 0M234.5 510.4a1.2 1.2 0 1 0 2.4 0a1.2 1.2 0 1 0 -2.4 0M234.4 513.8a1.2 1.2 0 1 0 2.4 0a1.2 1.2 0 1 0 -2.4 0M234.3 517.2a1.2 1.2 0 1 0 2.4 0a1.2 1.2 0 1 0 -2.4 0M237.5 505.3a1.2 1.2 0 1 0 2.4 0a1.2 1.2 0 1 0 -2.4 0M237.5 508.7a1.2 1.2 0 1 0 2.4 0a1.2 1.2 0 1 0 -2.4 0M237.4 512.1a1.2 1.2 0 1 0 2.4 0a1.2 1.2 0 1 0 -2.4 0M237.4 515.5a1.2 1.2 0 1 0 2.4 0a1.2 1.2 0 1 0 -2.4 0M240.5 503.7a1.2 1.2 0 1 0 2.4 0a1.2 1.2 0 1 0 -2.4 0M240.4 507.1a1.2 1.2 0 1 0 2.4 0a1.2 1.2 0 1 0 -2.4 0M240.4 510.5a1.2 1.2 0 1 0 2.4 0a1.2 1.2 0 1 0 -2.4 0M240.3 513.9a1.2 1.2 0 1 0 2.4 0a1.2 1.2 0 1 0 -2.4 0M240.2 517.3a1.2 1.2 0 1 0 2.4 0a1.2 1.2 0 1 0 -2.4 0M243.1 505.4a1.2 1.2 0 1 0 2.4 0a1.2 1.2 0 1 0 -2.4 0M243.2 508.8a1.2 1.2 0 1 0 2.4 0a1.2 1.2 0 1 0 -2.4 0M243.4 512.2a1.2 1.2 0 1 0 2.4 0a1.2 1.2 0 1 0 -2.4 0M243.6 515.6a1.2 1.2 0 1 0 2.4 0a1.2 1.2 0 1 0 -2.4 0M245.6 503.5a1.2 1.2 0 1 0 2.4 0a1.2 1.2 0 1 0 -2.4 0M245.9 506.9a1.2 1.2 0 1 0 2.4 0a1.2 1.2 0 1 0 -2.4 0M246.3 510.2a1.2 1.2 0 1 0 2.4 0a1.2 1.2 0 1 0 -2.4 0M246.6 513.6a1.2 1.2 0 1 0 2.4 0a1.2 1.2 0 1 0 -2.4 0M246.9 517.0a1.2 1.2 0 1 0 2.4 0a1.2 1.2 0 1 0 -2.4 0M248.5 504.8a1.2 1.2 0 1 0 2.4 0a1.2 1.2 0 1 0 -2.4 0M249.0 508.2a1.2 1.2 0 1 0 2.4 0a1.2 1.2 0 1 0 -2.4 0M249.4 511.6a1.2 1.2 0 1 0 2.4 0a1.2 1.2 0 1 0 -2.4 0M249.9 514.9a1.2 1.2 0 1 0 2.4 0a1.2 1.2 0 1 0 -2.4 0M251.1 502.8a1.2 1.2 0 1 0 2.4 0a1.2 1.2 0 1 0 -2.4 0M251.6 506.1a1.2 1.2 0 1 0 2.4 0a1.2 1.2 0 1 0 -2.4 0M252.1 509.5a1.2 1.2 0 1 0 2.4 0a1.2 1.2 0 1 0 -2.4 0M252.6 512.9a1.2 1.2 0 1 0 2.4 0a1.2 1.2 0 1 0 -2.4 0M253.0 516.2a1.2 1.2 0 1 0 2.4 0a1.2 1.2 0 1 0 -2.4 0M254.4 504.0a1.2 1.2 0 1 0 2.4 0a1.2 1.2 0 1 0 -2.4 0M254.8 507.4a1.2 1.2 0 1 0 2.4 0a1.2 1.2 0 1 0 -2.4 0M255.2 510.8a1.2 1.2 0 1 0 2.4 0a1.2 1.2 0 1 0 -2.4 0M255.7 514.1a1.2 1.2 0 1 0 2.4 0a1.2 1.2 0 1 0 -2.4 0M257.2 502.0a1.2 1.2 0 1 0 2.4 0a1.2 1.2 0 1 0 -2.4 0M257.6 505.4a1.2 1.2 0 1 0 2.4 0a1.2 1.2 0 1 0 -2.4 0M257.9 508.7a1.2 1.2 0 1 0 2.4 0a1.2 1.2 0 1 0 -2.4 0M258.3 512.1a1.2 1.2 0 1 0 2.4 0a1.2 1.2 0 1 0 -2.4 0M258.7 515.5a1.2 1.2 0 1 0 2.4 0a1.2 1.2 0 1 0 -2.4 0M260.7 503.4a1.2 1.2 0 1 0 2.4 0a1.2 1.2 0 1 0 -2.4 0M260.8 506.8a1.2 1.2 0 1 0 2.4 0a1.2 1.2 0 1 0 -2.4 0M260.9 510.2a1.2 1.2 0 1 0 2.4 0a1.2 1.2 0 1 0 -2.4 0M261.1 513.6a1.2 1.2 0 1 0 2.4 0a1.2 1.2 0 1 0 -2.4 0M264.0 501.7a1.2 1.2 0 1 0 2.4 0a1.2 1.2 0 1 0 -2.4 0M263.9 505.1a1.2 1.2 0 1 0 2.4 0a1.2 1.2 0 1 0 -2.4 0M263.8 508.5a1.2 1.2 0 1 0 2.4 0a1.2 1.2 0 1 0 -2.4 0M263.7 511.9a1.2 1.2 0 1 0 2.4 0a1.2 1.2 0 1 0 -2.4 0M263.6 515.3a1.2 1.2 0 1 0 2.4 0a1.2 1.2 0 1 0 -2.4 0M266.9 503.5a1.2 1.2 0 1 0 2.4 0a1.2 1.2 0 1 0 -2.4 0M266.8 506.9a1.2 1.2 0 1 0 2.4 0a1.2 1.2 0 1 0 -2.4 0M266.7 510.3a1.2 1.2 0 1 0 2.4 0a1.2 1.2 0 1 0 -2.4 0M266.6 513.7a1.2 1.2 0 1 0 2.4 0a1.2 1.2 0 1 0 -2.4 0M270.1 501.9a1.2 1.2 0 1 0 2.4 0a1.2 1.2 0 1 0 -2.4 0M269.9 505.3a1.2 1.2 0 1 0 2.4 0a1.2 1.2 0 1 0 -2.4 0M269.7 508.7a1.2 1.2 0 1 0 2.4 0a1.2 1.2 0 1 0 -2.4 0M269.5 512.1a1.2 1.2 0 1 0 2.4 0a1.2 1.2 0 1 0 -2.4 0M269.4 515.5a1.2 1.2 0 1 0 2.4 0a1.2 1.2 0 1 0 -2.4 0M273.0 503.8a1.2 1.2 0 1 0 2.4 0a1.2 1.2 0 1 0 -2.4 0M272.8 507.2a1.2 1.2 0 1 0 2.4 0a1.2 1.2 0 1 0 -2.4 0M272.5 510.6a1.2 1.2 0 1 0 2.4 0a1.2 1.2 0 1 0 -2.4 0M272.3 514.0a1.2 1.2 0 1 0 2.4 0a1.2 1.2 0 1 0 -2.4 0M276.4 502.4a1.2 1.2 0 1 0 2.4 0a1.2 1.2 0 1 0 -2.4 0M276.0 505.8a1.2 1.2 0 1 0 2.4 0a1.2 1.2 0 1 0 -2.4 0M275.6 509.2a1.2 1.2 0 1 0 2.4 0a1.2 1.2 0 1 0 -2.4 0M275.1 512.5a1.2 1.2 0 1 0 2.4 0a1.2 1.2 0 1 0 -2.4 0M274.7 515.9a1.2 1.2 0 1 0 2.4 0a1.2 1.2 0 1 0 -2.4 0M279.4 504.6a1.2 1.2 0 1 0 2.4 0a1.2 1.2 0 1 0 -2.4 0M278.8 507.9a1.2 1.2 0 1 0 2.4 0a1.2 1.2 0 1 0 -2.4 0M278.2 511.3a1.2 1.2 0 1 0 2.4 0a1.2 1.2 0 1 0 -2.4 0M277.6 514.6a1.2 1.2 0 1 0 2.4 0a1.2 1.2 0 1 0 -2.4 0M283.2 503.7a1.2 1.2 0 1 0 2.4 0a1.2 1.2 0 1 0 -2.4 0M282.3 507.0a1.2 1.2 0 1 0 2.4 0a1.2 1.2 0 1 0 -2.4 0M281.4 510.3a1.2 1.2 0 1 0 2.4 0a1.2 1.2 0 1 0 -2.4 0M280.4 513.5a1.2 1.2 0 1 0 2.4 0a1.2 1.2 0 1 0 -2.4 0M279.5 516.8a1.2 1.2 0 1 0 2.4 0a1.2 1.2 0 1 0 -2.4 0M286.2 506.5a1.2 1.2 0 1 0 2.4 0a1.2 1.2 0 1 0 -2.4 0M284.8 509.7a1.2 1.2 0 1 0 2.4 0a1.2 1.2 0 1 0 -2.4 0M283.5 512.8a1.2 1.2 0 1 0 2.4 0a1.2 1.2 0 1 0 -2.4 0M282.1 515.9a1.2 1.2 0 1 0 2.4 0a1.2 1.2 0 1 0 -2.4 0M290.4 506.8a1.2 1.2 0 1 0 2.4 0a1.2 1.2 0 1 0 -2.4 0M288.6 509.7a1.2 1.2 0 1 0 2.4 0a1.2 1.2 0 1 0 -2.4 0M286.8 512.6a1.2 1.2 0 1 0 2.4 0a1.2 1.2 0 1 0 -2.4 0M285.0 515.4a1.2 1.2 0 1 0 2.4 0a1.2 1.2 0 1 0 -2.4 0M283.2 518.3a1.2 1.2 0 1 0 2.4 0a1.2 1.2 0 1 0 -2.4 0M292.2 510.1a1.2 1.2 0 1 0 2.4 0a1.2 1.2 0 1 0 -2.4 0M290.2 512.8a1.2 1.2 0 1 0 2.4 0a1.2 1.2 0 1 0 -2.4 0M288.2 515.6a1.2 1.2 0 1 0 2.4 0a1.2 1.2 0 1 0 -2.4 0M286.2 518.3a1.2 1.2 0 1 0 2.4 0a1.2 1.2 0 1 0 -2.4 0M296.0 511.1a1.2 1.2 0 1 0 2.4 0a1.2 1.2 0 1 0 -2.4 0M293.7 513.6a1.2 1.2 0 1 0 2.4 0a1.2 1.2 0 1 0 -2.4 0M291.5 516.1a1.2 1.2 0 1 0 2.4 0a1.2 1.2 0 1 0 -2.4 0M289.2 518.6a1.2 1.2 0 1 0 2.4 0a1.2 1.2 0 1 0 -2.4 0M286.9 521.1a1.2 1.2 0 1 0 2.4 0a1.2 1.2 0 1 0 -2.4 0M297.3 514.8a1.2 1.2 0 1 0 2.4 0a1.2 1.2 0 1 0 -2.4 0M294.8 517.0a1.2 1.2 0 1 0 2.4 0a1.2 1.2 0 1 0 -2.4 0M292.3 519.3a1.2 1.2 0 1 0 2.4 0a1.2 1.2 0 1 0 -2.4 0M289.7 521.6a1.2 1.2 0 1 0 2.4 0a1.2 1.2 0 1 0 -2.4 0M301.0 516.5a1.2 1.2 0 1 0 2.4 0a1.2 1.2 0 1 0 -2.4 0M298.2 518.5a1.2 1.2 0 1 0 2.4 0a1.2 1.2 0 1 0 -2.4 0M295.4 520.4a1.2 1.2 0 1 0 2.4 0a1.2 1.2 0 1 0 -2.4 0M292.6 522.4a1.2 1.2 0 1 0 2.4 0a1.2 1.2 0 1 0 -2.4 0M289.9 524.4a1.2 1.2 0 1 0 2.4 0a1.2 1.2 0 1 0 -2.4 0M301.4 520.3a1.2 1.2 0 1 0 2.4 0a1.2 1.2 0 1 0 -2.4 0M298.5 522.1a1.2 1.2 0 1 0 2.4 0a1.2 1.2 0 1 0 -2.4 0M295.5 523.8a1.2 1.2 0 1 0 2.4 0a1.2 1.2 0 1 0 -2.4 0M292.6 525.5a1.2 1.2 0 1 0 2.4 0a1.2 1.2 0 1 0 -2.4 0M304.6 523.1a1.2 1.2 0 1 0 2.4 0a1.2 1.2 0 1 0 -2.4 0M301.4 524.3a1.2 1.2 0 1 0 2.4 0a1.2 1.2 0 1 0 -2.4 0M298.2 525.6a1.2 1.2 0 1 0 2.4 0a1.2 1.2 0 1 0 -2.4 0M295.1 526.8a1.2 1.2 0 1 0 2.4 0a1.2 1.2 0 1 0 -2.4 0M291.9 528.0a1.2 1.2 0 1 0 2.4 0a1.2 1.2 0 1 0 -2.4 0M304.0 528.0a1.2 1.2 0 1 0 2.4 0a1.2 1.2 0 1 0 -2.4 0M300.6 528.3a1.2 1.2 0 1 0 2.4 0a1.2 1.2 0 1 0 -2.4 0M297.3 528.6a1.2 1.2 0 1 0 2.4 0a1.2 1.2 0 1 0 -2.4 0M293.9 528.9a1.2 1.2 0 1 0 2.4 0a1.2 1.2 0 1 0 -2.4 0M305.8 532.0a1.2 1.2 0 1 0 2.4 0a1.2 1.2 0 1 0 -2.4 0M302.4 531.7a1.2 1.2 0 1 0 2.4 0a1.2 1.2 0 1 0 -2.4 0M299.0 531.4a1.2 1.2 0 1 0 2.4 0a1.2 1.2 0 1 0 -2.4 0M295.6 531.1a1.2 1.2 0 1 0 2.4 0a1.2 1.2 0 1 0 -2.4 0M292.2 530.8a1.2 1.2 0 1 0 2.4 0a1.2 1.2 0 1 0 -2.4 0M303.6 535.2a1.2 1.2 0 1 0 2.4 0a1.2 1.2 0 1 0 -2.4 0M300.3 534.6a1.2 1.2 0 1 0 2.4 0a1.2 1.2 0 1 0 -2.4 0M296.9 534.0a1.2 1.2 0 1 0 2.4 0a1.2 1.2 0 1 0 -2.4 0M293.6 533.4a1.2 1.2 0 1 0 2.4 0a1.2 1.2 0 1 0 -2.4 0M301.2 538.1a1.2 1.2 0 1 0 2.4 0a1.2 1.2 0 1 0 -2.4 0M297.9 537.1a1.2 1.2 0 1 0 2.4 0a1.2 1.2 0 1 0 -2.4 0M294.7 536.2a1.2 1.2 0 1 0 2.4 0a1.2 1.2 0 1 0 -2.4 0M301.6 541.9a1.2 1.2 0 1 0 2.4 0a1.2 1.2 0 1 0 -2.4 0M298.5 540.6a1.2 1.2 0 1 0 2.4 0a1.2 1.2 0 1 0 -2.4 0M295.4 539.3a1.2 1.2 0 1 0 2.4 0a1.2 1.2 0 1 0 -2.4 0M292.2 537.9a1.2 1.2 0 1 0 2.4 0a1.2 1.2 0 1 0 -2.4 0M298.7 544.1a1.2 1.2 0 1 0 2.4 0a1.2 1.2 0 1 0 -2.4 0M295.7 542.6a1.2 1.2 0 1 0 2.4 0a1.2 1.2 0 1 0 -2.4 0M292.7 541.1a1.2 1.2 0 1 0 2.4 0a1.2 1.2 0 1 0 -2.4 0M298.5 548.0a1.2 1.2 0 1 0 2.4 0a1.2 1.2 0 1 0 -2.4 0M295.6 546.1a1.2 1.2 0 1 0 2.4 0a1.2 1.2 0 1 0 -2.4 0M292.8 544.2a1.2 1.2 0 1 0 2.4 0a1.2 1.2 0 1 0 -2.4 0M290.0 542.3a1.2 1.2 0 1 0 2.4 0a1.2 1.2 0 1 0 -2.4 0M294.9 549.7a1.2 1.2 0 1 0 2.4 0a1.2 1.2 0 1 0 -2.4 0M292.4 547.4a1.2 1.2 0 1 0 2.4 0a1.2 1.2 0 1 0 -2.4 0M289.9 545.1a1.2 1.2 0 1 0 2.4 0a1.2 1.2 0 1 0 -2.4 0M293.3 553.4a1.2 1.2 0 1 0 2.4 0a1.2 1.2 0 1 0 -2.4 0M291.3 550.7a1.2 1.2 0 1 0 2.4 0a1.2 1.2 0 1 0 -2.4 0M289.2 548.1a1.2 1.2 0 1 0 2.4 0a1.2 1.2 0 1 0 -2.4 0M287.1 545.4a1.2 1.2 0 1 0 2.4 0a1.2 1.2 0 1 0 -2.4 0M289.5 554.0a1.2 1.2 0 1 0 2.4 0a1.2 1.2 0 1 0 -2.4 0M287.8 551.0a1.2 1.2 0 1 0 2.4 0a1.2 1.2 0 1 0 -2.4 0M286.0 548.1a1.2 1.2 0 1 0 2.4 0a1.2 1.2 0 1 0 -2.4 0M287.2 557.0a1.2 1.2 0 1 0 2.4 0a1.2 1.2 0 1 0 -2.4 0M285.8 553.9a1.2 1.2 0 1 0 2.4 0a1.2 1.2 0 1 0 -2.4 0M284.4 550.8a1.2 1.2 0 1 0 2.4 0a1.2 1.2 0 1 0 -2.4 0M283.0 547.7a1.2 1.2 0 1 0 2.4 0a1.2 1.2 0 1 0 -2.4 0M283.5 556.7a1.2 1.2 0 1 0 2.4 0a1.2 1.2 0 1 0 -2.4 0M282.4 553.5a1.2 1.2 0 1 0 2.4 0a1.2 1.2 0 1 0 -2.4 0M281.3 550.2a1.2 1.2 0 1 0 2.4 0a1.2 1.2 0 1 0 -2.4 0M280.7 559.3a1.2 1.2 0 1 0 2.4 0a1.2 1.2 0 1 0 -2.4 0M280.0 555.9a1.2 1.2 0 1 0 2.4 0a1.2 1.2 0 1 0 -2.4 0M279.2 552.6a1.2 1.2 0 1 0 2.4 0a1.2 1.2 0 1 0 -2.4 0M278.5 549.3a1.2 1.2 0 1 0 2.4 0a1.2 1.2 0 1 0 -2.4 0M277.1 558.2a1.2 1.2 0 1 0 2.4 0a1.2 1.2 0 1 0 -2.4 0M276.7 554.8a1.2 1.2 0 1 0 2.4 0a1.2 1.2 0 1 0 -2.4 0M276.3 551.4a1.2 1.2 0 1 0 2.4 0a1.2 1.2 0 1 0 -2.4 0M273.6 560.1a1.2 1.2 0 1 0 2.4 0a1.2 1.2 0 1 0 -2.4 0M273.7 556.7a1.2 1.2 0 1 0 2.4 0a1.2 1.2 0 1 0 -2.4 0M273.8 553.3a1.2 1.2 0 1 0 2.4 0a1.2 1.2 0 1 0 -2.4 0M273.9 549.9a1.2 1.2 0 1 0 2.4 0a1.2 1.2 0 1 0 -2.4 0M270.2 558.1a1.2 1.2 0 1 0 2.4 0a1.2 1.2 0 1 0 -2.4 0M270.8 554.7a1.2 1.2 0 1 0 2.4 0a1.2 1.2 0 1 0 -2.4 0M271.4 551.4a1.2 1.2 0 1 0 2.4 0a1.2 1.2 0 1 0 -2.4 0M266.7 559.1a1.2 1.2 0 1 0 2.4 0a1.2 1.2 0 1 0 -2.4 0M267.5 555.8a1.2 1.2 0 1 0 2.4 0a1.2 1.2 0 1 0 -2.4 0M268.4 552.5a1.2 1.2 0 1 0 2.4 0a1.2 1.2 0 1 0 -2.4 0M269.2 549.2a1.2 1.2 0 1 0 2.4 0a1.2 1.2 0 1 0 -2.4 0M264.0 556.5a1.2 1.2 0 1 0 2.4 0a1.2 1.2 0 1 0 -2.4 0M265.1 553.2a1.2 1.2 0 1 0 2.4 0a1.2 1.2 0 1 0 -2.4 0M266.2 550.0a1.2 1.2 0 1 0 2.4 0a1.2 1.2 0 1 0 -2.4 0M260.5 556.9a1.2 1.2 0 1 0 2.4 0a1.2 1.2 0 1 0 -2.4 0M261.7 553.8a1.2 1.2 0 1 0 2.4 0a1.2 1.2 0 1 0 -2.4 0M263.0 550.6a1.2 1.2 0 1 0 2.4 0a1.2 1.2 0 1 0 -2.4 0M264.3 547.5a1.2 1.2 0 1 0 2.4 0a1.2 1.2 0 1 0 -2.4 0M258.3 554.2a1.2 1.2 0 1 0 2.4 0a1.2 1.2 0 1 0 -2.4 0M259.7 551.1a1.2 1.2 0 1 0 2.4 0a1.2 1.2 0 1 0 -2.4 0M261.0 548.0a1.2 1.2 0 1 0 2.4 0a1.2 1.2 0 1 0 -2.4 0M254.9 554.6a1.2 1.2 0 1 0 2.4 0a1.2 1.2 0 1 0 -2.4 0M256.3 551.5a1.2 1.2 0 1 0 2.4 0a1.2 1.2 0 1 0 -2.4 0M257.6 548.4a1.2 1.2 0 1 0 2.4 0a1.2 1.2 0 1 0 -2.4 0M259.0 545.2a1.2 1.2 0 1 0 2.4 0a1.2 1.2 0 1 0 -2.4 0M252.9 551.9a1.2 1.2 0 1 0 2.4 0a1.2 1.2 0 1 0 -2.4 0M254.2 548.8a1.2 1.2 0 1 0 2.4 0a1.2 1.2 0 1 0 -2.4 0M255.6 545.7a1.2 1.2 0 1 0 2.4 0a1.2 1.2 0 1 0 -2.4 0M249.1 551.8a1.2 1.2 0 1 0 2.4 0a1.2 1.2 0 1 0 -2.4 0M250.8 548.9a1.2 1.2 0 1 0 2.4 0a1.2 1.2 0 1 0 -2.4 0M252.5 545.9a1.2 1.2 0 1 0 2.4 0a1.2 1.2 0 1 0 -2.4 0M254.2 543.0a1.2 1.2 0 1 0 2.4 0a1.2 1.2 0 1 0 -2.4 0M247.3 548.7a1.2 1.2 0 1 0 2.4 0a1.2 1.2 0 1 0 -2.4 0M249.1 545.8a1.2 1.2 0 1 0 2.4 0a1.2 1.2 0 1 0 -2.4 0M251.0 543.0a1.2 1.2 0 1 0 2.4 0a1.2 1.2 0 1 0 -2.4 0M243.8 548.4a1.2 1.2 0 1 0 2.4 0a1.2 1.2 0 1 0 -2.4 0M245.7 545.6a1.2 1.2 0 1 0 2.4 0a1.2 1.2 0 1 0 -2.4 0M247.7 542.8a1.2 1.2 0 1 0 2.4 0a1.2 1.2 0 1 0 -2.4 0M249.6 540.0a1.2 1.2 0 1 0 2.4 0a1.2 1.2 0 1 0 -2.4 0M242.4 545.4a1.2 1.2 0 1 0 2.4 0a1.2 1.2 0 1 0 -2.4 0M244.3 542.6a1.2 1.2 0 1 0 2.4 0a1.2 1.2 0 1 0 -2.4 0M246.1 539.7a1.2 1.2 0 1 0 2.4 0a1.2 1.2 0 1 0 -2.4 0M239.1 545.4a1.2 1.2 0 1 0 2.4 0a1.2 1.2 0 1 0 -2.4 0M240.9 542.4a1.2 1.2 0 1 0 2.4 0a1.2 1.2 0 1 0 -2.4 0M242.6 539.5a1.2 1.2 0 1 0 2.4 0a1.2 1.2 0 1 0 -2.4 0M244.4 536.6a1.2 1.2 0 1 0 2.4 0a1.2 1.2 0 1 0 -2.4 0M237.9 542.8a1.2 1.2 0 1 0 2.4 0a1.2 1.2 0 1 0 -2.4 0M239.1 539.7a1.2 1.2 0 1 0 2.4 0a1.2 1.2 0 1 0 -2.4 0M240.3 536.5a1.2 1.2 0 1 0 2.4 0a1.2 1.2 0 1 0 -2.4 0M235.8 544.0a1.2 1.2 0 1 0 2.4 0a1.2 1.2 0 1 0 -2.4 0M236.1 540.6a1.2 1.2 0 1 0 2.4 0a1.2 1.2 0 1 0 -2.4 0M236.4 537.3a1.2 1.2 0 1 0 2.4 0a1.2 1.2 0 1 0 -2.4 0M236.8 533.9a1.2 1.2 0 1 0 2.4 0a1.2 1.2 0 1 0 -2.4 0M234.0 542.5a1.2 1.2 0 1 0 2.4 0a1.2 1.2 0 1 0 -2.4 0M233.4 539.2a1.2 1.2 0 1 0 2.4 0a1.2 1.2 0 1 0 -2.4 0M232.7 535.8a1.2 1.2 0 1 0 2.4 0a1.2 1.2 0 1 0 -2.4 0M232.8 544.8a1.2 1.2 0 1 0 2.4 0a1.2 1.2 0 1 0 -2.4 0M231.3 541.7a1.2 1.2 0 1 0 2.4 0a1.2 1.2 0 1 0 -2.4 0M229.9 538.6a1.2 1.2 0 1 0 2.4 0a1.2 1.2 0 1 0 -2.4 0M228.4 535.5a1.2 1.2 0 1 0 2.4 0a1.2 1.2 0 1 0 -2.4 0M230.1 544.4a1.2 1.2 0 1 0 2.4 0a1.2 1.2 0 1 0 -2.4 0M228.1 541.7a1.2 1.2 0 1 0 2.4 0a1.2 1.2 0 1 0 -2.4 0M226.1 538.9a1.2 1.2 0 1 0 2.4 0a1.2 1.2 0 1 0 -2.4 0M229.7 547.1a1.2 1.2 0 1 0 2.4 0a1.2 1.2 0 1 0 -2.4 0M227.2 544.8a1.2 1.2 0 1 0 2.4 0a1.2 1.2 0 1 0 -2.4 0M224.7 542.5a1.2 1.2 0 1 0 2.4 0a1.2 1.2 0 1 0 -2.4 0M222.1 540.2a1.2 1.2 0 1 0 2.4 0a1.2 1.2 0 1 0 -2.4 0M227.0 547.8a1.2 1.2 0 1 0 2.4 0a1.2 1.2 0 1 0 -2.4 0M224.1 546.0a1.2 1.2 0 1 0 2.4 0a1.2 1.2 0 1 0 -2.4 0M221.2 544.2a1.2 1.2 0 1 0 2.4 0a1.2 1.2 0 1 0 -2.4 0M224.5 549.2a1.2 1.2 0 1 0 2.4 0a1.2 1.2 0 1 0 -2.4 0M221.3 548.1a1.2 1.2 0 1 0 2.4 0a1.2 1.2 0 1 0 -2.4 0M225.5 552.1a1.2 1.2 0 1 0 2.4 0a1.2 1.2 0 1 0 -2.4 0M222.2 551.5a1.2 1.2 0 1 0 2.4 0a1.2 1.2 0 1 0 -2.4 0M218.8 551.0a1.2 1.2 0 1 0 2.4 0a1.2 1.2 0 1 0 -2.4 0M223.7 554.4a1.2 1.2 0 1 0 2.4 0a1.2 1.2 0 1 0 -2.4 0M220.3 554.5a1.2 1.2 0 1 0 2.4 0a1.2 1.2 0 1 0 -2.4 0M225.8 556.3a1.2 1.2 0 1 0 2.4 0a1.2 1.2 0 1 0 -2.4 0M222.5 557.3a1.2 1.2 0 1 0 2.4 0a1.2 1.2 0 1 0 -2.4 0M219.3 558.4a1.2 1.2 0 1 0 2.4 0a1.2 1.2 0 1 0 -2.4 0M225.3 558.8a1.2 1.2 0 1 0 2.4 0a1.2 1.2 0 1 0 -2.4 0M222.7 561.0a1.2 1.2 0 1 0 2.4 0a1.2 1.2 0 1 0 -2.4 0M228.3 559.3a1.2 1.2 0 1 0 2.4 0a1.2 1.2 0 1 0 -2.4 0M226.1 561.9a1.2 1.2 0 1 0 2.4 0a1.2 1.2 0 1 0 -2.4 0M223.9 564.6a1.2 1.2 0 1 0 2.4 0a1.2 1.2 0 1 0 -2.4 0M229.4 562.3a1.2 1.2 0 1 0 2.4 0a1.2 1.2 0 1 0 -2.4 0M227.5 565.1a1.2 1.2 0 1 0 2.4 0a1.2 1.2 0 1 0 -2.4 0M232.7 562.4a1.2 1.2 0 1 0 2.4 0a1.2 1.2 0 1 0 -2.4 0M230.9 565.3a1.2 1.2 0 1 0 2.4 0a1.2 1.2 0 1 0 -2.4 0M229.2 568.2a1.2 1.2 0 1 0 2.4 0a1.2 1.2 0 1 0 -2.4 0M234.3 565.3a1.2 1.2 0 1 0 2.4 0a1.2 1.2 0 1 0 -2.4 0M232.7 568.2a1.2 1.2 0 1 0 2.4 0a1.2 1.2 0 1 0 -2.4 0M237.6 565.1a1.2 1.2 0 1 0 2.4 0a1.2 1.2 0 1 0 -2.4 0M236.1 568.1a1.2 1.2 0 1 0 2.4 0a1.2 1.2 0 1 0 -2.4 0M234.6 571.2a1.2 1.2 0 1 0 2.4 0a1.2 1.2 0 1 0 -2.4 0M239.4 567.8a1.2 1.2 0 1 0 2.4 0a1.2 1.2 0 1 0 -2.4 0M238.2 570.9a1.2 1.2 0 1 0 2.4 0a1.2 1.2 0 1 0 -2.4 0M242.7 567.2a1.2 1.2 0 1 0 2.4 0a1.2 1.2 0 1 0 -2.4 0M241.5 570.4a1.2 1.2 0 1 0 2.4 0a1.2 1.2 0 1 0 -2.4 0M240.4 573.6a1.2 1.2 0 1 0 2.4 0a1.2 1.2 0 1 0 -2.4 0M244.8 569.7a1.2 1.2 0 1 0 2.4 0a1.2 1.2 0 1 0 -2.4 0M243.8 572.9a1.2 1.2 0 1 0 2.4 0a1.2 1.2 0 1 0 -2.4 0M248.2 569.0a1.2 1.2 0 1 0 2.4 0a1.2 1.2 0 1 0 -2.4 0M247.1 572.2a1.2 1.2 0 1 0 2.4 0a1.2 1.2 0 1 0 -2.4 0M246.1 575.5a1.2 1.2 0 1 0 2.4 0a1.2 1.2 0 1 0 -2.4 0M250.5 571.5a1.2 1.2 0 1 0 2.4 0a1.2 1.2 0 1 0 -2.4 0M249.4 574.8a1.2 1.2 0 1 0 2.4 0a1.2 1.2 0 1 0 -2.4 0M253.9 571.0a1.2 1.2 0 1 0 2.4 0a1.2 1.2 0 1 0 -2.4 0M252.7 574.1a1.2 1.2 0 1 0 2.4 0a1.2 1.2 0 1 0 -2.4 0M251.5 577.3a1.2 1.2 0 1 0 2.4 0a1.2 1.2 0 1 0 -2.4 0M256.2 573.7a1.2 1.2 0 1 0 2.4 0a1.2 1.2 0 1 0 -2.4 0M254.7 576.8a1.2 1.2 0 1 0 2.4 0a1.2 1.2 0 1 0 -2.4 0M259.7 573.8a1.2 1.2 0 1 0 2.4 0a1.2 1.2 0 1 0 -2.4 0M258.0 576.7a1.2 1.2 0 1 0 2.4 0a1.2 1.2 0 1 0 -2.4 0M256.2 579.6a1.2 1.2 0 1 0 2.4 0a1.2 1.2 0 1 0 -2.4 0M261.4 577.0a1.2 1.2 0 1 0 2.4 0a1.2 1.2 0 1 0 -2.4 0M259.4 579.7a1.2 1.2 0 1 0 2.4 0a1.2 1.2 0 1 0 -2.4 0M265.2 577.9a1.2 1.2 0 1 0 2.4 0a1.2 1.2 0 1 0 -2.4 0M262.7 580.2a1.2 1.2 0 1 0 2.4 0a1.2 1.2 0 1 0 -2.4 0M260.2 582.5a1.2 1.2 0 1 0 2.4 0a1.2 1.2 0 1 0 -2.4 0M265.9 582.0a1.2 1.2 0 1 0 2.4 0a1.2 1.2 0 1 0 -2.4 0M262.8 583.3a1.2 1.2 0 1 0 2.4 0a1.2 1.2 0 1 0 -2.4 0M268.2 585.8a1.2 1.2 0 1 0 2.4 0a1.2 1.2 0 1 0 -2.4 0M264.8 585.5a1.2 1.2 0 1 0 2.4 0a1.2 1.2 0 1 0 -2.4 0M261.4 585.3a1.2 1.2 0 1 0 2.4 0a1.2 1.2 0 1 0 -2.4 0M265.3 589.1a1.2 1.2 0 1 0 2.4 0a1.2 1.2 0 1 0 -2.4 0M262.3 587.5a1.2 1.2 0 1 0 2.4 0a1.2 1.2 0 1 0 -2.4 0M264.9 592.8a1.2 1.2 0 1 0 2.4 0a1.2 1.2 0 1 0 -2.4 0M262.2 590.8a1.2 1.2 0 1 0 2.4 0a1.2 1.2 0 1 0 -2.4 0M259.4 588.8a1.2 1.2 0 1 0 2.4 0a1.2 1.2 0 1 0 -2.4 0M261.8 594.2a1.2 1.2 0 1 0 2.4 0a1.2 1.2 0 1 0 -2.4 0M259.1 592.1a1.2 1.2 0 1 0 2.4 0a1.2 1.2 0 1 0 -2.4 0M258.6 595.5a1.2 1.2 0 1 0 2.4 0a1.2 1.2 0 1 0 -2.4 0M258.3 598.8a1.2 1.2 0 1 0 2.4 0a1.2 1.2 0 1 0 -2.4 0M255.5 596.9a1.2 1.2 0 1 0 2.4 0a1.2 1.2 0 1 0 -2.4 0M255.3 600.3a1.2 1.2 0 1 0 2.4 0a1.2 1.2 0 1 0 -2.4 0M255.1 603.7a1.2 1.2 0 1 0 2.4 0a1.2 1.2 0 1 0 -2.4 0M252.3 601.8a1.2 1.2 0 1 0 2.4 0a1.2 1.2 0 1 0 -2.4 0M252.0 605.2a1.2 1.2 0 1 0 2.4 0a1.2 1.2 0 1 0 -2.4 0" fill="#fbe8bc"/>
 <path d="M250.5 423.3 L250.4 424.4 L250.3 425.5 L250.1 426.7 L250.0 427.9 L249.8 429.2 L249.6 430.6 L249.5 432.0 L249.4 433.5 L249.4 435.1 L249.5 436.6 L249.6 437.8 L249.8 439.1 L249.9 440.4 L250.1 441.9 L250.4 443.5 L250.9 445.3 L251.6 447.1 L252.5 448.9 L253.9 450.8 L255.6 452.5 L257.7 453.9 L259.8 454.9 L261.8 455.6 L263.7 456.1 L265.6 456.6 L267.4 456.9 L269.1 457.3 L270.6 457.6 L271.9 457.9 L273.1 458.2 L274.5 458.7 L276.0 459.1 L277.4 459.5 L278.6 459.8 L279.7 460.1 L280.6 460.4 L281.3 460.7 L281.7 460.9 L281.8 461.0 L281.8 461.1 L281.9 461.1 L282.0 461.4 L282.3 461.7 L282.5 462.1 L282.7 462.6 L282.8 463.0 L283.0 463.5 L283.0 463.8 L283.0 464.1 L283.0 464.3 L283.0 464.6 L282.9 465.0 L282.7 465.5 L282.5 466.0 L282.3 466.5 L282.0 467.0 L281.7 467.4 L281.5 467.7 L281.2 467.9 L280.8 468.2 L280.3 468.5 L279.4 468.8 L278.3 469.2 L277.0 469.6 L275.5 469.9 L274.0 470.2 L272.3 470.5 L270.7 470.7 L269.1 470.9 L267.6 471.0 L266.2 471.1 L264.7 471.0 L263.2 471.0 L261.7 470.8 L260.1 470.6 L258.5 470.4 L256.8 470.1 L255.1 469.8 L253.3 469.5 L251.7 469.2 L250.2 468.8 L248.8 468.4 L247.2 467.9 L245.4 467.2 L243.5 466.5 L241.5 465.8 L239.4 465.2 L237.1 464.6 L234.6 464.2 L232.1 464.0 L229.9 464.1 L227.7 464.4 L225.6 464.7 L223.5 465.2 L221.4 465.9 L219.3 466.6 L217.3 467.6 L215.3 468.7 L213.4 470.1 L211.7 471.7 L210.2 473.4 L208.8 475.3 L207.7 477.3 L206.7 479.3 L205.9 481.4 L205.2 483.6 L204.8 485.9 L204.5 488.2 L204.4 490.6 L204.6 492.9 L204.9 495.2 L205.4 497.4 L206.1 499.7 L207.0 501.9 L208.1 504.2 L209.3 506.4 L210.8 508.6 L212.5 510.6 L214.5 512.6 L216.8 514.3 L219.4 515.7 L222.1 516.6 L224.7 517.3 L227.3 517.8 L229.9 518.1 L232.4 518.2 L234.9 518.4 L237.3 518.4 L239.6 518.5 L242.0 518.5 L244.5 518.5 L247.2 518.3 L249.7 518.0 L252.2 517.7 L254.5 517.4 L256.8 517.1 L259.0 516.8 L261.0 516.6 L263.0 516.5 L264.9 516.5 L267.0 516.6 L269.3 516.6 L271.5 516.8 L273.6 516.9 L275.7 517.1 L277.6 517.4 L279.3 517.7 L280.9 518.1 L282.1 518.5 L283.2 519.1 L284.4 519.7 L285.6 520.6 L286.9 521.7 L288.1 522.8 L289.2 524.0 L290.2 525.2 L291.0 526.4 L291.6 527.5 L292.0 528.4 L292.2 529.1 L292.3 529.8 L292.3 530.8 L292.2 532.2 L292.0 533.7 L291.6 535.4 L291.0 537.0 L290.4 538.5 L289.7 540.0 L289.0 541.2 L288.4 542.1 L287.6 542.8 L286.7 543.6 L285.6 544.3 L284.3 545.0 L282.9 545.7 L281.4 546.3 L279.9 546.8 L278.4 547.1 L276.9 547.4 L275.7 547.5 L274.5 547.5 L273.3 547.4 L271.8 547.1 L270.2 546.6 L268.5 546.0 L266.7 545.4 L264.8 544.6 L262.9 543.8 L260.9 542.9 L259.1 542.2 L257.5 541.5 L256.0 540.7 L254.3 539.6 L252.5 538.5 L250.5 537.2 L248.5 536.0 L246.5 534.7 L244.2 533.6 L241.7 532.7 L239.0 532.1 L236.4 532.0 L233.9 532.4 L231.7 533.0 L229.6 533.9 L227.8 534.9 L226.1 536.1 L224.7 537.3 L223.3 538.7 L222.2 540.0 L221.1 541.5 L220.1 543.0 L219.3 544.7 L218.6 546.4 L218.0 548.3 L217.5 550.2 L217.3 552.1 L217.2 554.2 L217.3 556.3 L217.8 558.4 L218.6 560.6 L219.7 562.5 L221.0 564.2 L222.4 565.7 L224.0 567.0 L225.6 568.2 L227.2 569.3 L229.0 570.4 L230.7 571.4 L232.4 572.4 L234.3 573.4 L236.4 574.4 L238.8 575.3 L241.1 576.2 L243.6 577.0 L246.0 577.8 L248.3 578.5 L250.4 579.2 L252.3 579.9 L253.9 580.6 L255.1 581.2 L256.3 581.9 L257.4 582.6 L258.3 583.2 L259.1 583.7 L259.7 584.2 L260.1 584.5 L260.3 584.8 L260.4 584.9 L260.4 584.9 L260.5 584.9 L260.7 584.9 L260.6 585.3 L260.4 586.1 L259.9 587.2 L259.2 588.5 L258.3 589.9 L257.4 591.3 L256.4 592.8 L255.5 594.3 L254.7 595.8 L254.0 597.2 L253.4 598.5 L252.8 599.8 L252.1 601.1 L251.5 602.4 L250.9 603.7 L250.2 605.0 L249.6 606.3 L249.0 607.6 L248.3 608.9 L251.7 611.1 L252.6 610.0 L253.6 609.0 L254.6 607.9 L255.5 606.8 L256.5 605.7 L257.5 604.7 L258.4 603.6 L259.4 602.4 L260.4 601.3 L261.3 600.2 L262.2 599.1 L263.3 598.0 L264.4 596.8 L265.6 595.5 L266.8 594.1 L268.0 592.7 L269.2 591.1 L270.2 589.4 L271.0 587.4 L271.5 585.1 L271.4 583.0 L270.9 581.0 L270.1 579.2 L269.1 577.6 L267.9 576.2 L266.7 574.9 L265.4 573.8 L264.0 572.8 L262.5 571.8 L260.9 570.8 L258.9 569.7 L256.7 568.8 L254.4 567.9 L252.0 567.1 L249.7 566.4 L247.3 565.6 L245.1 564.8 L243.0 564.1 L241.2 563.4 L239.7 562.6 L238.2 561.8 L236.6 561.0 L235.1 560.1 L233.8 559.3 L232.5 558.4 L231.5 557.6 L230.7 556.9 L230.0 556.3 L229.6 555.8 L229.4 555.4 L229.3 555.1 L229.2 554.7 L229.2 554.0 L229.2 553.2 L229.3 552.3 L229.5 551.4 L229.8 550.5 L230.2 549.7 L230.5 549.0 L230.9 548.5 L231.4 548.1 L232.0 547.5 L232.7 547.0 L233.5 546.6 L234.2 546.2 L234.9 546.0 L235.6 545.8 L236.2 545.8 L236.7 545.8 L237.0 545.9 L237.4 546.1 L238.2 546.5 L239.3 547.2 L240.8 548.1 L242.5 549.3 L244.3 550.6 L246.3 551.9 L248.4 553.3 L250.6 554.7 L252.9 555.8 L255.0 556.7 L256.9 557.6 L259.0 558.5 L261.2 559.3 L263.5 560.2 L265.9 561.0 L268.4 561.7 L270.9 562.2 L273.6 562.5 L276.3 562.5 L278.9 562.3 L281.4 561.8 L283.9 561.2 L286.4 560.4 L288.9 559.5 L291.2 558.4 L293.5 557.1 L295.7 555.6 L297.8 553.9 L299.6 551.9 L301.3 549.8 L302.8 547.6 L304.2 545.2 L305.3 542.7 L306.3 540.1 L307.1 537.4 L307.7 534.6 L308.1 531.8 L308.2 528.9 L307.8 525.9 L307.1 523.1 L306.0 520.5 L304.6 518.0 L303.0 515.7 L301.3 513.5 L299.4 511.5 L297.4 509.6 L295.3 507.9 L293.1 506.3 L290.8 504.9 L288.2 503.7 L285.5 502.8 L282.9 502.1 L280.2 501.6 L277.6 501.2 L275.0 501.0 L272.4 500.8 L269.9 500.7 L267.6 500.6 L265.1 500.5 L262.5 500.5 L259.8 500.7 L257.2 500.9 L254.7 501.2 L252.3 501.5 L250.0 501.9 L247.9 502.1 L245.8 502.4 L243.9 502.5 L242.0 502.5 L239.9 502.5 L237.6 502.4 L235.5 502.4 L233.3 502.3 L231.4 502.1 L229.6 501.9 L228.0 501.7 L226.7 501.3 L225.8 501.0 L225.2 500.7 L224.6 500.3 L223.9 499.7 L223.2 498.9 L222.4 497.9 L221.7 496.8 L221.0 495.6 L220.5 494.3 L220.0 493.1 L219.7 492.0 L219.4 491.1 L219.4 490.3 L219.4 489.4 L219.5 488.4 L219.8 487.3 L220.1 486.3 L220.5 485.2 L221.0 484.2 L221.4 483.4 L221.9 482.8 L222.3 482.3 L222.7 482.0 L223.3 481.7 L224.1 481.3 L225.0 481.0 L226.0 480.6 L227.2 480.4 L228.4 480.2 L229.6 480.0 L230.8 480.0 L231.9 480.0 L232.7 480.1 L233.7 480.2 L235.0 480.6 L236.5 481.0 L238.1 481.6 L239.9 482.3 L241.9 483.0 L243.9 483.7 L246.1 484.3 L248.3 484.8 L250.3 485.2 L252.2 485.6 L254.1 485.9 L256.0 486.2 L258.0 486.5 L260.1 486.7 L262.1 486.9 L264.2 487.0 L266.3 487.1 L268.4 487.0 L270.5 486.8 L272.6 486.6 L274.7 486.3 L276.8 486.0 L279.0 485.6 L281.1 485.1 L283.2 484.5 L285.2 483.7 L287.2 482.9 L289.2 481.8 L291.0 480.5 L292.7 479.1 L294.1 477.5 L295.3 475.9 L296.3 474.2 L297.2 472.5 L297.8 470.8 L298.3 469.1 L298.7 467.5 L299.0 465.7 L299.0 463.9 L298.9 462.0 L298.6 460.2 L298.2 458.4 L297.6 456.7 L296.8 455.0 L295.9 453.4 L294.9 451.9 L293.7 450.4 L292.2 448.9 L290.4 447.7 L288.6 446.7 L286.9 446.0 L285.2 445.5 L283.6 445.1 L282.2 444.8 L280.8 444.6 L279.5 444.3 L278.2 444.1 L276.9 443.8 L275.2 443.4 L273.4 443.0 L271.6 442.8 L269.9 442.5 L268.3 442.3 L266.9 442.1 L265.7 441.8 L264.8 441.6 L264.4 441.5 L264.4 441.5 L264.4 441.6 L264.4 441.6 L264.4 441.4 L264.2 441.0 L264.1 440.5 L263.9 439.7 L263.8 438.7 L263.7 437.7 L263.6 436.5 L263.5 435.4 L263.4 434.6 L263.4 433.8 L263.5 433.0 L263.5 432.0 L263.7 430.9 L263.8 429.8 L264.0 428.6 L264.2 427.3 L264.3 426.0 L264.5 424.7Z" fill="none" stroke="#c98422" stroke-width="0.7"/>
 <path id="eh" d="M258.4 398 Q263 401 267.2 405.2 Q268.8 411 267.8 418 Q266.5 423 264.4 426.5 L263.5 436 L249.5 436 L249.4 427.5 Q246.5 424 246.2 419.4 Q246 411 249.8 403.6 Q254 400.5 258.4 398Z" fill="#d88c22"/>
 <path d="M258.4 398 Q263 401 267.2 405.2 Q268.8 411 267.8 418 Q266.5 423 264.4 426.5 L263.5 436 L249.5 436 L249.4 427.5 Q246.5 424 246.2 419.4 Q246 411 249.8 403.6 Q254 400.5 258.4 398Z" fill="url(#dotsE)" opacity="0.8"/>
 <path d="M258.4 400 Q262.5 402.5 265.5 406 L262 414 L258.4 417 L255 414 L251.3 405 Q254.5 402 258.4 400Z" fill="#f8e0a8"/>
 <path d="M254.5 405 L257 414 M258.4 401.5 L258.4 415 M262.3 405 L260 414" stroke="#b86d1a" stroke-width="0.9"/>
 <circle cx="256.5" cy="405.5" r="0.9" fill="#6a3a10"/>
</g>
<use href="#earR" transform="translate(-130 0)"/>
<path id="refl" d="M249 612.5 Q254 615 254.5 620 Q254 624 252 624.5 Q250 620 249 612.5Z" fill="#faf2e8" opacity="0.7"/>
<use href="#refl" transform="translate(-130 0)"/>

<!-- earring dims -->
<line x1="212" y1="397.5" x2="304" y2="397.5" stroke="#444" stroke-width="1" stroke-dasharray="1.6 2.8"/>
<line x1="302" y1="397.5" x2="321" y2="397.5" stroke="#666" stroke-width="1"/>
<line x1="313" y1="397.5" x2="313" y2="610.5" stroke="#777" stroke-width="1"/>
<line x1="212" y1="610.5" x2="304" y2="610.5" stroke="#444" stroke-width="1" stroke-dasharray="1.6 2.8"/>
<line x1="302" y1="610.5" x2="321" y2="610.5" stroke="#666" stroke-width="1"/>
<line x1="203.5" y1="483" x2="203.5" y2="619" stroke="#333" stroke-width="1" stroke-dasharray="1.3 3.1"/>
<line x1="309.5" y1="483" x2="309.5" y2="619" stroke="#333" stroke-width="1" stroke-dasharray="1.3 3.1"/>
<line x1="203.5" y1="620" x2="203.5" y2="635" stroke="#666" stroke-width="1"/>
<line x1="309.5" y1="620" x2="309.5" y2="635" stroke="#777" stroke-width="1"/>
<line x1="203.5" y1="626.5" x2="309.5" y2="626.5" stroke="#999" stroke-width="1.2"/>

<!-- right snake -->
<g id="rsnake">
 <path d="M622.0 383.7 L621.9 384.5 L621.8 385.2 L621.7 385.9 L621.6 386.8 L621.5 387.8 L621.4 388.8 L621.3 390.0 L621.3 391.3 L621.3 392.6 L621.3 393.9 L621.4 394.9 L621.5 396.0 L621.6 397.4 L621.8 398.9 L622.0 400.6 L622.3 402.4 L622.8 404.3 L623.5 406.4 L624.6 408.6 L626.1 410.8 L628.0 412.6 L629.9 414.0 L631.8 415.0 L633.6 415.8 L635.3 416.4 L637.0 416.9 L638.6 417.3 L640.1 417.6 L641.5 417.9 L643.1 418.3 L645.0 418.7 L647.1 418.9 L648.9 419.0 L650.5 419.1 L652.0 419.1 L653.3 419.2 L654.4 419.3 L655.3 419.4 L656.0 419.6 L656.8 419.9 L658.0 420.4 L659.5 421.1 L661.1 421.9 L662.6 422.8 L664.0 423.7 L665.3 424.5 L666.2 425.3 L666.9 426.0 L667.2 426.3 L667.2 426.3 L667.2 426.7 L667.2 427.5 L667.2 428.4 L667.1 429.3 L666.9 430.2 L666.7 431.0 L666.3 431.5 L666.0 431.9 L665.7 432.2 L665.3 432.4 L664.4 432.9 L662.7 433.7 L660.6 434.6 L658.0 435.5 L655.3 436.3 L652.3 437.0 L649.3 437.5 L646.4 437.9 L643.6 438.2 L641.2 438.3 L639.1 438.1 L636.7 437.7 L634.0 437.0 L631.0 436.0 L627.8 434.9 L624.5 433.7 L621.0 432.6 L617.3 431.5 L613.4 430.7 L609.5 430.3 L605.9 430.3 L602.6 430.5 L599.3 430.9 L596.1 431.5 L593.1 432.3 L590.2 433.2 L587.4 434.2 L584.7 435.3 L582.2 436.6 L579.8 438.0 L577.5 439.7 L575.3 441.6 L573.4 443.7 L571.7 445.9 L570.3 448.2 L569.1 450.5 L568.1 452.9 L567.4 455.4 L566.8 457.9 L566.5 460.5 L566.5 463.2 L566.9 465.9 L567.5 468.5 L568.3 470.9 L569.2 473.3 L570.4 475.5 L571.6 477.6 L573.0 479.6 L574.4 481.6 L576.0 483.4 L577.6 485.1 L579.5 486.8 L581.4 488.4 L583.5 489.9 L585.6 491.4 L587.9 492.7 L590.2 493.9 L592.6 495.0 L595.1 496.0 L597.8 496.7 L600.7 497.4 L603.5 497.8 L606.3 497.9 L608.9 497.9 L611.4 497.8 L613.8 497.6 L616.1 497.4 L618.1 497.2 L620.0 497.0 L621.7 496.9 L623.6 496.6 L625.5 496.2 L627.3 495.8 L629.0 495.4 L630.6 495.0 L632.1 494.6 L633.5 494.2 L634.8 493.9 L636.1 493.5 L637.4 493.2 L639.0 492.9 L640.6 492.5 L642.1 492.1 L643.6 491.8 L644.9 491.4 L646.3 491.2 L647.5 490.9 L648.6 490.7 L649.7 490.6 L650.9 490.5 L652.2 490.3 L653.6 490.2 L654.8 490.1 L656.0 490.0 L657.0 490.0 L658.0 490.0 L659.0 490.0 L659.9 490.1 L660.8 490.3 L661.8 490.5 L663.1 490.9 L664.6 491.4 L666.2 492.0 L667.7 492.6 L669.3 493.3 L670.7 494.1 L672.0 494.8 L673.1 495.5 L674.0 496.2 L674.6 496.8 L675.3 497.5 L676.1 498.4 L676.7 499.4 L677.4 500.5 L677.9 501.6 L678.4 502.8 L678.8 503.9 L679.2 505.1 L679.4 506.2 L679.5 507.3 L679.4 508.4 L679.2 509.8 L678.8 511.3 L678.4 512.8 L677.9 514.5 L677.2 516.0 L676.5 517.5 L675.8 518.9 L675.1 520.1 L674.3 521.1 L673.5 522.2 L672.5 523.3 L671.5 524.3 L670.5 525.3 L669.4 526.1 L668.4 526.8 L667.4 527.4 L666.5 527.8 L665.6 528.1 L664.9 528.2 L664.0 528.3 L662.8 528.4 L661.3 528.3 L659.5 528.1 L657.6 527.8 L655.5 527.3 L653.4 526.8 L651.1 526.1 L648.9 525.4 L646.8 524.7 L644.9 524.1 L642.9 523.3 L640.6 522.2 L638.2 521.0 L635.7 519.7 L633.2 518.4 L630.6 517.0 L628.0 515.6 L625.4 514.4 L623.0 513.4 L621.0 512.7 L619.2 512.1 L617.4 511.5 L615.6 510.9 L613.6 510.4 L611.5 509.9 L609.2 509.6 L606.7 509.7 L604.2 510.1 L601.7 510.9 L599.3 511.8 L597.0 513.1 L594.9 514.5 L592.9 516.1 L590.9 517.9 L589.1 519.8 L587.4 521.8 L585.9 524.0 L584.7 526.5 L583.7 529.2 L583.2 531.9 L583.2 534.5 L583.4 537.0 L583.9 539.5 L584.6 541.8 L585.6 544.2 L586.7 546.4 L588.1 548.5 L589.6 550.6 L591.3 552.6 L593.4 554.5 L595.7 556.3 L598.1 557.8 L600.5 559.2 L603.0 560.5 L605.5 561.8 L607.9 563.0 L610.2 564.1 L612.4 565.1 L614.4 566.1 L616.7 567.2 L619.0 568.1 L621.4 569.0 L623.6 569.8 L625.7 570.6 L627.6 571.3 L629.3 571.9 L630.8 572.5 L631.9 573.0 L632.6 573.5 L633.2 573.8 L633.7 574.1 L634.0 574.3 L634.3 574.5 L634.5 574.7 L634.7 575.0 L635.0 575.5 L635.2 576.1 L635.3 577.0 L635.5 577.9 L635.6 578.8 L635.7 579.7 L635.7 580.6 L635.7 581.5 L635.6 582.5 L635.4 583.6 L635.1 584.8 L634.7 586.1 L634.1 587.5 L633.5 589.1 L632.7 590.7 L631.7 592.5 L630.6 594.5 L629.4 596.5 L628.0 598.6 L626.6 600.8 L625.1 603.0 L623.7 605.2 L622.3 607.4 L621.0 609.6 L625.0 612.4 L626.6 610.5 L628.2 608.5 L629.9 606.5 L631.6 604.5 L633.3 602.5 L634.9 600.5 L636.5 598.5 L637.9 596.6 L639.3 594.7 L640.5 592.9 L641.5 591.3 L642.5 589.7 L643.3 588.2 L644.0 586.7 L644.7 585.2 L645.2 583.8 L645.7 582.3 L646.0 580.9 L646.3 579.4 L646.5 578.1 L646.6 576.8 L646.7 575.4 L646.8 574.0 L646.7 572.5 L646.4 570.8 L645.9 569.1 L645.1 567.4 L644.1 565.7 L642.9 564.1 L641.4 562.5 L639.6 561.1 L637.6 559.8 L635.6 558.7 L633.5 557.7 L631.4 556.7 L629.3 555.7 L627.3 554.8 L625.3 553.8 L623.4 552.9 L621.6 551.9 L619.5 550.8 L617.2 549.7 L614.8 548.5 L612.6 547.4 L610.4 546.3 L608.3 545.2 L606.4 544.2 L604.8 543.1 L603.6 542.2 L602.7 541.4 L601.8 540.5 L601.0 539.5 L600.3 538.4 L599.6 537.3 L599.1 536.3 L598.7 535.3 L598.5 534.4 L598.3 533.7 L598.3 533.1 L598.3 532.8 L598.4 532.5 L598.8 531.8 L599.4 530.9 L600.3 529.7 L601.4 528.6 L602.6 527.5 L603.8 526.6 L604.9 525.8 L605.8 525.4 L606.3 525.1 L606.6 525.3 L606.7 525.5 L607.0 525.7 L607.3 526.0 L608.0 526.4 L608.9 527.0 L610.1 527.7 L611.6 528.6 L613.3 529.6 L615.0 530.6 L616.6 531.6 L618.4 532.7 L620.4 534.1 L622.7 535.6 L625.1 537.3 L627.7 539.0 L630.4 540.7 L633.2 542.4 L636.2 544.0 L639.2 545.3 L642.0 546.3 L644.7 547.2 L647.5 548.0 L650.4 548.7 L653.4 549.4 L656.4 549.9 L659.5 550.2 L662.6 550.4 L665.9 550.2 L669.1 549.8 L672.3 548.9 L675.3 547.7 L678.0 546.3 L680.5 544.7 L682.8 542.9 L684.9 541.0 L686.9 539.1 L688.6 537.1 L690.2 535.0 L691.7 532.9 L693.1 530.5 L694.3 528.0 L695.3 525.4 L696.3 522.8 L697.0 520.2 L697.6 517.5 L698.1 514.8 L698.4 512.1 L698.6 509.4 L698.5 506.7 L698.4 504.1 L698.0 501.5 L697.5 499.0 L696.8 496.5 L695.9 494.1 L694.9 491.7 L693.7 489.5 L692.4 487.3 L691.0 485.2 L689.4 483.2 L687.4 481.2 L685.3 479.4 L683.2 477.9 L681.0 476.4 L678.7 475.2 L676.5 474.0 L674.4 473.0 L672.2 472.1 L670.2 471.2 L668.2 470.5 L666.1 469.8 L663.9 469.3 L661.7 468.9 L659.7 468.6 L657.7 468.5 L655.8 468.4 L654.1 468.4 L652.4 468.4 L650.8 468.5 L649.1 468.5 L647.3 468.7 L645.4 469.0 L643.5 469.3 L641.7 469.6 L640.1 470.0 L638.4 470.4 L636.9 470.8 L635.4 471.1 L634.0 471.4 L632.6 471.8 L631.0 472.1 L629.3 472.5 L627.8 473.0 L626.4 473.3 L625.0 473.7 L623.7 474.0 L622.4 474.4 L621.1 474.6 L619.8 474.9 L618.3 475.1 L616.4 475.6 L614.4 476.1 L612.5 476.6 L610.6 477.0 L608.8 477.5 L607.1 477.8 L605.6 478.1 L604.3 478.2 L603.1 478.3 L602.2 478.3 L601.1 477.9 L599.9 477.5 L598.5 476.9 L597.1 476.1 L595.8 475.3 L594.4 474.4 L593.1 473.5 L592.0 472.5 L590.9 471.5 L590.0 470.6 L589.2 469.7 L588.5 468.6 L587.7 467.5 L587.1 466.4 L586.5 465.3 L586.1 464.3 L585.8 463.3 L585.6 462.5 L585.5 461.9 L585.5 461.5 L585.6 461.0 L585.7 460.2 L586.0 459.4 L586.4 458.5 L586.8 457.6 L587.4 456.7 L588.0 455.9 L588.6 455.2 L589.3 454.6 L590.2 454.0 L591.3 453.4 L592.7 452.7 L594.3 452.0 L596.1 451.4 L598.0 450.9 L600.1 450.4 L602.2 450.1 L604.3 449.8 L606.5 449.7 L608.5 449.7 L610.3 449.9 L612.5 450.4 L615.2 451.2 L618.2 452.2 L621.4 453.3 L624.9 454.5 L628.6 455.7 L632.5 456.7 L636.6 457.5 L640.8 457.7 L644.8 457.6 L648.7 457.2 L652.6 456.6 L656.5 455.8 L660.2 454.9 L663.9 453.8 L667.4 452.5 L670.7 451.1 L673.7 449.5 L676.7 447.6 L679.4 445.1 L681.5 442.2 L683.1 439.2 L684.1 436.2 L684.7 433.2 L684.9 430.3 L684.8 427.5 L684.4 424.8 L683.8 422.3 L682.8 419.7 L681.4 417.0 L679.5 414.6 L677.5 412.6 L675.5 410.9 L673.4 409.5 L671.2 408.1 L669.1 407.0 L667.1 405.9 L665.2 405.0 L663.2 404.1 L661.0 403.3 L658.6 402.7 L656.4 402.4 L654.4 402.2 L652.6 402.1 L651.0 402.1 L649.7 402.0 L648.6 402.0 L647.7 401.9 L646.9 401.7 L645.7 401.4 L644.4 401.0 L643.2 400.6 L642.1 400.2 L641.2 399.9 L640.4 399.5 L639.9 399.2 L639.6 399.0 L639.6 399.0 L639.9 399.2 L640.1 399.5 L640.1 399.6 L640.1 399.3 L639.9 398.8 L639.8 397.9 L639.7 397.0 L639.6 395.8 L639.5 394.6 L639.4 393.3 L639.3 392.1 L639.1 391.3 L639.1 390.7 L639.0 390.2 L639.0 389.5 L639.0 388.9 L639.0 388.1 L639.0 387.3 L639.0 386.3 L639.0 385.3 L639.0 384.3Z" fill="#e0a44c"/>
 <path d="M636.1 386.1a1.15 1.15 0 1 0 2.3 0a1.15 1.15 0 1 0 -2.3 0M632.7 385.9a1.15 1.15 0 1 0 2.3 0a1.15 1.15 0 1 0 -2.3 0M629.3 385.7a1.15 1.15 0 1 0 2.3 0a1.15 1.15 0 1 0 -2.3 0M625.9 385.5a1.15 1.15 0 1 0 2.3 0a1.15 1.15 0 1 0 -2.3 0M622.5 385.2a1.15 1.15 0 1 0 2.3 0a1.15 1.15 0 1 0 -2.3 0M634.1 388.9a1.15 1.15 0 1 0 2.3 0a1.15 1.15 0 1 0 -2.3 0M630.7 388.7a1.15 1.15 0 1 0 2.3 0a1.15 1.15 0 1 0 -2.3 0M627.4 388.5a1.15 1.15 0 1 0 2.3 0a1.15 1.15 0 1 0 -2.3 0M624.0 388.3a1.15 1.15 0 1 0 2.3 0a1.15 1.15 0 1 0 -2.3 0M635.8 391.2a1.15 1.15 0 1 0 2.3 0a1.15 1.15 0 1 0 -2.3 0M632.4 391.4a1.15 1.15 0 1 0 2.3 0a1.15 1.15 0 1 0 -2.3 0M629.0 391.6a1.15 1.15 0 1 0 2.3 0a1.15 1.15 0 1 0 -2.3 0M625.6 391.8a1.15 1.15 0 1 0 2.3 0a1.15 1.15 0 1 0 -2.3 0M622.2 392.0a1.15 1.15 0 1 0 2.3 0a1.15 1.15 0 1 0 -2.3 0M634.4 394.1a1.15 1.15 0 1 0 2.3 0a1.15 1.15 0 1 0 -2.3 0M631.0 394.4a1.15 1.15 0 1 0 2.3 0a1.15 1.15 0 1 0 -2.3 0M627.6 394.6a1.15 1.15 0 1 0 2.3 0a1.15 1.15 0 1 0 -2.3 0M624.2 394.9a1.15 1.15 0 1 0 2.3 0a1.15 1.15 0 1 0 -2.3 0M636.3 396.8a1.15 1.15 0 1 0 2.3 0a1.15 1.15 0 1 0 -2.3 0M632.9 397.1a1.15 1.15 0 1 0 2.3 0a1.15 1.15 0 1 0 -2.3 0M629.5 397.4a1.15 1.15 0 1 0 2.3 0a1.15 1.15 0 1 0 -2.3 0M626.1 397.8a1.15 1.15 0 1 0 2.3 0a1.15 1.15 0 1 0 -2.3 0M622.8 398.1a1.15 1.15 0 1 0 2.3 0a1.15 1.15 0 1 0 -2.3 0M634.9 399.4a1.15 1.15 0 1 0 2.3 0a1.15 1.15 0 1 0 -2.3 0M631.6 400.1a1.15 1.15 0 1 0 2.3 0a1.15 1.15 0 1 0 -2.3 0M628.3 400.7a1.15 1.15 0 1 0 2.3 0a1.15 1.15 0 1 0 -2.3 0M624.9 401.3a1.15 1.15 0 1 0 2.3 0a1.15 1.15 0 1 0 -2.3 0M637.0 400.4a1.15 1.15 0 1 0 2.3 0a1.15 1.15 0 1 0 -2.3 0M633.9 401.8a1.15 1.15 0 1 0 2.3 0a1.15 1.15 0 1 0 -2.3 0M630.7 403.2a1.15 1.15 0 1 0 2.3 0a1.15 1.15 0 1 0 -2.3 0M627.6 404.6a1.15 1.15 0 1 0 2.3 0a1.15 1.15 0 1 0 -2.3 0M624.5 405.9a1.15 1.15 0 1 0 2.3 0a1.15 1.15 0 1 0 -2.3 0M635.9 401.8a1.15 1.15 0 1 0 2.3 0a1.15 1.15 0 1 0 -2.3 0M633.6 404.3a1.15 1.15 0 1 0 2.3 0a1.15 1.15 0 1 0 -2.3 0M631.3 406.8a1.15 1.15 0 1 0 2.3 0a1.15 1.15 0 1 0 -2.3 0M629.0 409.3a1.15 1.15 0 1 0 2.3 0a1.15 1.15 0 1 0 -2.3 0M637.8 401.1a1.15 1.15 0 1 0 2.3 0a1.15 1.15 0 1 0 -2.3 0M636.3 404.1a1.15 1.15 0 1 0 2.3 0a1.15 1.15 0 1 0 -2.3 0M634.9 407.2a1.15 1.15 0 1 0 2.3 0a1.15 1.15 0 1 0 -2.3 0M633.4 410.3a1.15 1.15 0 1 0 2.3 0a1.15 1.15 0 1 0 -2.3 0M631.9 413.3a1.15 1.15 0 1 0 2.3 0a1.15 1.15 0 1 0 -2.3 0M639.2 403.5a1.15 1.15 0 1 0 2.3 0a1.15 1.15 0 1 0 -2.3 0M638.1 406.7a1.15 1.15 0 1 0 2.3 0a1.15 1.15 0 1 0 -2.3 0M637.0 409.9a1.15 1.15 0 1 0 2.3 0a1.15 1.15 0 1 0 -2.3 0M636.0 413.1a1.15 1.15 0 1 0 2.3 0a1.15 1.15 0 1 0 -2.3 0M642.2 402.6a1.15 1.15 0 1 0 2.3 0a1.15 1.15 0 1 0 -2.3 0M641.3 405.8a1.15 1.15 0 1 0 2.3 0a1.15 1.15 0 1 0 -2.3 0M640.4 409.1a1.15 1.15 0 1 0 2.3 0a1.15 1.15 0 1 0 -2.3 0M639.5 412.4a1.15 1.15 0 1 0 2.3 0a1.15 1.15 0 1 0 -2.3 0M638.7 415.7a1.15 1.15 0 1 0 2.3 0a1.15 1.15 0 1 0 -2.3 0M644.5 404.9a1.15 1.15 0 1 0 2.3 0a1.15 1.15 0 1 0 -2.3 0M643.7 408.2a1.15 1.15 0 1 0 2.3 0a1.15 1.15 0 1 0 -2.3 0M642.8 411.5a1.15 1.15 0 1 0 2.3 0a1.15 1.15 0 1 0 -2.3 0M642.0 414.8a1.15 1.15 0 1 0 2.3 0a1.15 1.15 0 1 0 -2.3 0M646.8 403.6a1.15 1.15 0 1 0 2.3 0a1.15 1.15 0 1 0 -2.3 0M646.5 407.0a1.15 1.15 0 1 0 2.3 0a1.15 1.15 0 1 0 -2.3 0M646.2 410.4a1.15 1.15 0 1 0 2.3 0a1.15 1.15 0 1 0 -2.3 0M645.8 413.8a1.15 1.15 0 1 0 2.3 0a1.15 1.15 0 1 0 -2.3 0M645.5 417.2a1.15 1.15 0 1 0 2.3 0a1.15 1.15 0 1 0 -2.3 0M649.2 405.5a1.15 1.15 0 1 0 2.3 0a1.15 1.15 0 1 0 -2.3 0M649.1 408.9a1.15 1.15 0 1 0 2.3 0a1.15 1.15 0 1 0 -2.3 0M649.1 412.3a1.15 1.15 0 1 0 2.3 0a1.15 1.15 0 1 0 -2.3 0M649.0 415.7a1.15 1.15 0 1 0 2.3 0a1.15 1.15 0 1 0 -2.3 0M652.4 403.9a1.15 1.15 0 1 0 2.3 0a1.15 1.15 0 1 0 -2.3 0M652.2 407.3a1.15 1.15 0 1 0 2.3 0a1.15 1.15 0 1 0 -2.3 0M652.0 410.7a1.15 1.15 0 1 0 2.3 0a1.15 1.15 0 1 0 -2.3 0M651.9 414.1a1.15 1.15 0 1 0 2.3 0a1.15 1.15 0 1 0 -2.3 0M651.7 417.5a1.15 1.15 0 1 0 2.3 0a1.15 1.15 0 1 0 -2.3 0M655.7 405.9a1.15 1.15 0 1 0 2.3 0a1.15 1.15 0 1 0 -2.3 0M655.2 409.2a1.15 1.15 0 1 0 2.3 0a1.15 1.15 0 1 0 -2.3 0M654.7 412.6a1.15 1.15 0 1 0 2.3 0a1.15 1.15 0 1 0 -2.3 0M654.3 416.0a1.15 1.15 0 1 0 2.3 0a1.15 1.15 0 1 0 -2.3 0M660.0 405.2a1.15 1.15 0 1 0 2.3 0a1.15 1.15 0 1 0 -2.3 0M658.9 408.4a1.15 1.15 0 1 0 2.3 0a1.15 1.15 0 1 0 -2.3 0M657.8 411.6a1.15 1.15 0 1 0 2.3 0a1.15 1.15 0 1 0 -2.3 0M656.8 414.8a1.15 1.15 0 1 0 2.3 0a1.15 1.15 0 1 0 -2.3 0M655.7 418.1a1.15 1.15 0 1 0 2.3 0a1.15 1.15 0 1 0 -2.3 0M662.7 408.1a1.15 1.15 0 1 0 2.3 0a1.15 1.15 0 1 0 -2.3 0M661.3 411.2a1.15 1.15 0 1 0 2.3 0a1.15 1.15 0 1 0 -2.3 0M659.8 414.3a1.15 1.15 0 1 0 2.3 0a1.15 1.15 0 1 0 -2.3 0M658.4 417.4a1.15 1.15 0 1 0 2.3 0a1.15 1.15 0 1 0 -2.3 0M666.3 408.0a1.15 1.15 0 1 0 2.3 0a1.15 1.15 0 1 0 -2.3 0M664.8 411.0a1.15 1.15 0 1 0 2.3 0a1.15 1.15 0 1 0 -2.3 0M663.2 414.1a1.15 1.15 0 1 0 2.3 0a1.15 1.15 0 1 0 -2.3 0M661.6 417.1a1.15 1.15 0 1 0 2.3 0a1.15 1.15 0 1 0 -2.3 0M660.0 420.1a1.15 1.15 0 1 0 2.3 0a1.15 1.15 0 1 0 -2.3 0M668.4 411.1a1.15 1.15 0 1 0 2.3 0a1.15 1.15 0 1 0 -2.3 0M666.6 414.0a1.15 1.15 0 1 0 2.3 0a1.15 1.15 0 1 0 -2.3 0M664.9 416.9a1.15 1.15 0 1 0 2.3 0a1.15 1.15 0 1 0 -2.3 0M663.1 419.8a1.15 1.15 0 1 0 2.3 0a1.15 1.15 0 1 0 -2.3 0M672.1 411.4a1.15 1.15 0 1 0 2.3 0a1.15 1.15 0 1 0 -2.3 0M670.2 414.2a1.15 1.15 0 1 0 2.3 0a1.15 1.15 0 1 0 -2.3 0M668.3 417.0a1.15 1.15 0 1 0 2.3 0a1.15 1.15 0 1 0 -2.3 0M666.3 419.9a1.15 1.15 0 1 0 2.3 0a1.15 1.15 0 1 0 -2.3 0M664.4 422.7a1.15 1.15 0 1 0 2.3 0a1.15 1.15 0 1 0 -2.3 0M673.9 414.9a1.15 1.15 0 1 0 2.3 0a1.15 1.15 0 1 0 -2.3 0M671.7 417.5a1.15 1.15 0 1 0 2.3 0a1.15 1.15 0 1 0 -2.3 0M669.5 420.1a1.15 1.15 0 1 0 2.3 0a1.15 1.15 0 1 0 -2.3 0M667.3 422.7a1.15 1.15 0 1 0 2.3 0a1.15 1.15 0 1 0 -2.3 0M678.1 417.0a1.15 1.15 0 1 0 2.3 0a1.15 1.15 0 1 0 -2.3 0M675.4 419.0a1.15 1.15 0 1 0 2.3 0a1.15 1.15 0 1 0 -2.3 0M672.6 420.9a1.15 1.15 0 1 0 2.3 0a1.15 1.15 0 1 0 -2.3 0M669.9 422.9a1.15 1.15 0 1 0 2.3 0a1.15 1.15 0 1 0 -2.3 0M667.1 424.9a1.15 1.15 0 1 0 2.3 0a1.15 1.15 0 1 0 -2.3 0M678.8 421.8a1.15 1.15 0 1 0 2.3 0a1.15 1.15 0 1 0 -2.3 0M675.6 422.9a1.15 1.15 0 1 0 2.3 0a1.15 1.15 0 1 0 -2.3 0M672.4 424.1a1.15 1.15 0 1 0 2.3 0a1.15 1.15 0 1 0 -2.3 0M669.2 425.2a1.15 1.15 0 1 0 2.3 0a1.15 1.15 0 1 0 -2.3 0M681.5 425.5a1.15 1.15 0 1 0 2.3 0a1.15 1.15 0 1 0 -2.3 0M678.1 425.9a1.15 1.15 0 1 0 2.3 0a1.15 1.15 0 1 0 -2.3 0M674.7 426.4a1.15 1.15 0 1 0 2.3 0a1.15 1.15 0 1 0 -2.3 0M671.3 426.8a1.15 1.15 0 1 0 2.3 0a1.15 1.15 0 1 0 -2.3 0M668.0 427.2a1.15 1.15 0 1 0 2.3 0a1.15 1.15 0 1 0 -2.3 0M680.0 429.4a1.15 1.15 0 1 0 2.3 0a1.15 1.15 0 1 0 -2.3 0M676.6 429.4a1.15 1.15 0 1 0 2.3 0a1.15 1.15 0 1 0 -2.3 0M673.2 429.3a1.15 1.15 0 1 0 2.3 0a1.15 1.15 0 1 0 -2.3 0M669.8 429.2a1.15 1.15 0 1 0 2.3 0a1.15 1.15 0 1 0 -2.3 0M681.2 433.5a1.15 1.15 0 1 0 2.3 0a1.15 1.15 0 1 0 -2.3 0M677.9 432.9a1.15 1.15 0 1 0 2.3 0a1.15 1.15 0 1 0 -2.3 0M674.6 432.2a1.15 1.15 0 1 0 2.3 0a1.15 1.15 0 1 0 -2.3 0M671.2 431.6a1.15 1.15 0 1 0 2.3 0a1.15 1.15 0 1 0 -2.3 0M667.9 430.9a1.15 1.15 0 1 0 2.3 0a1.15 1.15 0 1 0 -2.3 0M678.4 437.0a1.15 1.15 0 1 0 2.3 0a1.15 1.15 0 1 0 -2.3 0M675.3 435.7a1.15 1.15 0 1 0 2.3 0a1.15 1.15 0 1 0 -2.3 0M672.1 434.4a1.15 1.15 0 1 0 2.3 0a1.15 1.15 0 1 0 -2.3 0M669.0 433.1a1.15 1.15 0 1 0 2.3 0a1.15 1.15 0 1 0 -2.3 0M677.8 441.6a1.15 1.15 0 1 0 2.3 0a1.15 1.15 0 1 0 -2.3 0M675.0 439.6a1.15 1.15 0 1 0 2.3 0a1.15 1.15 0 1 0 -2.3 0M672.2 437.6a1.15 1.15 0 1 0 2.3 0a1.15 1.15 0 1 0 -2.3 0M669.5 435.6a1.15 1.15 0 1 0 2.3 0a1.15 1.15 0 1 0 -2.3 0M666.7 433.6a1.15 1.15 0 1 0 2.3 0a1.15 1.15 0 1 0 -2.3 0M673.4 443.7a1.15 1.15 0 1 0 2.3 0a1.15 1.15 0 1 0 -2.3 0M671.3 441.0a1.15 1.15 0 1 0 2.3 0a1.15 1.15 0 1 0 -2.3 0M669.1 438.4a1.15 1.15 0 1 0 2.3 0a1.15 1.15 0 1 0 -2.3 0M667.0 435.7a1.15 1.15 0 1 0 2.3 0a1.15 1.15 0 1 0 -2.3 0M670.9 447.3a1.15 1.15 0 1 0 2.3 0a1.15 1.15 0 1 0 -2.3 0M669.3 444.3a1.15 1.15 0 1 0 2.3 0a1.15 1.15 0 1 0 -2.3 0M667.7 441.3a1.15 1.15 0 1 0 2.3 0a1.15 1.15 0 1 0 -2.3 0M666.1 438.3a1.15 1.15 0 1 0 2.3 0a1.15 1.15 0 1 0 -2.3 0M664.5 435.3a1.15 1.15 0 1 0 2.3 0a1.15 1.15 0 1 0 -2.3 0M668.5 450.4a1.15 1.15 0 1 0 2.3 0a1.15 1.15 0 1 0 -2.3 0M667.1 447.3a1.15 1.15 0 1 0 2.3 0a1.15 1.15 0 1 0 -2.3 0M665.8 444.2a1.15 1.15 0 1 0 2.3 0a1.15 1.15 0 1 0 -2.3 0M664.4 441.1a1.15 1.15 0 1 0 2.3 0a1.15 1.15 0 1 0 -2.3 0M663.1 437.9a1.15 1.15 0 1 0 2.3 0a1.15 1.15 0 1 0 -2.3 0M661.7 434.8a1.15 1.15 0 1 0 2.3 0a1.15 1.15 0 1 0 -2.3 0M664.7 450.1a1.15 1.15 0 1 0 2.3 0a1.15 1.15 0 1 0 -2.3 0M663.5 446.9a1.15 1.15 0 1 0 2.3 0a1.15 1.15 0 1 0 -2.3 0M662.4 443.7a1.15 1.15 0 1 0 2.3 0a1.15 1.15 0 1 0 -2.3 0M661.2 440.5a1.15 1.15 0 1 0 2.3 0a1.15 1.15 0 1 0 -2.3 0M660.0 437.3a1.15 1.15 0 1 0 2.3 0a1.15 1.15 0 1 0 -2.3 0M662.1 452.8a1.15 1.15 0 1 0 2.3 0a1.15 1.15 0 1 0 -2.3 0M661.1 449.6a1.15 1.15 0 1 0 2.3 0a1.15 1.15 0 1 0 -2.3 0M660.1 446.3a1.15 1.15 0 1 0 2.3 0a1.15 1.15 0 1 0 -2.3 0M659.1 443.1a1.15 1.15 0 1 0 2.3 0a1.15 1.15 0 1 0 -2.3 0M658.1 439.8a1.15 1.15 0 1 0 2.3 0a1.15 1.15 0 1 0 -2.3 0M657.1 436.6a1.15 1.15 0 1 0 2.3 0a1.15 1.15 0 1 0 -2.3 0M658.6 452.1a1.15 1.15 0 1 0 2.3 0a1.15 1.15 0 1 0 -2.3 0M657.7 448.8a1.15 1.15 0 1 0 2.3 0a1.15 1.15 0 1 0 -2.3 0M656.8 445.5a1.15 1.15 0 1 0 2.3 0a1.15 1.15 0 1 0 -2.3 0M655.8 442.2a1.15 1.15 0 1 0 2.3 0a1.15 1.15 0 1 0 -2.3 0M654.9 439.0a1.15 1.15 0 1 0 2.3 0a1.15 1.15 0 1 0 -2.3 0M655.8 454.5a1.15 1.15 0 1 0 2.3 0a1.15 1.15 0 1 0 -2.3 0M655.1 451.2a1.15 1.15 0 1 0 2.3 0a1.15 1.15 0 1 0 -2.3 0M654.3 447.9a1.15 1.15 0 1 0 2.3 0a1.15 1.15 0 1 0 -2.3 0M653.5 444.6a1.15 1.15 0 1 0 2.3 0a1.15 1.15 0 1 0 -2.3 0M652.8 441.3a1.15 1.15 0 1 0 2.3 0a1.15 1.15 0 1 0 -2.3 0M652.0 437.9a1.15 1.15 0 1 0 2.3 0a1.15 1.15 0 1 0 -2.3 0M652.3 453.5a1.15 1.15 0 1 0 2.3 0a1.15 1.15 0 1 0 -2.3 0M651.7 450.2a1.15 1.15 0 1 0 2.3 0a1.15 1.15 0 1 0 -2.3 0M651.0 446.8a1.15 1.15 0 1 0 2.3 0a1.15 1.15 0 1 0 -2.3 0M650.4 443.5a1.15 1.15 0 1 0 2.3 0a1.15 1.15 0 1 0 -2.3 0M649.8 440.1a1.15 1.15 0 1 0 2.3 0a1.15 1.15 0 1 0 -2.3 0M649.5 455.7a1.15 1.15 0 1 0 2.3 0a1.15 1.15 0 1 0 -2.3 0M648.9 452.4a1.15 1.15 0 1 0 2.3 0a1.15 1.15 0 1 0 -2.3 0M648.4 449.0a1.15 1.15 0 1 0 2.3 0a1.15 1.15 0 1 0 -2.3 0M647.9 445.7a1.15 1.15 0 1 0 2.3 0a1.15 1.15 0 1 0 -2.3 0M647.3 442.3a1.15 1.15 0 1 0 2.3 0a1.15 1.15 0 1 0 -2.3 0M646.8 438.9a1.15 1.15 0 1 0 2.3 0a1.15 1.15 0 1 0 -2.3 0M645.9 454.5a1.15 1.15 0 1 0 2.3 0a1.15 1.15 0 1 0 -2.3 0M645.6 451.1a1.15 1.15 0 1 0 2.3 0a1.15 1.15 0 1 0 -2.3 0M645.2 447.7a1.15 1.15 0 1 0 2.3 0a1.15 1.15 0 1 0 -2.3 0M644.8 444.3a1.15 1.15 0 1 0 2.3 0a1.15 1.15 0 1 0 -2.3 0M644.5 440.9a1.15 1.15 0 1 0 2.3 0a1.15 1.15 0 1 0 -2.3 0M642.7 456.4a1.15 1.15 0 1 0 2.3 0a1.15 1.15 0 1 0 -2.3 0M642.5 453.0a1.15 1.15 0 1 0 2.3 0a1.15 1.15 0 1 0 -2.3 0M642.4 449.6a1.15 1.15 0 1 0 2.3 0a1.15 1.15 0 1 0 -2.3 0M642.2 446.2a1.15 1.15 0 1 0 2.3 0a1.15 1.15 0 1 0 -2.3 0M642.0 442.8a1.15 1.15 0 1 0 2.3 0a1.15 1.15 0 1 0 -2.3 0M641.8 439.4a1.15 1.15 0 1 0 2.3 0a1.15 1.15 0 1 0 -2.3 0M639.1 454.8a1.15 1.15 0 1 0 2.3 0a1.15 1.15 0 1 0 -2.3 0M639.2 451.4a1.15 1.15 0 1 0 2.3 0a1.15 1.15 0 1 0 -2.3 0M639.3 448.0a1.15 1.15 0 1 0 2.3 0a1.15 1.15 0 1 0 -2.3 0M639.5 444.6a1.15 1.15 0 1 0 2.3 0a1.15 1.15 0 1 0 -2.3 0M639.6 441.2a1.15 1.15 0 1 0 2.3 0a1.15 1.15 0 1 0 -2.3 0M635.1 456.1a1.15 1.15 0 1 0 2.3 0a1.15 1.15 0 1 0 -2.3 0M635.6 452.8a1.15 1.15 0 1 0 2.3 0a1.15 1.15 0 1 0 -2.3 0M636.1 449.4a1.15 1.15 0 1 0 2.3 0a1.15 1.15 0 1 0 -2.3 0M636.7 446.1a1.15 1.15 0 1 0 2.3 0a1.15 1.15 0 1 0 -2.3 0M637.2 442.7a1.15 1.15 0 1 0 2.3 0a1.15 1.15 0 1 0 -2.3 0M637.7 439.3a1.15 1.15 0 1 0 2.3 0a1.15 1.15 0 1 0 -2.3 0M632.1 453.9a1.15 1.15 0 1 0 2.3 0a1.15 1.15 0 1 0 -2.3 0M632.8 450.5a1.15 1.15 0 1 0 2.3 0a1.15 1.15 0 1 0 -2.3 0M633.5 447.2a1.15 1.15 0 1 0 2.3 0a1.15 1.15 0 1 0 -2.3 0M634.2 443.9a1.15 1.15 0 1 0 2.3 0a1.15 1.15 0 1 0 -2.3 0M634.9 440.5a1.15 1.15 0 1 0 2.3 0a1.15 1.15 0 1 0 -2.3 0M628.4 454.7a1.15 1.15 0 1 0 2.3 0a1.15 1.15 0 1 0 -2.3 0M629.3 451.4a1.15 1.15 0 1 0 2.3 0a1.15 1.15 0 1 0 -2.3 0M630.2 448.1a1.15 1.15 0 1 0 2.3 0a1.15 1.15 0 1 0 -2.3 0M631.1 444.8a1.15 1.15 0 1 0 2.3 0a1.15 1.15 0 1 0 -2.3 0M632.0 441.6a1.15 1.15 0 1 0 2.3 0a1.15 1.15 0 1 0 -2.3 0M632.9 438.3a1.15 1.15 0 1 0 2.3 0a1.15 1.15 0 1 0 -2.3 0M625.7 452.1a1.15 1.15 0 1 0 2.3 0a1.15 1.15 0 1 0 -2.3 0M626.8 448.8a1.15 1.15 0 1 0 2.3 0a1.15 1.15 0 1 0 -2.3 0M627.8 445.6a1.15 1.15 0 1 0 2.3 0a1.15 1.15 0 1 0 -2.3 0M628.9 442.4a1.15 1.15 0 1 0 2.3 0a1.15 1.15 0 1 0 -2.3 0M629.9 439.2a1.15 1.15 0 1 0 2.3 0a1.15 1.15 0 1 0 -2.3 0M622.2 452.7a1.15 1.15 0 1 0 2.3 0a1.15 1.15 0 1 0 -2.3 0M623.4 449.5a1.15 1.15 0 1 0 2.3 0a1.15 1.15 0 1 0 -2.3 0M624.5 446.3a1.15 1.15 0 1 0 2.3 0a1.15 1.15 0 1 0 -2.3 0M625.6 443.1a1.15 1.15 0 1 0 2.3 0a1.15 1.15 0 1 0 -2.3 0M626.7 439.9a1.15 1.15 0 1 0 2.3 0a1.15 1.15 0 1 0 -2.3 0M627.9 436.7a1.15 1.15 0 1 0 2.3 0a1.15 1.15 0 1 0 -2.3 0M620.0 450.1a1.15 1.15 0 1 0 2.3 0a1.15 1.15 0 1 0 -2.3 0M621.1 446.9a1.15 1.15 0 1 0 2.3 0a1.15 1.15 0 1 0 -2.3 0M622.3 443.7a1.15 1.15 0 1 0 2.3 0a1.15 1.15 0 1 0 -2.3 0M623.4 440.5a1.15 1.15 0 1 0 2.3 0a1.15 1.15 0 1 0 -2.3 0M624.5 437.3a1.15 1.15 0 1 0 2.3 0a1.15 1.15 0 1 0 -2.3 0M616.7 450.8a1.15 1.15 0 1 0 2.3 0a1.15 1.15 0 1 0 -2.3 0M617.8 447.6a1.15 1.15 0 1 0 2.3 0a1.15 1.15 0 1 0 -2.3 0M618.9 444.3a1.15 1.15 0 1 0 2.3 0a1.15 1.15 0 1 0 -2.3 0M620.0 441.1a1.15 1.15 0 1 0 2.3 0a1.15 1.15 0 1 0 -2.3 0M621.1 437.9a1.15 1.15 0 1 0 2.3 0a1.15 1.15 0 1 0 -2.3 0M622.2 434.7a1.15 1.15 0 1 0 2.3 0a1.15 1.15 0 1 0 -2.3 0M614.7 448.3a1.15 1.15 0 1 0 2.3 0a1.15 1.15 0 1 0 -2.3 0M615.7 445.1a1.15 1.15 0 1 0 2.3 0a1.15 1.15 0 1 0 -2.3 0M616.7 441.8a1.15 1.15 0 1 0 2.3 0a1.15 1.15 0 1 0 -2.3 0M617.7 438.6a1.15 1.15 0 1 0 2.3 0a1.15 1.15 0 1 0 -2.3 0M618.7 435.3a1.15 1.15 0 1 0 2.3 0a1.15 1.15 0 1 0 -2.3 0M611.6 449.2a1.15 1.15 0 1 0 2.3 0a1.15 1.15 0 1 0 -2.3 0M612.5 445.9a1.15 1.15 0 1 0 2.3 0a1.15 1.15 0 1 0 -2.3 0M613.4 442.6a1.15 1.15 0 1 0 2.3 0a1.15 1.15 0 1 0 -2.3 0M614.3 439.3a1.15 1.15 0 1 0 2.3 0a1.15 1.15 0 1 0 -2.3 0M615.2 436.1a1.15 1.15 0 1 0 2.3 0a1.15 1.15 0 1 0 -2.3 0M616.1 432.8a1.15 1.15 0 1 0 2.3 0a1.15 1.15 0 1 0 -2.3 0M609.7 447.0a1.15 1.15 0 1 0 2.3 0a1.15 1.15 0 1 0 -2.3 0M610.3 443.7a1.15 1.15 0 1 0 2.3 0a1.15 1.15 0 1 0 -2.3 0M611.0 440.4a1.15 1.15 0 1 0 2.3 0a1.15 1.15 0 1 0 -2.3 0M611.6 437.0a1.15 1.15 0 1 0 2.3 0a1.15 1.15 0 1 0 -2.3 0M612.3 433.7a1.15 1.15 0 1 0 2.3 0a1.15 1.15 0 1 0 -2.3 0M607.5 448.5a1.15 1.15 0 1 0 2.3 0a1.15 1.15 0 1 0 -2.3 0M607.7 445.1a1.15 1.15 0 1 0 2.3 0a1.15 1.15 0 1 0 -2.3 0M607.9 441.7a1.15 1.15 0 1 0 2.3 0a1.15 1.15 0 1 0 -2.3 0M608.2 438.3a1.15 1.15 0 1 0 2.3 0a1.15 1.15 0 1 0 -2.3 0M608.4 434.9a1.15 1.15 0 1 0 2.3 0a1.15 1.15 0 1 0 -2.3 0M608.7 431.5a1.15 1.15 0 1 0 2.3 0a1.15 1.15 0 1 0 -2.3 0M605.2 446.8a1.15 1.15 0 1 0 2.3 0a1.15 1.15 0 1 0 -2.3 0M605.2 443.4a1.15 1.15 0 1 0 2.3 0a1.15 1.15 0 1 0 -2.3 0M605.1 440.0a1.15 1.15 0 1 0 2.3 0a1.15 1.15 0 1 0 -2.3 0M605.1 436.6a1.15 1.15 0 1 0 2.3 0a1.15 1.15 0 1 0 -2.3 0M605.0 433.2a1.15 1.15 0 1 0 2.3 0a1.15 1.15 0 1 0 -2.3 0M603.1 448.6a1.15 1.15 0 1 0 2.3 0a1.15 1.15 0 1 0 -2.3 0M602.7 445.2a1.15 1.15 0 1 0 2.3 0a1.15 1.15 0 1 0 -2.3 0M602.4 441.9a1.15 1.15 0 1 0 2.3 0a1.15 1.15 0 1 0 -2.3 0M602.0 438.5a1.15 1.15 0 1 0 2.3 0a1.15 1.15 0 1 0 -2.3 0M601.6 435.1a1.15 1.15 0 1 0 2.3 0a1.15 1.15 0 1 0 -2.3 0M601.3 431.7a1.15 1.15 0 1 0 2.3 0a1.15 1.15 0 1 0 -2.3 0M600.4 447.3a1.15 1.15 0 1 0 2.3 0a1.15 1.15 0 1 0 -2.3 0M599.8 443.9a1.15 1.15 0 1 0 2.3 0a1.15 1.15 0 1 0 -2.3 0M599.3 440.5a1.15 1.15 0 1 0 2.3 0a1.15 1.15 0 1 0 -2.3 0M598.7 437.2a1.15 1.15 0 1 0 2.3 0a1.15 1.15 0 1 0 -2.3 0M598.2 433.8a1.15 1.15 0 1 0 2.3 0a1.15 1.15 0 1 0 -2.3 0M598.2 449.4a1.15 1.15 0 1 0 2.3 0a1.15 1.15 0 1 0 -2.3 0M597.5 446.1a1.15 1.15 0 1 0 2.3 0a1.15 1.15 0 1 0 -2.3 0M596.7 442.7a1.15 1.15 0 1 0 2.3 0a1.15 1.15 0 1 0 -2.3 0M596.0 439.4a1.15 1.15 0 1 0 2.3 0a1.15 1.15 0 1 0 -2.3 0M595.3 436.1a1.15 1.15 0 1 0 2.3 0a1.15 1.15 0 1 0 -2.3 0M594.5 432.8a1.15 1.15 0 1 0 2.3 0a1.15 1.15 0 1 0 -2.3 0M595.4 448.4a1.15 1.15 0 1 0 2.3 0a1.15 1.15 0 1 0 -2.3 0M594.4 445.1a1.15 1.15 0 1 0 2.3 0a1.15 1.15 0 1 0 -2.3 0M593.5 441.8a1.15 1.15 0 1 0 2.3 0a1.15 1.15 0 1 0 -2.3 0M592.6 438.5a1.15 1.15 0 1 0 2.3 0a1.15 1.15 0 1 0 -2.3 0M591.7 435.3a1.15 1.15 0 1 0 2.3 0a1.15 1.15 0 1 0 -2.3 0M593.7 450.7a1.15 1.15 0 1 0 2.3 0a1.15 1.15 0 1 0 -2.3 0M592.5 447.5a1.15 1.15 0 1 0 2.3 0a1.15 1.15 0 1 0 -2.3 0M591.3 444.3a1.15 1.15 0 1 0 2.3 0a1.15 1.15 0 1 0 -2.3 0M590.1 441.1a1.15 1.15 0 1 0 2.3 0a1.15 1.15 0 1 0 -2.3 0M588.9 437.9a1.15 1.15 0 1 0 2.3 0a1.15 1.15 0 1 0 -2.3 0M587.7 434.8a1.15 1.15 0 1 0 2.3 0a1.15 1.15 0 1 0 -2.3 0M590.7 450.0a1.15 1.15 0 1 0 2.3 0a1.15 1.15 0 1 0 -2.3 0M589.4 446.9a1.15 1.15 0 1 0 2.3 0a1.15 1.15 0 1 0 -2.3 0M588.0 443.8a1.15 1.15 0 1 0 2.3 0a1.15 1.15 0 1 0 -2.3 0M586.6 440.7a1.15 1.15 0 1 0 2.3 0a1.15 1.15 0 1 0 -2.3 0M585.2 437.6a1.15 1.15 0 1 0 2.3 0a1.15 1.15 0 1 0 -2.3 0M589.5 452.5a1.15 1.15 0 1 0 2.3 0a1.15 1.15 0 1 0 -2.3 0M587.8 449.6a1.15 1.15 0 1 0 2.3 0a1.15 1.15 0 1 0 -2.3 0M586.2 446.6a1.15 1.15 0 1 0 2.3 0a1.15 1.15 0 1 0 -2.3 0M584.5 443.6a1.15 1.15 0 1 0 2.3 0a1.15 1.15 0 1 0 -2.3 0M582.9 440.7a1.15 1.15 0 1 0 2.3 0a1.15 1.15 0 1 0 -2.3 0M581.2 437.7a1.15 1.15 0 1 0 2.3 0a1.15 1.15 0 1 0 -2.3 0M587.0 452.1a1.15 1.15 0 1 0 2.3 0a1.15 1.15 0 1 0 -2.3 0M584.9 449.4a1.15 1.15 0 1 0 2.3 0a1.15 1.15 0 1 0 -2.3 0M582.9 446.7a1.15 1.15 0 1 0 2.3 0a1.15 1.15 0 1 0 -2.3 0M580.8 444.0a1.15 1.15 0 1 0 2.3 0a1.15 1.15 0 1 0 -2.3 0M578.8 441.3a1.15 1.15 0 1 0 2.3 0a1.15 1.15 0 1 0 -2.3 0M586.7 454.5a1.15 1.15 0 1 0 2.3 0a1.15 1.15 0 1 0 -2.3 0M584.3 452.2a1.15 1.15 0 1 0 2.3 0a1.15 1.15 0 1 0 -2.3 0M581.9 449.8a1.15 1.15 0 1 0 2.3 0a1.15 1.15 0 1 0 -2.3 0M579.4 447.4a1.15 1.15 0 1 0 2.3 0a1.15 1.15 0 1 0 -2.3 0M577.0 445.1a1.15 1.15 0 1 0 2.3 0a1.15 1.15 0 1 0 -2.3 0M574.5 442.7a1.15 1.15 0 1 0 2.3 0a1.15 1.15 0 1 0 -2.3 0M584.2 454.9a1.15 1.15 0 1 0 2.3 0a1.15 1.15 0 1 0 -2.3 0M581.5 452.9a1.15 1.15 0 1 0 2.3 0a1.15 1.15 0 1 0 -2.3 0M578.7 450.9a1.15 1.15 0 1 0 2.3 0a1.15 1.15 0 1 0 -2.3 0M576.0 448.9a1.15 1.15 0 1 0 2.3 0a1.15 1.15 0 1 0 -2.3 0M573.2 446.9a1.15 1.15 0 1 0 2.3 0a1.15 1.15 0 1 0 -2.3 0M584.6 457.4a1.15 1.15 0 1 0 2.3 0a1.15 1.15 0 1 0 -2.3 0M581.6 455.8a1.15 1.15 0 1 0 2.3 0a1.15 1.15 0 1 0 -2.3 0M578.7 454.2a1.15 1.15 0 1 0 2.3 0a1.15 1.15 0 1 0 -2.3 0M575.7 452.5a1.15 1.15 0 1 0 2.3 0a1.15 1.15 0 1 0 -2.3 0M572.7 450.9a1.15 1.15 0 1 0 2.3 0a1.15 1.15 0 1 0 -2.3 0M569.7 449.3a1.15 1.15 0 1 0 2.3 0a1.15 1.15 0 1 0 -2.3 0M582.3 458.5a1.15 1.15 0 1 0 2.3 0a1.15 1.15 0 1 0 -2.3 0M579.1 457.2a1.15 1.15 0 1 0 2.3 0a1.15 1.15 0 1 0 -2.3 0M575.9 456.0a1.15 1.15 0 1 0 2.3 0a1.15 1.15 0 1 0 -2.3 0M572.8 454.8a1.15 1.15 0 1 0 2.3 0a1.15 1.15 0 1 0 -2.3 0M569.6 453.6a1.15 1.15 0 1 0 2.3 0a1.15 1.15 0 1 0 -2.3 0M583.5 460.4a1.15 1.15 0 1 0 2.3 0a1.15 1.15 0 1 0 -2.3 0M580.2 459.8a1.15 1.15 0 1 0 2.3 0a1.15 1.15 0 1 0 -2.3 0M576.8 459.2a1.15 1.15 0 1 0 2.3 0a1.15 1.15 0 1 0 -2.3 0M573.5 458.5a1.15 1.15 0 1 0 2.3 0a1.15 1.15 0 1 0 -2.3 0M570.1 457.9a1.15 1.15 0 1 0 2.3 0a1.15 1.15 0 1 0 -2.3 0M566.8 457.3a1.15 1.15 0 1 0 2.3 0a1.15 1.15 0 1 0 -2.3 0M581.6 462.0a1.15 1.15 0 1 0 2.3 0a1.15 1.15 0 1 0 -2.3 0M578.2 461.9a1.15 1.15 0 1 0 2.3 0a1.15 1.15 0 1 0 -2.3 0M574.8 461.8a1.15 1.15 0 1 0 2.3 0a1.15 1.15 0 1 0 -2.3 0M571.4 461.7a1.15 1.15 0 1 0 2.3 0a1.15 1.15 0 1 0 -2.3 0M568.0 461.6a1.15 1.15 0 1 0 2.3 0a1.15 1.15 0 1 0 -2.3 0M583.5 463.0a1.15 1.15 0 1 0 2.3 0a1.15 1.15 0 1 0 -2.3 0M580.2 463.6a1.15 1.15 0 1 0 2.3 0a1.15 1.15 0 1 0 -2.3 0M576.8 464.3a1.15 1.15 0 1 0 2.3 0a1.15 1.15 0 1 0 -2.3 0M573.5 465.0a1.15 1.15 0 1 0 2.3 0a1.15 1.15 0 1 0 -2.3 0M570.2 465.7a1.15 1.15 0 1 0 2.3 0a1.15 1.15 0 1 0 -2.3 0M566.8 466.4a1.15 1.15 0 1 0 2.3 0a1.15 1.15 0 1 0 -2.3 0M582.4 465.3a1.15 1.15 0 1 0 2.3 0a1.15 1.15 0 1 0 -2.3 0M579.2 466.4a1.15 1.15 0 1 0 2.3 0a1.15 1.15 0 1 0 -2.3 0M576.0 467.5a1.15 1.15 0 1 0 2.3 0a1.15 1.15 0 1 0 -2.3 0M572.8 468.6a1.15 1.15 0 1 0 2.3 0a1.15 1.15 0 1 0 -2.3 0M569.6 469.8a1.15 1.15 0 1 0 2.3 0a1.15 1.15 0 1 0 -2.3 0M584.7 466.3a1.15 1.15 0 1 0 2.3 0a1.15 1.15 0 1 0 -2.3 0M581.7 467.8a1.15 1.15 0 1 0 2.3 0a1.15 1.15 0 1 0 -2.3 0M578.7 469.4a1.15 1.15 0 1 0 2.3 0a1.15 1.15 0 1 0 -2.3 0M575.7 471.0a1.15 1.15 0 1 0 2.3 0a1.15 1.15 0 1 0 -2.3 0M572.7 472.6a1.15 1.15 0 1 0 2.3 0a1.15 1.15 0 1 0 -2.3 0M569.6 474.1a1.15 1.15 0 1 0 2.3 0a1.15 1.15 0 1 0 -2.3 0M584.3 469.1a1.15 1.15 0 1 0 2.3 0a1.15 1.15 0 1 0 -2.3 0M581.5 470.9a1.15 1.15 0 1 0 2.3 0a1.15 1.15 0 1 0 -2.3 0M578.6 472.8a1.15 1.15 0 1 0 2.3 0a1.15 1.15 0 1 0 -2.3 0M575.8 474.6a1.15 1.15 0 1 0 2.3 0a1.15 1.15 0 1 0 -2.3 0M572.9 476.5a1.15 1.15 0 1 0 2.3 0a1.15 1.15 0 1 0 -2.3 0M587.0 470.0a1.15 1.15 0 1 0 2.3 0a1.15 1.15 0 1 0 -2.3 0M584.4 472.0a1.15 1.15 0 1 0 2.3 0a1.15 1.15 0 1 0 -2.3 0M581.7 474.1a1.15 1.15 0 1 0 2.3 0a1.15 1.15 0 1 0 -2.3 0M579.0 476.2a1.15 1.15 0 1 0 2.3 0a1.15 1.15 0 1 0 -2.3 0M576.3 478.3a1.15 1.15 0 1 0 2.3 0a1.15 1.15 0 1 0 -2.3 0M573.6 480.4a1.15 1.15 0 1 0 2.3 0a1.15 1.15 0 1 0 -2.3 0M587.2 472.8a1.15 1.15 0 1 0 2.3 0a1.15 1.15 0 1 0 -2.3 0M584.7 475.1a1.15 1.15 0 1 0 2.3 0a1.15 1.15 0 1 0 -2.3 0M582.2 477.4a1.15 1.15 0 1 0 2.3 0a1.15 1.15 0 1 0 -2.3 0M579.8 479.7a1.15 1.15 0 1 0 2.3 0a1.15 1.15 0 1 0 -2.3 0M577.3 482.1a1.15 1.15 0 1 0 2.3 0a1.15 1.15 0 1 0 -2.3 0M590.0 473.1a1.15 1.15 0 1 0 2.3 0a1.15 1.15 0 1 0 -2.3 0M587.8 475.7a1.15 1.15 0 1 0 2.3 0a1.15 1.15 0 1 0 -2.3 0M585.5 478.2a1.15 1.15 0 1 0 2.3 0a1.15 1.15 0 1 0 -2.3 0M583.2 480.7a1.15 1.15 0 1 0 2.3 0a1.15 1.15 0 1 0 -2.3 0M581.0 483.3a1.15 1.15 0 1 0 2.3 0a1.15 1.15 0 1 0 -2.3 0M578.7 485.8a1.15 1.15 0 1 0 2.3 0a1.15 1.15 0 1 0 -2.3 0M590.8 475.9a1.15 1.15 0 1 0 2.3 0a1.15 1.15 0 1 0 -2.3 0M588.7 478.6a1.15 1.15 0 1 0 2.3 0a1.15 1.15 0 1 0 -2.3 0M586.6 481.3a1.15 1.15 0 1 0 2.3 0a1.15 1.15 0 1 0 -2.3 0M584.6 484.0a1.15 1.15 0 1 0 2.3 0a1.15 1.15 0 1 0 -2.3 0M582.5 486.7a1.15 1.15 0 1 0 2.3 0a1.15 1.15 0 1 0 -2.3 0M593.7 475.9a1.15 1.15 0 1 0 2.3 0a1.15 1.15 0 1 0 -2.3 0M591.8 478.7a1.15 1.15 0 1 0 2.3 0a1.15 1.15 0 1 0 -2.3 0M590.0 481.6a1.15 1.15 0 1 0 2.3 0a1.15 1.15 0 1 0 -2.3 0M588.1 484.4a1.15 1.15 0 1 0 2.3 0a1.15 1.15 0 1 0 -2.3 0M586.3 487.3a1.15 1.15 0 1 0 2.3 0a1.15 1.15 0 1 0 -2.3 0M584.4 490.1a1.15 1.15 0 1 0 2.3 0a1.15 1.15 0 1 0 -2.3 0M594.8 478.6a1.15 1.15 0 1 0 2.3 0a1.15 1.15 0 1 0 -2.3 0M593.2 481.6a1.15 1.15 0 1 0 2.3 0a1.15 1.15 0 1 0 -2.3 0M591.6 484.5a1.15 1.15 0 1 0 2.3 0a1.15 1.15 0 1 0 -2.3 0M589.9 487.5a1.15 1.15 0 1 0 2.3 0a1.15 1.15 0 1 0 -2.3 0M588.3 490.5a1.15 1.15 0 1 0 2.3 0a1.15 1.15 0 1 0 -2.3 0M597.6 478.1a1.15 1.15 0 1 0 2.3 0a1.15 1.15 0 1 0 -2.3 0M596.2 481.2a1.15 1.15 0 1 0 2.3 0a1.15 1.15 0 1 0 -2.3 0M594.9 484.3a1.15 1.15 0 1 0 2.3 0a1.15 1.15 0 1 0 -2.3 0M593.5 487.4a1.15 1.15 0 1 0 2.3 0a1.15 1.15 0 1 0 -2.3 0M592.2 490.5a1.15 1.15 0 1 0 2.3 0a1.15 1.15 0 1 0 -2.3 0M590.8 493.7a1.15 1.15 0 1 0 2.3 0a1.15 1.15 0 1 0 -2.3 0M599.2 480.5a1.15 1.15 0 1 0 2.3 0a1.15 1.15 0 1 0 -2.3 0M598.1 483.7a1.15 1.15 0 1 0 2.3 0a1.15 1.15 0 1 0 -2.3 0M596.9 486.9a1.15 1.15 0 1 0 2.3 0a1.15 1.15 0 1 0 -2.3 0M595.8 490.1a1.15 1.15 0 1 0 2.3 0a1.15 1.15 0 1 0 -2.3 0M594.7 493.4a1.15 1.15 0 1 0 2.3 0a1.15 1.15 0 1 0 -2.3 0M601.5 479.4a1.15 1.15 0 1 0 2.3 0a1.15 1.15 0 1 0 -2.3 0M600.8 482.7a1.15 1.15 0 1 0 2.3 0a1.15 1.15 0 1 0 -2.3 0M600.1 486.0a1.15 1.15 0 1 0 2.3 0a1.15 1.15 0 1 0 -2.3 0M599.4 489.4a1.15 1.15 0 1 0 2.3 0a1.15 1.15 0 1 0 -2.3 0M598.7 492.7a1.15 1.15 0 1 0 2.3 0a1.15 1.15 0 1 0 -2.3 0M598.0 496.0a1.15 1.15 0 1 0 2.3 0a1.15 1.15 0 1 0 -2.3 0M603.1 481.2a1.15 1.15 0 1 0 2.3 0a1.15 1.15 0 1 0 -2.3 0M602.9 484.6a1.15 1.15 0 1 0 2.3 0a1.15 1.15 0 1 0 -2.3 0M602.7 488.0a1.15 1.15 0 1 0 2.3 0a1.15 1.15 0 1 0 -2.3 0M602.5 491.4a1.15 1.15 0 1 0 2.3 0a1.15 1.15 0 1 0 -2.3 0M602.3 494.8a1.15 1.15 0 1 0 2.3 0a1.15 1.15 0 1 0 -2.3 0M605.2 479.5a1.15 1.15 0 1 0 2.3 0a1.15 1.15 0 1 0 -2.3 0M605.4 482.9a1.15 1.15 0 1 0 2.3 0a1.15 1.15 0 1 0 -2.3 0M605.6 486.3a1.15 1.15 0 1 0 2.3 0a1.15 1.15 0 1 0 -2.3 0M605.7 489.6a1.15 1.15 0 1 0 2.3 0a1.15 1.15 0 1 0 -2.3 0M605.9 493.0a1.15 1.15 0 1 0 2.3 0a1.15 1.15 0 1 0 -2.3 0M606.1 496.4a1.15 1.15 0 1 0 2.3 0a1.15 1.15 0 1 0 -2.3 0M607.7 480.9a1.15 1.15 0 1 0 2.3 0a1.15 1.15 0 1 0 -2.3 0M608.2 484.3a1.15 1.15 0 1 0 2.3 0a1.15 1.15 0 1 0 -2.3 0M608.6 487.7a1.15 1.15 0 1 0 2.3 0a1.15 1.15 0 1 0 -2.3 0M609.0 491.0a1.15 1.15 0 1 0 2.3 0a1.15 1.15 0 1 0 -2.3 0M609.4 494.4a1.15 1.15 0 1 0 2.3 0a1.15 1.15 0 1 0 -2.3 0M610.1 478.9a1.15 1.15 0 1 0 2.3 0a1.15 1.15 0 1 0 -2.3 0M610.7 482.2a1.15 1.15 0 1 0 2.3 0a1.15 1.15 0 1 0 -2.3 0M611.2 485.6a1.15 1.15 0 1 0 2.3 0a1.15 1.15 0 1 0 -2.3 0M611.8 488.9a1.15 1.15 0 1 0 2.3 0a1.15 1.15 0 1 0 -2.3 0M612.3 492.3a1.15 1.15 0 1 0 2.3 0a1.15 1.15 0 1 0 -2.3 0M612.9 495.6a1.15 1.15 0 1 0 2.3 0a1.15 1.15 0 1 0 -2.3 0M613.2 480.1a1.15 1.15 0 1 0 2.3 0a1.15 1.15 0 1 0 -2.3 0M613.8 483.4a1.15 1.15 0 1 0 2.3 0a1.15 1.15 0 1 0 -2.3 0M614.4 486.8a1.15 1.15 0 1 0 2.3 0a1.15 1.15 0 1 0 -2.3 0M615.0 490.1a1.15 1.15 0 1 0 2.3 0a1.15 1.15 0 1 0 -2.3 0M615.6 493.4a1.15 1.15 0 1 0 2.3 0a1.15 1.15 0 1 0 -2.3 0M615.9 477.9a1.15 1.15 0 1 0 2.3 0a1.15 1.15 0 1 0 -2.3 0M616.5 481.2a1.15 1.15 0 1 0 2.3 0a1.15 1.15 0 1 0 -2.3 0M617.0 484.6a1.15 1.15 0 1 0 2.3 0a1.15 1.15 0 1 0 -2.3 0M617.6 487.9a1.15 1.15 0 1 0 2.3 0a1.15 1.15 0 1 0 -2.3 0M618.1 491.3a1.15 1.15 0 1 0 2.3 0a1.15 1.15 0 1 0 -2.3 0M618.7 494.6a1.15 1.15 0 1 0 2.3 0a1.15 1.15 0 1 0 -2.3 0M619.1 479.1a1.15 1.15 0 1 0 2.3 0a1.15 1.15 0 1 0 -2.3 0M619.6 482.4a1.15 1.15 0 1 0 2.3 0a1.15 1.15 0 1 0 -2.3 0M620.2 485.8a1.15 1.15 0 1 0 2.3 0a1.15 1.15 0 1 0 -2.3 0M620.8 489.1a1.15 1.15 0 1 0 2.3 0a1.15 1.15 0 1 0 -2.3 0M621.3 492.5a1.15 1.15 0 1 0 2.3 0a1.15 1.15 0 1 0 -2.3 0M621.2 476.9a1.15 1.15 0 1 0 2.3 0a1.15 1.15 0 1 0 -2.3 0M622.0 480.2a1.15 1.15 0 1 0 2.3 0a1.15 1.15 0 1 0 -2.3 0M622.7 483.6a1.15 1.15 0 1 0 2.3 0a1.15 1.15 0 1 0 -2.3 0M623.5 486.9a1.15 1.15 0 1 0 2.3 0a1.15 1.15 0 1 0 -2.3 0M624.2 490.2a1.15 1.15 0 1 0 2.3 0a1.15 1.15 0 1 0 -2.3 0M625.0 493.5a1.15 1.15 0 1 0 2.3 0a1.15 1.15 0 1 0 -2.3 0M624.2 478.0a1.15 1.15 0 1 0 2.3 0a1.15 1.15 0 1 0 -2.3 0M625.1 481.2a1.15 1.15 0 1 0 2.3 0a1.15 1.15 0 1 0 -2.3 0M625.9 484.5a1.15 1.15 0 1 0 2.3 0a1.15 1.15 0 1 0 -2.3 0M626.8 487.8a1.15 1.15 0 1 0 2.3 0a1.15 1.15 0 1 0 -2.3 0M627.7 491.1a1.15 1.15 0 1 0 2.3 0a1.15 1.15 0 1 0 -2.3 0M626.6 475.6a1.15 1.15 0 1 0 2.3 0a1.15 1.15 0 1 0 -2.3 0M627.5 478.8a1.15 1.15 0 1 0 2.3 0a1.15 1.15 0 1 0 -2.3 0M628.3 482.1a1.15 1.15 0 1 0 2.3 0a1.15 1.15 0 1 0 -2.3 0M629.2 485.4a1.15 1.15 0 1 0 2.3 0a1.15 1.15 0 1 0 -2.3 0M630.1 488.7a1.15 1.15 0 1 0 2.3 0a1.15 1.15 0 1 0 -2.3 0M631.0 492.0a1.15 1.15 0 1 0 2.3 0a1.15 1.15 0 1 0 -2.3 0M630.0 476.4a1.15 1.15 0 1 0 2.3 0a1.15 1.15 0 1 0 -2.3 0M630.8 479.7a1.15 1.15 0 1 0 2.3 0a1.15 1.15 0 1 0 -2.3 0M631.6 483.0a1.15 1.15 0 1 0 2.3 0a1.15 1.15 0 1 0 -2.3 0M632.5 486.3a1.15 1.15 0 1 0 2.3 0a1.15 1.15 0 1 0 -2.3 0M633.3 489.6a1.15 1.15 0 1 0 2.3 0a1.15 1.15 0 1 0 -2.3 0M632.7 474.1a1.15 1.15 0 1 0 2.3 0a1.15 1.15 0 1 0 -2.3 0M633.4 477.4a1.15 1.15 0 1 0 2.3 0a1.15 1.15 0 1 0 -2.3 0M634.1 480.7a1.15 1.15 0 1 0 2.3 0a1.15 1.15 0 1 0 -2.3 0M634.9 484.0a1.15 1.15 0 1 0 2.3 0a1.15 1.15 0 1 0 -2.3 0M635.6 487.3a1.15 1.15 0 1 0 2.3 0a1.15 1.15 0 1 0 -2.3 0M636.3 490.7a1.15 1.15 0 1 0 2.3 0a1.15 1.15 0 1 0 -2.3 0M635.8 475.1a1.15 1.15 0 1 0 2.3 0a1.15 1.15 0 1 0 -2.3 0M636.6 478.4a1.15 1.15 0 1 0 2.3 0a1.15 1.15 0 1 0 -2.3 0M637.4 481.7a1.15 1.15 0 1 0 2.3 0a1.15 1.15 0 1 0 -2.3 0M638.2 485.0a1.15 1.15 0 1 0 2.3 0a1.15 1.15 0 1 0 -2.3 0M639.0 488.3a1.15 1.15 0 1 0 2.3 0a1.15 1.15 0 1 0 -2.3 0M638.3 472.7a1.15 1.15 0 1 0 2.3 0a1.15 1.15 0 1 0 -2.3 0M639.0 476.0a1.15 1.15 0 1 0 2.3 0a1.15 1.15 0 1 0 -2.3 0M639.8 479.3a1.15 1.15 0 1 0 2.3 0a1.15 1.15 0 1 0 -2.3 0M640.6 482.6a1.15 1.15 0 1 0 2.3 0a1.15 1.15 0 1 0 -2.3 0M641.4 485.9a1.15 1.15 0 1 0 2.3 0a1.15 1.15 0 1 0 -2.3 0M642.2 489.2a1.15 1.15 0 1 0 2.3 0a1.15 1.15 0 1 0 -2.3 0M641.7 473.7a1.15 1.15 0 1 0 2.3 0a1.15 1.15 0 1 0 -2.3 0M642.4 477.0a1.15 1.15 0 1 0 2.3 0a1.15 1.15 0 1 0 -2.3 0M643.1 480.3a1.15 1.15 0 1 0 2.3 0a1.15 1.15 0 1 0 -2.3 0M643.8 483.7a1.15 1.15 0 1 0 2.3 0a1.15 1.15 0 1 0 -2.3 0M644.5 487.0a1.15 1.15 0 1 0 2.3 0a1.15 1.15 0 1 0 -2.3 0M644.8 471.4a1.15 1.15 0 1 0 2.3 0a1.15 1.15 0 1 0 -2.3 0M645.3 474.8a1.15 1.15 0 1 0 2.3 0a1.15 1.15 0 1 0 -2.3 0M645.8 478.1a1.15 1.15 0 1 0 2.3 0a1.15 1.15 0 1 0 -2.3 0M646.2 481.5a1.15 1.15 0 1 0 2.3 0a1.15 1.15 0 1 0 -2.3 0M646.7 484.9a1.15 1.15 0 1 0 2.3 0a1.15 1.15 0 1 0 -2.3 0M647.2 488.2a1.15 1.15 0 1 0 2.3 0a1.15 1.15 0 1 0 -2.3 0M648.5 472.7a1.15 1.15 0 1 0 2.3 0a1.15 1.15 0 1 0 -2.3 0M648.7 476.1a1.15 1.15 0 1 0 2.3 0a1.15 1.15 0 1 0 -2.3 0M648.9 479.5a1.15 1.15 0 1 0 2.3 0a1.15 1.15 0 1 0 -2.3 0M649.2 482.9a1.15 1.15 0 1 0 2.3 0a1.15 1.15 0 1 0 -2.3 0M649.4 486.3a1.15 1.15 0 1 0 2.3 0a1.15 1.15 0 1 0 -2.3 0M651.4 470.8a1.15 1.15 0 1 0 2.3 0a1.15 1.15 0 1 0 -2.3 0M651.6 474.2a1.15 1.15 0 1 0 2.3 0a1.15 1.15 0 1 0 -2.3 0M651.8 477.6a1.15 1.15 0 1 0 2.3 0a1.15 1.15 0 1 0 -2.3 0M652.0 481.0a1.15 1.15 0 1 0 2.3 0a1.15 1.15 0 1 0 -2.3 0M652.1 484.4a1.15 1.15 0 1 0 2.3 0a1.15 1.15 0 1 0 -2.3 0M652.3 487.8a1.15 1.15 0 1 0 2.3 0a1.15 1.15 0 1 0 -2.3 0M654.8 472.4a1.15 1.15 0 1 0 2.3 0a1.15 1.15 0 1 0 -2.3 0M654.8 475.8a1.15 1.15 0 1 0 2.3 0a1.15 1.15 0 1 0 -2.3 0M654.8 479.2a1.15 1.15 0 1 0 2.3 0a1.15 1.15 0 1 0 -2.3 0M654.8 482.6a1.15 1.15 0 1 0 2.3 0a1.15 1.15 0 1 0 -2.3 0M654.8 486.0a1.15 1.15 0 1 0 2.3 0a1.15 1.15 0 1 0 -2.3 0M658.5 470.8a1.15 1.15 0 1 0 2.3 0a1.15 1.15 0 1 0 -2.3 0M658.2 474.2a1.15 1.15 0 1 0 2.3 0a1.15 1.15 0 1 0 -2.3 0M657.9 477.6a1.15 1.15 0 1 0 2.3 0a1.15 1.15 0 1 0 -2.3 0M657.6 481.0a1.15 1.15 0 1 0 2.3 0a1.15 1.15 0 1 0 -2.3 0M657.3 484.4a1.15 1.15 0 1 0 2.3 0a1.15 1.15 0 1 0 -2.3 0M657.0 487.8a1.15 1.15 0 1 0 2.3 0a1.15 1.15 0 1 0 -2.3 0M661.8 473.0a1.15 1.15 0 1 0 2.3 0a1.15 1.15 0 1 0 -2.3 0M661.3 476.3a1.15 1.15 0 1 0 2.3 0a1.15 1.15 0 1 0 -2.3 0M660.7 479.7a1.15 1.15 0 1 0 2.3 0a1.15 1.15 0 1 0 -2.3 0M660.1 483.0a1.15 1.15 0 1 0 2.3 0a1.15 1.15 0 1 0 -2.3 0M659.5 486.4a1.15 1.15 0 1 0 2.3 0a1.15 1.15 0 1 0 -2.3 0M666.0 472.3a1.15 1.15 0 1 0 2.3 0a1.15 1.15 0 1 0 -2.3 0M665.0 475.5a1.15 1.15 0 1 0 2.3 0a1.15 1.15 0 1 0 -2.3 0M664.0 478.8a1.15 1.15 0 1 0 2.3 0a1.15 1.15 0 1 0 -2.3 0M663.0 482.0a1.15 1.15 0 1 0 2.3 0a1.15 1.15 0 1 0 -2.3 0M662.0 485.3a1.15 1.15 0 1 0 2.3 0a1.15 1.15 0 1 0 -2.3 0M661.0 488.5a1.15 1.15 0 1 0 2.3 0a1.15 1.15 0 1 0 -2.3 0M668.6 475.0a1.15 1.15 0 1 0 2.3 0a1.15 1.15 0 1 0 -2.3 0M667.5 478.2a1.15 1.15 0 1 0 2.3 0a1.15 1.15 0 1 0 -2.3 0M666.3 481.4a1.15 1.15 0 1 0 2.3 0a1.15 1.15 0 1 0 -2.3 0M665.1 484.6a1.15 1.15 0 1 0 2.3 0a1.15 1.15 0 1 0 -2.3 0M664.0 487.7a1.15 1.15 0 1 0 2.3 0a1.15 1.15 0 1 0 -2.3 0M672.3 474.6a1.15 1.15 0 1 0 2.3 0a1.15 1.15 0 1 0 -2.3 0M671.0 477.8a1.15 1.15 0 1 0 2.3 0a1.15 1.15 0 1 0 -2.3 0M669.7 480.9a1.15 1.15 0 1 0 2.3 0a1.15 1.15 0 1 0 -2.3 0M668.4 484.0a1.15 1.15 0 1 0 2.3 0a1.15 1.15 0 1 0 -2.3 0M667.1 487.2a1.15 1.15 0 1 0 2.3 0a1.15 1.15 0 1 0 -2.3 0M665.8 490.3a1.15 1.15 0 1 0 2.3 0a1.15 1.15 0 1 0 -2.3 0M674.7 477.6a1.15 1.15 0 1 0 2.3 0a1.15 1.15 0 1 0 -2.3 0M673.2 480.6a1.15 1.15 0 1 0 2.3 0a1.15 1.15 0 1 0 -2.3 0M671.7 483.7a1.15 1.15 0 1 0 2.3 0a1.15 1.15 0 1 0 -2.3 0M670.2 486.7a1.15 1.15 0 1 0 2.3 0a1.15 1.15 0 1 0 -2.3 0M668.8 489.8a1.15 1.15 0 1 0 2.3 0a1.15 1.15 0 1 0 -2.3 0M678.5 477.6a1.15 1.15 0 1 0 2.3 0a1.15 1.15 0 1 0 -2.3 0M676.8 480.6a1.15 1.15 0 1 0 2.3 0a1.15 1.15 0 1 0 -2.3 0M675.2 483.6a1.15 1.15 0 1 0 2.3 0a1.15 1.15 0 1 0 -2.3 0M673.5 486.5a1.15 1.15 0 1 0 2.3 0a1.15 1.15 0 1 0 -2.3 0M671.8 489.5a1.15 1.15 0 1 0 2.3 0a1.15 1.15 0 1 0 -2.3 0M670.1 492.5a1.15 1.15 0 1 0 2.3 0a1.15 1.15 0 1 0 -2.3 0M680.6 481.0a1.15 1.15 0 1 0 2.3 0a1.15 1.15 0 1 0 -2.3 0M678.7 483.8a1.15 1.15 0 1 0 2.3 0a1.15 1.15 0 1 0 -2.3 0M676.8 486.6a1.15 1.15 0 1 0 2.3 0a1.15 1.15 0 1 0 -2.3 0M674.9 489.4a1.15 1.15 0 1 0 2.3 0a1.15 1.15 0 1 0 -2.3 0M673.0 492.2a1.15 1.15 0 1 0 2.3 0a1.15 1.15 0 1 0 -2.3 0M684.7 481.9a1.15 1.15 0 1 0 2.3 0a1.15 1.15 0 1 0 -2.3 0M682.5 484.5a1.15 1.15 0 1 0 2.3 0a1.15 1.15 0 1 0 -2.3 0M680.3 487.1a1.15 1.15 0 1 0 2.3 0a1.15 1.15 0 1 0 -2.3 0M678.1 489.7a1.15 1.15 0 1 0 2.3 0a1.15 1.15 0 1 0 -2.3 0M675.8 492.3a1.15 1.15 0 1 0 2.3 0a1.15 1.15 0 1 0 -2.3 0M673.6 494.8a1.15 1.15 0 1 0 2.3 0a1.15 1.15 0 1 0 -2.3 0M686.4 486.0a1.15 1.15 0 1 0 2.3 0a1.15 1.15 0 1 0 -2.3 0M683.8 488.2a1.15 1.15 0 1 0 2.3 0a1.15 1.15 0 1 0 -2.3 0M681.2 490.5a1.15 1.15 0 1 0 2.3 0a1.15 1.15 0 1 0 -2.3 0M678.7 492.7a1.15 1.15 0 1 0 2.3 0a1.15 1.15 0 1 0 -2.3 0M676.1 494.9a1.15 1.15 0 1 0 2.3 0a1.15 1.15 0 1 0 -2.3 0M690.0 487.9a1.15 1.15 0 1 0 2.3 0a1.15 1.15 0 1 0 -2.3 0M687.2 489.9a1.15 1.15 0 1 0 2.3 0a1.15 1.15 0 1 0 -2.3 0M684.4 491.8a1.15 1.15 0 1 0 2.3 0a1.15 1.15 0 1 0 -2.3 0M681.6 493.8a1.15 1.15 0 1 0 2.3 0a1.15 1.15 0 1 0 -2.3 0M678.9 495.7a1.15 1.15 0 1 0 2.3 0a1.15 1.15 0 1 0 -2.3 0M676.1 497.7a1.15 1.15 0 1 0 2.3 0a1.15 1.15 0 1 0 -2.3 0M690.6 492.2a1.15 1.15 0 1 0 2.3 0a1.15 1.15 0 1 0 -2.3 0M687.6 493.7a1.15 1.15 0 1 0 2.3 0a1.15 1.15 0 1 0 -2.3 0M684.6 495.3a1.15 1.15 0 1 0 2.3 0a1.15 1.15 0 1 0 -2.3 0M681.6 496.9a1.15 1.15 0 1 0 2.3 0a1.15 1.15 0 1 0 -2.3 0M678.5 498.4a1.15 1.15 0 1 0 2.3 0a1.15 1.15 0 1 0 -2.3 0M693.7 494.8a1.15 1.15 0 1 0 2.3 0a1.15 1.15 0 1 0 -2.3 0M690.6 496.1a1.15 1.15 0 1 0 2.3 0a1.15 1.15 0 1 0 -2.3 0M687.4 497.3a1.15 1.15 0 1 0 2.3 0a1.15 1.15 0 1 0 -2.3 0M684.3 498.6a1.15 1.15 0 1 0 2.3 0a1.15 1.15 0 1 0 -2.3 0M681.1 499.9a1.15 1.15 0 1 0 2.3 0a1.15 1.15 0 1 0 -2.3 0M677.9 501.1a1.15 1.15 0 1 0 2.3 0a1.15 1.15 0 1 0 -2.3 0M693.4 498.9a1.15 1.15 0 1 0 2.3 0a1.15 1.15 0 1 0 -2.3 0M690.1 499.8a1.15 1.15 0 1 0 2.3 0a1.15 1.15 0 1 0 -2.3 0M686.8 500.7a1.15 1.15 0 1 0 2.3 0a1.15 1.15 0 1 0 -2.3 0M683.5 501.7a1.15 1.15 0 1 0 2.3 0a1.15 1.15 0 1 0 -2.3 0M680.3 502.6a1.15 1.15 0 1 0 2.3 0a1.15 1.15 0 1 0 -2.3 0M695.9 502.2a1.15 1.15 0 1 0 2.3 0a1.15 1.15 0 1 0 -2.3 0M692.5 502.7a1.15 1.15 0 1 0 2.3 0a1.15 1.15 0 1 0 -2.3 0M689.2 503.3a1.15 1.15 0 1 0 2.3 0a1.15 1.15 0 1 0 -2.3 0M685.8 503.9a1.15 1.15 0 1 0 2.3 0a1.15 1.15 0 1 0 -2.3 0M682.5 504.5a1.15 1.15 0 1 0 2.3 0a1.15 1.15 0 1 0 -2.3 0M679.1 505.0a1.15 1.15 0 1 0 2.3 0a1.15 1.15 0 1 0 -2.3 0M694.6 506.2a1.15 1.15 0 1 0 2.3 0a1.15 1.15 0 1 0 -2.3 0M691.2 506.4a1.15 1.15 0 1 0 2.3 0a1.15 1.15 0 1 0 -2.3 0M687.8 506.5a1.15 1.15 0 1 0 2.3 0a1.15 1.15 0 1 0 -2.3 0M684.4 506.7a1.15 1.15 0 1 0 2.3 0a1.15 1.15 0 1 0 -2.3 0M681.0 506.9a1.15 1.15 0 1 0 2.3 0a1.15 1.15 0 1 0 -2.3 0M696.3 510.1a1.15 1.15 0 1 0 2.3 0a1.15 1.15 0 1 0 -2.3 0M692.9 509.8a1.15 1.15 0 1 0 2.3 0a1.15 1.15 0 1 0 -2.3 0M689.5 509.6a1.15 1.15 0 1 0 2.3 0a1.15 1.15 0 1 0 -2.3 0M686.1 509.3a1.15 1.15 0 1 0 2.3 0a1.15 1.15 0 1 0 -2.3 0M682.7 509.1a1.15 1.15 0 1 0 2.3 0a1.15 1.15 0 1 0 -2.3 0M679.3 508.9a1.15 1.15 0 1 0 2.3 0a1.15 1.15 0 1 0 -2.3 0M694.1 513.5a1.15 1.15 0 1 0 2.3 0a1.15 1.15 0 1 0 -2.3 0M690.8 513.0a1.15 1.15 0 1 0 2.3 0a1.15 1.15 0 1 0 -2.3 0M687.4 512.4a1.15 1.15 0 1 0 2.3 0a1.15 1.15 0 1 0 -2.3 0M684.1 511.8a1.15 1.15 0 1 0 2.3 0a1.15 1.15 0 1 0 -2.3 0M680.7 511.3a1.15 1.15 0 1 0 2.3 0a1.15 1.15 0 1 0 -2.3 0M695.1 517.4a1.15 1.15 0 1 0 2.3 0a1.15 1.15 0 1 0 -2.3 0M691.8 516.5a1.15 1.15 0 1 0 2.3 0a1.15 1.15 0 1 0 -2.3 0M688.5 515.7a1.15 1.15 0 1 0 2.3 0a1.15 1.15 0 1 0 -2.3 0M685.2 514.8a1.15 1.15 0 1 0 2.3 0a1.15 1.15 0 1 0 -2.3 0M681.9 514.0a1.15 1.15 0 1 0 2.3 0a1.15 1.15 0 1 0 -2.3 0M678.6 513.2a1.15 1.15 0 1 0 2.3 0a1.15 1.15 0 1 0 -2.3 0M692.5 520.1a1.15 1.15 0 1 0 2.3 0a1.15 1.15 0 1 0 -2.3 0M689.3 519.1a1.15 1.15 0 1 0 2.3 0a1.15 1.15 0 1 0 -2.3 0M686.0 518.1a1.15 1.15 0 1 0 2.3 0a1.15 1.15 0 1 0 -2.3 0M682.8 517.1a1.15 1.15 0 1 0 2.3 0a1.15 1.15 0 1 0 -2.3 0M679.5 516.1a1.15 1.15 0 1 0 2.3 0a1.15 1.15 0 1 0 -2.3 0M692.9 524.1a1.15 1.15 0 1 0 2.3 0a1.15 1.15 0 1 0 -2.3 0M689.8 522.8a1.15 1.15 0 1 0 2.3 0a1.15 1.15 0 1 0 -2.3 0M686.6 521.5a1.15 1.15 0 1 0 2.3 0a1.15 1.15 0 1 0 -2.3 0M683.5 520.2a1.15 1.15 0 1 0 2.3 0a1.15 1.15 0 1 0 -2.3 0M680.3 519.0a1.15 1.15 0 1 0 2.3 0a1.15 1.15 0 1 0 -2.3 0M677.2 517.7a1.15 1.15 0 1 0 2.3 0a1.15 1.15 0 1 0 -2.3 0M689.9 526.7a1.15 1.15 0 1 0 2.3 0a1.15 1.15 0 1 0 -2.3 0M686.9 525.1a1.15 1.15 0 1 0 2.3 0a1.15 1.15 0 1 0 -2.3 0M683.8 523.6a1.15 1.15 0 1 0 2.3 0a1.15 1.15 0 1 0 -2.3 0M680.8 522.0a1.15 1.15 0 1 0 2.3 0a1.15 1.15 0 1 0 -2.3 0M677.8 520.5a1.15 1.15 0 1 0 2.3 0a1.15 1.15 0 1 0 -2.3 0M689.7 530.5a1.15 1.15 0 1 0 2.3 0a1.15 1.15 0 1 0 -2.3 0M686.8 528.8a1.15 1.15 0 1 0 2.3 0a1.15 1.15 0 1 0 -2.3 0M683.9 527.0a1.15 1.15 0 1 0 2.3 0a1.15 1.15 0 1 0 -2.3 0M681.0 525.3a1.15 1.15 0 1 0 2.3 0a1.15 1.15 0 1 0 -2.3 0M678.0 523.5a1.15 1.15 0 1 0 2.3 0a1.15 1.15 0 1 0 -2.3 0M675.1 521.7a1.15 1.15 0 1 0 2.3 0a1.15 1.15 0 1 0 -2.3 0M686.2 532.6a1.15 1.15 0 1 0 2.3 0a1.15 1.15 0 1 0 -2.3 0M683.5 530.6a1.15 1.15 0 1 0 2.3 0a1.15 1.15 0 1 0 -2.3 0M680.7 528.5a1.15 1.15 0 1 0 2.3 0a1.15 1.15 0 1 0 -2.3 0M678.0 526.5a1.15 1.15 0 1 0 2.3 0a1.15 1.15 0 1 0 -2.3 0M675.3 524.5a1.15 1.15 0 1 0 2.3 0a1.15 1.15 0 1 0 -2.3 0M685.2 536.4a1.15 1.15 0 1 0 2.3 0a1.15 1.15 0 1 0 -2.3 0M682.7 534.2a1.15 1.15 0 1 0 2.3 0a1.15 1.15 0 1 0 -2.3 0M680.1 531.9a1.15 1.15 0 1 0 2.3 0a1.15 1.15 0 1 0 -2.3 0M677.6 529.7a1.15 1.15 0 1 0 2.3 0a1.15 1.15 0 1 0 -2.3 0M675.0 527.4a1.15 1.15 0 1 0 2.3 0a1.15 1.15 0 1 0 -2.3 0M672.5 525.2a1.15 1.15 0 1 0 2.3 0a1.15 1.15 0 1 0 -2.3 0M681.5 537.8a1.15 1.15 0 1 0 2.3 0a1.15 1.15 0 1 0 -2.3 0M679.1 535.4a1.15 1.15 0 1 0 2.3 0a1.15 1.15 0 1 0 -2.3 0M676.8 532.9a1.15 1.15 0 1 0 2.3 0a1.15 1.15 0 1 0 -2.3 0M674.5 530.5a1.15 1.15 0 1 0 2.3 0a1.15 1.15 0 1 0 -2.3 0M672.1 528.0a1.15 1.15 0 1 0 2.3 0a1.15 1.15 0 1 0 -2.3 0M679.7 541.6a1.15 1.15 0 1 0 2.3 0a1.15 1.15 0 1 0 -2.3 0M677.7 538.9a1.15 1.15 0 1 0 2.3 0a1.15 1.15 0 1 0 -2.3 0M675.6 536.2a1.15 1.15 0 1 0 2.3 0a1.15 1.15 0 1 0 -2.3 0M673.5 533.5a1.15 1.15 0 1 0 2.3 0a1.15 1.15 0 1 0 -2.3 0M671.4 530.8a1.15 1.15 0 1 0 2.3 0a1.15 1.15 0 1 0 -2.3 0M669.4 528.1a1.15 1.15 0 1 0 2.3 0a1.15 1.15 0 1 0 -2.3 0M675.6 542.3a1.15 1.15 0 1 0 2.3 0a1.15 1.15 0 1 0 -2.3 0M673.9 539.4a1.15 1.15 0 1 0 2.3 0a1.15 1.15 0 1 0 -2.3 0M672.1 536.5a1.15 1.15 0 1 0 2.3 0a1.15 1.15 0 1 0 -2.3 0M670.4 533.6a1.15 1.15 0 1 0 2.3 0a1.15 1.15 0 1 0 -2.3 0M668.7 530.6a1.15 1.15 0 1 0 2.3 0a1.15 1.15 0 1 0 -2.3 0M672.8 545.7a1.15 1.15 0 1 0 2.3 0a1.15 1.15 0 1 0 -2.3 0M671.5 542.5a1.15 1.15 0 1 0 2.3 0a1.15 1.15 0 1 0 -2.3 0M670.2 539.4a1.15 1.15 0 1 0 2.3 0a1.15 1.15 0 1 0 -2.3 0M668.9 536.3a1.15 1.15 0 1 0 2.3 0a1.15 1.15 0 1 0 -2.3 0M667.6 533.1a1.15 1.15 0 1 0 2.3 0a1.15 1.15 0 1 0 -2.3 0M666.3 530.0a1.15 1.15 0 1 0 2.3 0a1.15 1.15 0 1 0 -2.3 0M668.3 545.4a1.15 1.15 0 1 0 2.3 0a1.15 1.15 0 1 0 -2.3 0M667.5 542.1a1.15 1.15 0 1 0 2.3 0a1.15 1.15 0 1 0 -2.3 0M666.7 538.8a1.15 1.15 0 1 0 2.3 0a1.15 1.15 0 1 0 -2.3 0M666.0 535.5a1.15 1.15 0 1 0 2.3 0a1.15 1.15 0 1 0 -2.3 0M665.2 532.2a1.15 1.15 0 1 0 2.3 0a1.15 1.15 0 1 0 -2.3 0M664.8 547.7a1.15 1.15 0 1 0 2.3 0a1.15 1.15 0 1 0 -2.3 0M664.4 544.4a1.15 1.15 0 1 0 2.3 0a1.15 1.15 0 1 0 -2.3 0M664.0 541.0a1.15 1.15 0 1 0 2.3 0a1.15 1.15 0 1 0 -2.3 0M663.6 537.6a1.15 1.15 0 1 0 2.3 0a1.15 1.15 0 1 0 -2.3 0M663.3 534.2a1.15 1.15 0 1 0 2.3 0a1.15 1.15 0 1 0 -2.3 0M662.9 530.8a1.15 1.15 0 1 0 2.3 0a1.15 1.15 0 1 0 -2.3 0M660.7 546.1a1.15 1.15 0 1 0 2.3 0a1.15 1.15 0 1 0 -2.3 0M660.8 542.7a1.15 1.15 0 1 0 2.3 0a1.15 1.15 0 1 0 -2.3 0M660.9 539.3a1.15 1.15 0 1 0 2.3 0a1.15 1.15 0 1 0 -2.3 0M661.0 536.0a1.15 1.15 0 1 0 2.3 0a1.15 1.15 0 1 0 -2.3 0M661.1 532.6a1.15 1.15 0 1 0 2.3 0a1.15 1.15 0 1 0 -2.3 0M656.9 547.6a1.15 1.15 0 1 0 2.3 0a1.15 1.15 0 1 0 -2.3 0M657.3 544.2a1.15 1.15 0 1 0 2.3 0a1.15 1.15 0 1 0 -2.3 0M657.7 540.8a1.15 1.15 0 1 0 2.3 0a1.15 1.15 0 1 0 -2.3 0M658.2 537.4a1.15 1.15 0 1 0 2.3 0a1.15 1.15 0 1 0 -2.3 0M658.6 534.1a1.15 1.15 0 1 0 2.3 0a1.15 1.15 0 1 0 -2.3 0M659.0 530.7a1.15 1.15 0 1 0 2.3 0a1.15 1.15 0 1 0 -2.3 0M653.8 545.4a1.15 1.15 0 1 0 2.3 0a1.15 1.15 0 1 0 -2.3 0M654.4 542.0a1.15 1.15 0 1 0 2.3 0a1.15 1.15 0 1 0 -2.3 0M655.0 538.7a1.15 1.15 0 1 0 2.3 0a1.15 1.15 0 1 0 -2.3 0M655.7 535.3a1.15 1.15 0 1 0 2.3 0a1.15 1.15 0 1 0 -2.3 0M656.3 532.0a1.15 1.15 0 1 0 2.3 0a1.15 1.15 0 1 0 -2.3 0M650.3 546.4a1.15 1.15 0 1 0 2.3 0a1.15 1.15 0 1 0 -2.3 0M651.0 543.1a1.15 1.15 0 1 0 2.3 0a1.15 1.15 0 1 0 -2.3 0M651.8 539.7a1.15 1.15 0 1 0 2.3 0a1.15 1.15 0 1 0 -2.3 0M652.5 536.4a1.15 1.15 0 1 0 2.3 0a1.15 1.15 0 1 0 -2.3 0M653.3 533.1a1.15 1.15 0 1 0 2.3 0a1.15 1.15 0 1 0 -2.3 0M654.0 529.8a1.15 1.15 0 1 0 2.3 0a1.15 1.15 0 1 0 -2.3 0M647.6 543.9a1.15 1.15 0 1 0 2.3 0a1.15 1.15 0 1 0 -2.3 0M648.4 540.7a1.15 1.15 0 1 0 2.3 0a1.15 1.15 0 1 0 -2.3 0M649.3 537.4a1.15 1.15 0 1 0 2.3 0a1.15 1.15 0 1 0 -2.3 0M650.2 534.1a1.15 1.15 0 1 0 2.3 0a1.15 1.15 0 1 0 -2.3 0M651.1 530.8a1.15 1.15 0 1 0 2.3 0a1.15 1.15 0 1 0 -2.3 0M643.9 544.7a1.15 1.15 0 1 0 2.3 0a1.15 1.15 0 1 0 -2.3 0M645.0 541.4a1.15 1.15 0 1 0 2.3 0a1.15 1.15 0 1 0 -2.3 0M646.0 538.2a1.15 1.15 0 1 0 2.3 0a1.15 1.15 0 1 0 -2.3 0M647.0 534.9a1.15 1.15 0 1 0 2.3 0a1.15 1.15 0 1 0 -2.3 0M648.0 531.7a1.15 1.15 0 1 0 2.3 0a1.15 1.15 0 1 0 -2.3 0M649.0 528.4a1.15 1.15 0 1 0 2.3 0a1.15 1.15 0 1 0 -2.3 0M641.5 542.1a1.15 1.15 0 1 0 2.3 0a1.15 1.15 0 1 0 -2.3 0M642.6 538.9a1.15 1.15 0 1 0 2.3 0a1.15 1.15 0 1 0 -2.3 0M643.7 535.6a1.15 1.15 0 1 0 2.3 0a1.15 1.15 0 1 0 -2.3 0M644.8 532.4a1.15 1.15 0 1 0 2.3 0a1.15 1.15 0 1 0 -2.3 0M645.9 529.2a1.15 1.15 0 1 0 2.3 0a1.15 1.15 0 1 0 -2.3 0M637.9 542.6a1.15 1.15 0 1 0 2.3 0a1.15 1.15 0 1 0 -2.3 0M639.1 539.4a1.15 1.15 0 1 0 2.3 0a1.15 1.15 0 1 0 -2.3 0M640.3 536.2a1.15 1.15 0 1 0 2.3 0a1.15 1.15 0 1 0 -2.3 0M641.5 533.1a1.15 1.15 0 1 0 2.3 0a1.15 1.15 0 1 0 -2.3 0M642.7 529.9a1.15 1.15 0 1 0 2.3 0a1.15 1.15 0 1 0 -2.3 0M643.9 526.7a1.15 1.15 0 1 0 2.3 0a1.15 1.15 0 1 0 -2.3 0M635.4 539.6a1.15 1.15 0 1 0 2.3 0a1.15 1.15 0 1 0 -2.3 0M636.8 536.6a1.15 1.15 0 1 0 2.3 0a1.15 1.15 0 1 0 -2.3 0M638.2 533.5a1.15 1.15 0 1 0 2.3 0a1.15 1.15 0 1 0 -2.3 0M639.6 530.4a1.15 1.15 0 1 0 2.3 0a1.15 1.15 0 1 0 -2.3 0M641.0 527.3a1.15 1.15 0 1 0 2.3 0a1.15 1.15 0 1 0 -2.3 0M631.5 539.6a1.15 1.15 0 1 0 2.3 0a1.15 1.15 0 1 0 -2.3 0M633.1 536.6a1.15 1.15 0 1 0 2.3 0a1.15 1.15 0 1 0 -2.3 0M634.8 533.6a1.15 1.15 0 1 0 2.3 0a1.15 1.15 0 1 0 -2.3 0M636.4 530.6a1.15 1.15 0 1 0 2.3 0a1.15 1.15 0 1 0 -2.3 0M638.0 527.7a1.15 1.15 0 1 0 2.3 0a1.15 1.15 0 1 0 -2.3 0M639.6 524.7a1.15 1.15 0 1 0 2.3 0a1.15 1.15 0 1 0 -2.3 0M629.6 536.6a1.15 1.15 0 1 0 2.3 0a1.15 1.15 0 1 0 -2.3 0M631.3 533.6a1.15 1.15 0 1 0 2.3 0a1.15 1.15 0 1 0 -2.3 0M633.0 530.7a1.15 1.15 0 1 0 2.3 0a1.15 1.15 0 1 0 -2.3 0M634.7 527.8a1.15 1.15 0 1 0 2.3 0a1.15 1.15 0 1 0 -2.3 0M636.4 524.8a1.15 1.15 0 1 0 2.3 0a1.15 1.15 0 1 0 -2.3 0M626.1 536.5a1.15 1.15 0 1 0 2.3 0a1.15 1.15 0 1 0 -2.3 0M627.8 533.6a1.15 1.15 0 1 0 2.3 0a1.15 1.15 0 1 0 -2.3 0M629.6 530.7a1.15 1.15 0 1 0 2.3 0a1.15 1.15 0 1 0 -2.3 0M631.3 527.8a1.15 1.15 0 1 0 2.3 0a1.15 1.15 0 1 0 -2.3 0M633.1 524.8a1.15 1.15 0 1 0 2.3 0a1.15 1.15 0 1 0 -2.3 0M634.9 521.9a1.15 1.15 0 1 0 2.3 0a1.15 1.15 0 1 0 -2.3 0M624.4 533.5a1.15 1.15 0 1 0 2.3 0a1.15 1.15 0 1 0 -2.3 0M626.2 530.6a1.15 1.15 0 1 0 2.3 0a1.15 1.15 0 1 0 -2.3 0M628.0 527.7a1.15 1.15 0 1 0 2.3 0a1.15 1.15 0 1 0 -2.3 0M629.7 524.8a1.15 1.15 0 1 0 2.3 0a1.15 1.15 0 1 0 -2.3 0M631.5 521.9a1.15 1.15 0 1 0 2.3 0a1.15 1.15 0 1 0 -2.3 0M621.1 533.4a1.15 1.15 0 1 0 2.3 0a1.15 1.15 0 1 0 -2.3 0M622.8 530.5a1.15 1.15 0 1 0 2.3 0a1.15 1.15 0 1 0 -2.3 0M624.6 527.6a1.15 1.15 0 1 0 2.3 0a1.15 1.15 0 1 0 -2.3 0M626.3 524.7a1.15 1.15 0 1 0 2.3 0a1.15 1.15 0 1 0 -2.3 0M628.1 521.8a1.15 1.15 0 1 0 2.3 0a1.15 1.15 0 1 0 -2.3 0M629.8 518.9a1.15 1.15 0 1 0 2.3 0a1.15 1.15 0 1 0 -2.3 0M619.5 530.5a1.15 1.15 0 1 0 2.3 0a1.15 1.15 0 1 0 -2.3 0M621.2 527.6a1.15 1.15 0 1 0 2.3 0a1.15 1.15 0 1 0 -2.3 0M622.9 524.6a1.15 1.15 0 1 0 2.3 0a1.15 1.15 0 1 0 -2.3 0M624.6 521.7a1.15 1.15 0 1 0 2.3 0a1.15 1.15 0 1 0 -2.3 0M626.3 518.8a1.15 1.15 0 1 0 2.3 0a1.15 1.15 0 1 0 -2.3 0M616.3 530.7a1.15 1.15 0 1 0 2.3 0a1.15 1.15 0 1 0 -2.3 0M617.9 527.7a1.15 1.15 0 1 0 2.3 0a1.15 1.15 0 1 0 -2.3 0M619.5 524.7a1.15 1.15 0 1 0 2.3 0a1.15 1.15 0 1 0 -2.3 0M621.1 521.7a1.15 1.15 0 1 0 2.3 0a1.15 1.15 0 1 0 -2.3 0M622.7 518.7a1.15 1.15 0 1 0 2.3 0a1.15 1.15 0 1 0 -2.3 0M624.3 515.7a1.15 1.15 0 1 0 2.3 0a1.15 1.15 0 1 0 -2.3 0M614.9 528.1a1.15 1.15 0 1 0 2.3 0a1.15 1.15 0 1 0 -2.3 0M616.3 525.0a1.15 1.15 0 1 0 2.3 0a1.15 1.15 0 1 0 -2.3 0M617.7 521.9a1.15 1.15 0 1 0 2.3 0a1.15 1.15 0 1 0 -2.3 0M619.1 518.8a1.15 1.15 0 1 0 2.3 0a1.15 1.15 0 1 0 -2.3 0M620.4 515.7a1.15 1.15 0 1 0 2.3 0a1.15 1.15 0 1 0 -2.3 0M612.8 525.3a1.15 1.15 0 1 0 2.3 0a1.15 1.15 0 1 0 -2.3 0M614.3 522.3a1.15 1.15 0 1 0 2.3 0a1.15 1.15 0 1 0 -2.3 0M615.7 519.2a1.15 1.15 0 1 0 2.3 0a1.15 1.15 0 1 0 -2.3 0M617.2 516.1a1.15 1.15 0 1 0 2.3 0a1.15 1.15 0 1 0 -2.3 0M609.6 525.7a1.15 1.15 0 1 0 2.3 0a1.15 1.15 0 1 0 -2.3 0M610.9 522.6a1.15 1.15 0 1 0 2.3 0a1.15 1.15 0 1 0 -2.3 0M612.3 519.5a1.15 1.15 0 1 0 2.3 0a1.15 1.15 0 1 0 -2.3 0M613.7 516.4a1.15 1.15 0 1 0 2.3 0a1.15 1.15 0 1 0 -2.3 0M615.1 513.3a1.15 1.15 0 1 0 2.3 0a1.15 1.15 0 1 0 -2.3 0M608.0 523.2a1.15 1.15 0 1 0 2.3 0a1.15 1.15 0 1 0 -2.3 0M609.1 520.0a1.15 1.15 0 1 0 2.3 0a1.15 1.15 0 1 0 -2.3 0M610.1 516.7a1.15 1.15 0 1 0 2.3 0a1.15 1.15 0 1 0 -2.3 0M611.2 513.5a1.15 1.15 0 1 0 2.3 0a1.15 1.15 0 1 0 -2.3 0M606.0 524.4a1.15 1.15 0 1 0 2.3 0a1.15 1.15 0 1 0 -2.3 0M606.4 521.0a1.15 1.15 0 1 0 2.3 0a1.15 1.15 0 1 0 -2.3 0M606.8 517.6a1.15 1.15 0 1 0 2.3 0a1.15 1.15 0 1 0 -2.3 0M607.1 514.3a1.15 1.15 0 1 0 2.3 0a1.15 1.15 0 1 0 -2.3 0M607.5 510.9a1.15 1.15 0 1 0 2.3 0a1.15 1.15 0 1 0 -2.3 0M604.8 522.8a1.15 1.15 0 1 0 2.3 0a1.15 1.15 0 1 0 -2.3 0M604.2 519.4a1.15 1.15 0 1 0 2.3 0a1.15 1.15 0 1 0 -2.3 0M603.5 516.1a1.15 1.15 0 1 0 2.3 0a1.15 1.15 0 1 0 -2.3 0M602.8 512.7a1.15 1.15 0 1 0 2.3 0a1.15 1.15 0 1 0 -2.3 0M602.6 521.8a1.15 1.15 0 1 0 2.3 0a1.15 1.15 0 1 0 -2.3 0M601.1 518.8a1.15 1.15 0 1 0 2.3 0a1.15 1.15 0 1 0 -2.3 0M599.5 515.7a1.15 1.15 0 1 0 2.3 0a1.15 1.15 0 1 0 -2.3 0M601.5 524.5a1.15 1.15 0 1 0 2.3 0a1.15 1.15 0 1 0 -2.3 0M599.6 521.7a1.15 1.15 0 1 0 2.3 0a1.15 1.15 0 1 0 -2.3 0M597.6 518.9a1.15 1.15 0 1 0 2.3 0a1.15 1.15 0 1 0 -2.3 0M595.6 516.1a1.15 1.15 0 1 0 2.3 0a1.15 1.15 0 1 0 -2.3 0M598.5 524.7a1.15 1.15 0 1 0 2.3 0a1.15 1.15 0 1 0 -2.3 0M596.3 522.1a1.15 1.15 0 1 0 2.3 0a1.15 1.15 0 1 0 -2.3 0M594.0 519.6a1.15 1.15 0 1 0 2.3 0a1.15 1.15 0 1 0 -2.3 0M597.9 527.6a1.15 1.15 0 1 0 2.3 0a1.15 1.15 0 1 0 -2.3 0M595.4 525.3a1.15 1.15 0 1 0 2.3 0a1.15 1.15 0 1 0 -2.3 0M592.9 523.0a1.15 1.15 0 1 0 2.3 0a1.15 1.15 0 1 0 -2.3 0M590.4 520.7a1.15 1.15 0 1 0 2.3 0a1.15 1.15 0 1 0 -2.3 0M595.0 528.4a1.15 1.15 0 1 0 2.3 0a1.15 1.15 0 1 0 -2.3 0M592.2 526.4a1.15 1.15 0 1 0 2.3 0a1.15 1.15 0 1 0 -2.3 0M589.5 524.4a1.15 1.15 0 1 0 2.3 0a1.15 1.15 0 1 0 -2.3 0M595.3 531.1a1.15 1.15 0 1 0 2.3 0a1.15 1.15 0 1 0 -2.3 0M592.2 529.6a1.15 1.15 0 1 0 2.3 0a1.15 1.15 0 1 0 -2.3 0M589.1 528.1a1.15 1.15 0 1 0 2.3 0a1.15 1.15 0 1 0 -2.3 0M586.1 526.7a1.15 1.15 0 1 0 2.3 0a1.15 1.15 0 1 0 -2.3 0M593.1 532.3a1.15 1.15 0 1 0 2.3 0a1.15 1.15 0 1 0 -2.3 0M589.7 531.7a1.15 1.15 0 1 0 2.3 0a1.15 1.15 0 1 0 -2.3 0M586.4 531.0a1.15 1.15 0 1 0 2.3 0a1.15 1.15 0 1 0 -2.3 0M594.7 534.2a1.15 1.15 0 1 0 2.3 0a1.15 1.15 0 1 0 -2.3 0M591.3 534.5a1.15 1.15 0 1 0 2.3 0a1.15 1.15 0 1 0 -2.3 0M587.9 534.7a1.15 1.15 0 1 0 2.3 0a1.15 1.15 0 1 0 -2.3 0M584.6 535.0a1.15 1.15 0 1 0 2.3 0a1.15 1.15 0 1 0 -2.3 0M593.4 536.5a1.15 1.15 0 1 0 2.3 0a1.15 1.15 0 1 0 -2.3 0M590.2 537.5a1.15 1.15 0 1 0 2.3 0a1.15 1.15 0 1 0 -2.3 0M586.9 538.5a1.15 1.15 0 1 0 2.3 0a1.15 1.15 0 1 0 -2.3 0M595.9 538.1a1.15 1.15 0 1 0 2.3 0a1.15 1.15 0 1 0 -2.3 0M592.8 539.5a1.15 1.15 0 1 0 2.3 0a1.15 1.15 0 1 0 -2.3 0M589.7 541.0a1.15 1.15 0 1 0 2.3 0a1.15 1.15 0 1 0 -2.3 0M586.6 542.4a1.15 1.15 0 1 0 2.3 0a1.15 1.15 0 1 0 -2.3 0M598.4 539.3a1.15 1.15 0 1 0 2.3 0a1.15 1.15 0 1 0 -2.3 0M595.5 541.1a1.15 1.15 0 1 0 2.3 0a1.15 1.15 0 1 0 -2.3 0M592.6 542.8a1.15 1.15 0 1 0 2.3 0a1.15 1.15 0 1 0 -2.3 0M589.7 544.6a1.15 1.15 0 1 0 2.3 0a1.15 1.15 0 1 0 -2.3 0M586.8 546.4a1.15 1.15 0 1 0 2.3 0a1.15 1.15 0 1 0 -2.3 0M598.3 542.1a1.15 1.15 0 1 0 2.3 0a1.15 1.15 0 1 0 -2.3 0M595.6 544.2a1.15 1.15 0 1 0 2.3 0a1.15 1.15 0 1 0 -2.3 0M593.0 546.3a1.15 1.15 0 1 0 2.3 0a1.15 1.15 0 1 0 -2.3 0M590.3 548.4a1.15 1.15 0 1 0 2.3 0a1.15 1.15 0 1 0 -2.3 0M601.0 542.5a1.15 1.15 0 1 0 2.3 0a1.15 1.15 0 1 0 -2.3 0M598.7 545.0a1.15 1.15 0 1 0 2.3 0a1.15 1.15 0 1 0 -2.3 0M596.3 547.4a1.15 1.15 0 1 0 2.3 0a1.15 1.15 0 1 0 -2.3 0M593.9 549.9a1.15 1.15 0 1 0 2.3 0a1.15 1.15 0 1 0 -2.3 0M591.5 552.3a1.15 1.15 0 1 0 2.3 0a1.15 1.15 0 1 0 -2.3 0M601.5 545.2a1.15 1.15 0 1 0 2.3 0a1.15 1.15 0 1 0 -2.3 0M599.5 547.9a1.15 1.15 0 1 0 2.3 0a1.15 1.15 0 1 0 -2.3 0M597.6 550.7a1.15 1.15 0 1 0 2.3 0a1.15 1.15 0 1 0 -2.3 0M595.6 553.4a1.15 1.15 0 1 0 2.3 0a1.15 1.15 0 1 0 -2.3 0M604.6 545.2a1.15 1.15 0 1 0 2.3 0a1.15 1.15 0 1 0 -2.3 0M602.8 548.0a1.15 1.15 0 1 0 2.3 0a1.15 1.15 0 1 0 -2.3 0M601.0 550.9a1.15 1.15 0 1 0 2.3 0a1.15 1.15 0 1 0 -2.3 0M599.2 553.8a1.15 1.15 0 1 0 2.3 0a1.15 1.15 0 1 0 -2.3 0M597.4 556.7a1.15 1.15 0 1 0 2.3 0a1.15 1.15 0 1 0 -2.3 0M606.0 547.9a1.15 1.15 0 1 0 2.3 0a1.15 1.15 0 1 0 -2.3 0M604.4 550.9a1.15 1.15 0 1 0 2.3 0a1.15 1.15 0 1 0 -2.3 0M602.8 553.9a1.15 1.15 0 1 0 2.3 0a1.15 1.15 0 1 0 -2.3 0M601.1 556.9a1.15 1.15 0 1 0 2.3 0a1.15 1.15 0 1 0 -2.3 0M609.2 547.7a1.15 1.15 0 1 0 2.3 0a1.15 1.15 0 1 0 -2.3 0M607.7 550.7a1.15 1.15 0 1 0 2.3 0a1.15 1.15 0 1 0 -2.3 0M606.2 553.8a1.15 1.15 0 1 0 2.3 0a1.15 1.15 0 1 0 -2.3 0M604.6 556.8a1.15 1.15 0 1 0 2.3 0a1.15 1.15 0 1 0 -2.3 0M603.1 559.8a1.15 1.15 0 1 0 2.3 0a1.15 1.15 0 1 0 -2.3 0M611.0 550.5a1.15 1.15 0 1 0 2.3 0a1.15 1.15 0 1 0 -2.3 0M609.6 553.5a1.15 1.15 0 1 0 2.3 0a1.15 1.15 0 1 0 -2.3 0M608.1 556.6a1.15 1.15 0 1 0 2.3 0a1.15 1.15 0 1 0 -2.3 0M606.6 559.6a1.15 1.15 0 1 0 2.3 0a1.15 1.15 0 1 0 -2.3 0M614.4 550.2a1.15 1.15 0 1 0 2.3 0a1.15 1.15 0 1 0 -2.3 0M612.9 553.3a1.15 1.15 0 1 0 2.3 0a1.15 1.15 0 1 0 -2.3 0M611.5 556.3a1.15 1.15 0 1 0 2.3 0a1.15 1.15 0 1 0 -2.3 0M610.0 559.4a1.15 1.15 0 1 0 2.3 0a1.15 1.15 0 1 0 -2.3 0M608.5 562.5a1.15 1.15 0 1 0 2.3 0a1.15 1.15 0 1 0 -2.3 0M616.4 553.0a1.15 1.15 0 1 0 2.3 0a1.15 1.15 0 1 0 -2.3 0M614.9 556.1a1.15 1.15 0 1 0 2.3 0a1.15 1.15 0 1 0 -2.3 0M613.4 559.1a1.15 1.15 0 1 0 2.3 0a1.15 1.15 0 1 0 -2.3 0M611.9 562.2a1.15 1.15 0 1 0 2.3 0a1.15 1.15 0 1 0 -2.3 0M619.9 552.9a1.15 1.15 0 1 0 2.3 0a1.15 1.15 0 1 0 -2.3 0M618.3 555.9a1.15 1.15 0 1 0 2.3 0a1.15 1.15 0 1 0 -2.3 0M616.7 558.9a1.15 1.15 0 1 0 2.3 0a1.15 1.15 0 1 0 -2.3 0M615.2 562.0a1.15 1.15 0 1 0 2.3 0a1.15 1.15 0 1 0 -2.3 0M613.6 565.0a1.15 1.15 0 1 0 2.3 0a1.15 1.15 0 1 0 -2.3 0M621.5 555.6a1.15 1.15 0 1 0 2.3 0a1.15 1.15 0 1 0 -2.3 0M620.1 558.7a1.15 1.15 0 1 0 2.3 0a1.15 1.15 0 1 0 -2.3 0M618.7 561.8a1.15 1.15 0 1 0 2.3 0a1.15 1.15 0 1 0 -2.3 0M617.2 564.9a1.15 1.15 0 1 0 2.3 0a1.15 1.15 0 1 0 -2.3 0M623.4 558.3a1.15 1.15 0 1 0 2.3 0a1.15 1.15 0 1 0 -2.3 0M622.1 561.4a1.15 1.15 0 1 0 2.3 0a1.15 1.15 0 1 0 -2.3 0M620.7 564.6a1.15 1.15 0 1 0 2.3 0a1.15 1.15 0 1 0 -2.3 0M626.7 557.8a1.15 1.15 0 1 0 2.3 0a1.15 1.15 0 1 0 -2.3 0M625.4 561.0a1.15 1.15 0 1 0 2.3 0a1.15 1.15 0 1 0 -2.3 0M624.2 564.1a1.15 1.15 0 1 0 2.3 0a1.15 1.15 0 1 0 -2.3 0M622.9 567.3a1.15 1.15 0 1 0 2.3 0a1.15 1.15 0 1 0 -2.3 0M628.8 560.5a1.15 1.15 0 1 0 2.3 0a1.15 1.15 0 1 0 -2.3 0M627.5 563.7a1.15 1.15 0 1 0 2.3 0a1.15 1.15 0 1 0 -2.3 0M626.2 566.8a1.15 1.15 0 1 0 2.3 0a1.15 1.15 0 1 0 -2.3 0M632.3 560.2a1.15 1.15 0 1 0 2.3 0a1.15 1.15 0 1 0 -2.3 0M630.9 563.3a1.15 1.15 0 1 0 2.3 0a1.15 1.15 0 1 0 -2.3 0M629.5 566.4a1.15 1.15 0 1 0 2.3 0a1.15 1.15 0 1 0 -2.3 0M628.2 569.5a1.15 1.15 0 1 0 2.3 0a1.15 1.15 0 1 0 -2.3 0M634.4 563.1a1.15 1.15 0 1 0 2.3 0a1.15 1.15 0 1 0 -2.3 0M632.9 566.1a1.15 1.15 0 1 0 2.3 0a1.15 1.15 0 1 0 -2.3 0M631.3 569.1a1.15 1.15 0 1 0 2.3 0a1.15 1.15 0 1 0 -2.3 0M638.5 563.6a1.15 1.15 0 1 0 2.3 0a1.15 1.15 0 1 0 -2.3 0M636.4 566.3a1.15 1.15 0 1 0 2.3 0a1.15 1.15 0 1 0 -2.3 0M634.4 569.0a1.15 1.15 0 1 0 2.3 0a1.15 1.15 0 1 0 -2.3 0M632.3 571.7a1.15 1.15 0 1 0 2.3 0a1.15 1.15 0 1 0 -2.3 0M640.1 567.5a1.15 1.15 0 1 0 2.3 0a1.15 1.15 0 1 0 -2.3 0M637.5 569.7a1.15 1.15 0 1 0 2.3 0a1.15 1.15 0 1 0 -2.3 0M634.9 571.8a1.15 1.15 0 1 0 2.3 0a1.15 1.15 0 1 0 -2.3 0M643.8 570.2a1.15 1.15 0 1 0 2.3 0a1.15 1.15 0 1 0 -2.3 0M640.6 571.5a1.15 1.15 0 1 0 2.3 0a1.15 1.15 0 1 0 -2.3 0M637.5 572.8a1.15 1.15 0 1 0 2.3 0a1.15 1.15 0 1 0 -2.3 0M634.4 574.1a1.15 1.15 0 1 0 2.3 0a1.15 1.15 0 1 0 -2.3 0M643.1 574.7a1.15 1.15 0 1 0 2.3 0a1.15 1.15 0 1 0 -2.3 0M639.7 575.0a1.15 1.15 0 1 0 2.3 0a1.15 1.15 0 1 0 -2.3 0M636.4 575.4a1.15 1.15 0 1 0 2.3 0a1.15 1.15 0 1 0 -2.3 0M641.5 577.9a1.15 1.15 0 1 0 2.3 0a1.15 1.15 0 1 0 -2.3 0M638.1 578.0a1.15 1.15 0 1 0 2.3 0a1.15 1.15 0 1 0 -2.3 0M643.0 581.4a1.15 1.15 0 1 0 2.3 0a1.15 1.15 0 1 0 -2.3 0M639.6 580.9a1.15 1.15 0 1 0 2.3 0a1.15 1.15 0 1 0 -2.3 0M636.3 580.3a1.15 1.15 0 1 0 2.3 0a1.15 1.15 0 1 0 -2.3 0M640.6 584.2a1.15 1.15 0 1 0 2.3 0a1.15 1.15 0 1 0 -2.3 0M637.4 583.3a1.15 1.15 0 1 0 2.3 0a1.15 1.15 0 1 0 -2.3 0M641.2 587.9a1.15 1.15 0 1 0 2.3 0a1.15 1.15 0 1 0 -2.3 0M638.0 586.5a1.15 1.15 0 1 0 2.3 0a1.15 1.15 0 1 0 -2.3 0M634.9 585.2a1.15 1.15 0 1 0 2.3 0a1.15 1.15 0 1 0 -2.3 0M638.3 590.0a1.15 1.15 0 1 0 2.3 0a1.15 1.15 0 1 0 -2.3 0M635.3 588.4a1.15 1.15 0 1 0 2.3 0a1.15 1.15 0 1 0 -2.3 0M635.4 591.8a1.15 1.15 0 1 0 2.3 0a1.15 1.15 0 1 0 -2.3 0M635.3 595.2a1.15 1.15 0 1 0 2.3 0a1.15 1.15 0 1 0 -2.3 0M632.4 593.4a1.15 1.15 0 1 0 2.3 0a1.15 1.15 0 1 0 -2.3 0M632.2 596.7a1.15 1.15 0 1 0 2.3 0a1.15 1.15 0 1 0 -2.3 0M631.9 600.1a1.15 1.15 0 1 0 2.3 0a1.15 1.15 0 1 0 -2.3 0M629.1 598.2a1.15 1.15 0 1 0 2.3 0a1.15 1.15 0 1 0 -2.3 0M628.8 601.5a1.15 1.15 0 1 0 2.3 0a1.15 1.15 0 1 0 -2.3 0M628.4 604.9a1.15 1.15 0 1 0 2.3 0a1.15 1.15 0 1 0 -2.3 0M625.7 602.9a1.15 1.15 0 1 0 2.3 0a1.15 1.15 0 1 0 -2.3 0M625.3 606.3a1.15 1.15 0 1 0 2.3 0a1.15 1.15 0 1 0 -2.3 0" fill="#fbeac2"/>
 <path d="M622.0 383.7 L621.9 384.5 L621.8 385.2 L621.7 385.9 L621.6 386.8 L621.5 387.8 L621.4 388.8 L621.3 390.0 L621.3 391.3 L621.3 392.6 L621.3 393.9 L621.4 394.9 L621.5 396.0 L621.6 397.4 L621.8 398.9 L622.0 400.6 L622.3 402.4 L622.8 404.3 L623.5 406.4 L624.6 408.6 L626.1 410.8 L628.0 412.6 L629.9 414.0 L631.8 415.0 L633.6 415.8 L635.3 416.4 L637.0 416.9 L638.6 417.3 L640.1 417.6 L641.5 417.9 L643.1 418.3 L645.0 418.7 L647.1 418.9 L648.9 419.0 L650.5 419.1 L652.0 419.1 L653.3 419.2 L654.4 419.3 L655.3 419.4 L656.0 419.6 L656.8 419.9 L658.0 420.4 L659.5 421.1 L661.1 421.9 L662.6 422.8 L664.0 423.7 L665.3 424.5 L666.2 425.3 L666.9 426.0 L667.2 426.3 L667.2 426.3 L667.2 426.7 L667.2 427.5 L667.2 428.4 L667.1 429.3 L666.9 430.2 L666.7 431.0 L666.3 431.5 L666.0 431.9 L665.7 432.2 L665.3 432.4 L664.4 432.9 L662.7 433.7 L660.6 434.6 L658.0 435.5 L655.3 436.3 L652.3 437.0 L649.3 437.5 L646.4 437.9 L643.6 438.2 L641.2 438.3 L639.1 438.1 L636.7 437.7 L634.0 437.0 L631.0 436.0 L627.8 434.9 L624.5 433.7 L621.0 432.6 L617.3 431.5 L613.4 430.7 L609.5 430.3 L605.9 430.3 L602.6 430.5 L599.3 430.9 L596.1 431.5 L593.1 432.3 L590.2 433.2 L587.4 434.2 L584.7 435.3 L582.2 436.6 L579.8 438.0 L577.5 439.7 L575.3 441.6 L573.4 443.7 L571.7 445.9 L570.3 448.2 L569.1 450.5 L568.1 452.9 L567.4 455.4 L566.8 457.9 L566.5 460.5 L566.5 463.2 L566.9 465.9 L567.5 468.5 L568.3 470.9 L569.2 473.3 L570.4 475.5 L571.6 477.6 L573.0 479.6 L574.4 481.6 L576.0 483.4 L577.6 485.1 L579.5 486.8 L581.4 488.4 L583.5 489.9 L585.6 491.4 L587.9 492.7 L590.2 493.9 L592.6 495.0 L595.1 496.0 L597.8 496.7 L600.7 497.4 L603.5 497.8 L606.3 497.9 L608.9 497.9 L611.4 497.8 L613.8 497.6 L616.1 497.4 L618.1 497.2 L620.0 497.0 L621.7 496.9 L623.6 496.6 L625.5 496.2 L627.3 495.8 L629.0 495.4 L630.6 495.0 L632.1 494.6 L633.5 494.2 L634.8 493.9 L636.1 493.5 L637.4 493.2 L639.0 492.9 L640.6 492.5 L642.1 492.1 L643.6 491.8 L644.9 491.4 L646.3 491.2 L647.5 490.9 L648.6 490.7 L649.7 490.6 L650.9 490.5 L652.2 490.3 L653.6 490.2 L654.8 490.1 L656.0 490.0 L657.0 490.0 L658.0 490.0 L659.0 490.0 L659.9 490.1 L660.8 490.3 L661.8 490.5 L663.1 490.9 L664.6 491.4 L666.2 492.0 L667.7 492.6 L669.3 493.3 L670.7 494.1 L672.0 494.8 L673.1 495.5 L674.0 496.2 L674.6 496.8 L675.3 497.5 L676.1 498.4 L676.7 499.4 L677.4 500.5 L677.9 501.6 L678.4 502.8 L678.8 503.9 L679.2 505.1 L679.4 506.2 L679.5 507.3 L679.4 508.4 L679.2 509.8 L678.8 511.3 L678.4 512.8 L677.9 514.5 L677.2 516.0 L676.5 517.5 L675.8 518.9 L675.1 520.1 L674.3 521.1 L673.5 522.2 L672.5 523.3 L671.5 524.3 L670.5 525.3 L669.4 526.1 L668.4 526.8 L667.4 527.4 L666.5 527.8 L665.6 528.1 L664.9 528.2 L664.0 528.3 L662.8 528.4 L661.3 528.3 L659.5 528.1 L657.6 527.8 L655.5 527.3 L653.4 526.8 L651.1 526.1 L648.9 525.4 L646.8 524.7 L644.9 524.1 L642.9 523.3 L640.6 522.2 L638.2 521.0 L635.7 519.7 L633.2 518.4 L630.6 517.0 L628.0 515.6 L625.4 514.4 L623.0 513.4 L621.0 512.7 L619.2 512.1 L617.4 511.5 L615.6 510.9 L613.6 510.4 L611.5 509.9 L609.2 509.6 L606.7 509.7 L604.2 510.1 L601.7 510.9 L599.3 511.8 L597.0 513.1 L594.9 514.5 L592.9 516.1 L590.9 517.9 L589.1 519.8 L587.4 521.8 L585.9 524.0 L584.7 526.5 L583.7 529.2 L583.2 531.9 L583.2 534.5 L583.4 537.0 L583.9 539.5 L584.6 541.8 L585.6 544.2 L586.7 546.4 L588.1 548.5 L589.6 550.6 L591.3 552.6 L593.4 554.5 L595.7 556.3 L598.1 557.8 L600.5 559.2 L603.0 560.5 L605.5 561.8 L607.9 563.0 L610.2 564.1 L612.4 565.1 L614.4 566.1 L616.7 567.2 L619.0 568.1 L621.4 569.0 L623.6 569.8 L625.7 570.6 L627.6 571.3 L629.3 571.9 L630.8 572.5 L631.9 573.0 L632.6 573.5 L633.2 573.8 L633.7 574.1 L634.0 574.3 L634.3 574.5 L634.5 574.7 L634.7 575.0 L635.0 575.5 L635.2 576.1 L635.3 577.0 L635.5 577.9 L635.6 578.8 L635.7 579.7 L635.7 580.6 L635.7 581.5 L635.6 582.5 L635.4 583.6 L635.1 584.8 L634.7 586.1 L634.1 587.5 L633.5 589.1 L632.7 590.7 L631.7 592.5 L630.6 594.5 L629.4 596.5 L628.0 598.6 L626.6 600.8 L625.1 603.0 L623.7 605.2 L622.3 607.4 L621.0 609.6 L625.0 612.4 L626.6 610.5 L628.2 608.5 L629.9 606.5 L631.6 604.5 L633.3 602.5 L634.9 600.5 L636.5 598.5 L637.9 596.6 L639.3 594.7 L640.5 592.9 L641.5 591.3 L642.5 589.7 L643.3 588.2 L644.0 586.7 L644.7 585.2 L645.2 583.8 L645.7 582.3 L646.0 580.9 L646.3 579.4 L646.5 578.1 L646.6 576.8 L646.7 575.4 L646.8 574.0 L646.7 572.5 L646.4 570.8 L645.9 569.1 L645.1 567.4 L644.1 565.7 L642.9 564.1 L641.4 562.5 L639.6 561.1 L637.6 559.8 L635.6 558.7 L633.5 557.7 L631.4 556.7 L629.3 555.7 L627.3 554.8 L625.3 553.8 L623.4 552.9 L621.6 551.9 L619.5 550.8 L617.2 549.7 L614.8 548.5 L612.6 547.4 L610.4 546.3 L608.3 545.2 L606.4 544.2 L604.8 543.1 L603.6 542.2 L602.7 541.4 L601.8 540.5 L601.0 539.5 L600.3 538.4 L599.6 537.3 L599.1 536.3 L598.7 535.3 L598.5 534.4 L598.3 533.7 L598.3 533.1 L598.3 532.8 L598.4 532.5 L598.8 531.8 L599.4 530.9 L600.3 529.7 L601.4 528.6 L602.6 527.5 L603.8 526.6 L604.9 525.8 L605.8 525.4 L606.3 525.1 L606.6 525.3 L606.7 525.5 L607.0 525.7 L607.3 526.0 L608.0 526.4 L608.9 527.0 L610.1 527.7 L611.6 528.6 L613.3 529.6 L615.0 530.6 L616.6 531.6 L618.4 532.7 L620.4 534.1 L622.7 535.6 L625.1 537.3 L627.7 539.0 L630.4 540.7 L633.2 542.4 L636.2 544.0 L639.2 545.3 L642.0 546.3 L644.7 547.2 L647.5 548.0 L650.4 548.7 L653.4 549.4 L656.4 549.9 L659.5 550.2 L662.6 550.4 L665.9 550.2 L669.1 549.8 L672.3 548.9 L675.3 547.7 L678.0 546.3 L680.5 544.7 L682.8 542.9 L684.9 541.0 L686.9 539.1 L688.6 537.1 L690.2 535.0 L691.7 532.9 L693.1 530.5 L694.3 528.0 L695.3 525.4 L696.3 522.8 L697.0 520.2 L697.6 517.5 L698.1 514.8 L698.4 512.1 L698.6 509.4 L698.5 506.7 L698.4 504.1 L698.0 501.5 L697.5 499.0 L696.8 496.5 L695.9 494.1 L694.9 491.7 L693.7 489.5 L692.4 487.3 L691.0 485.2 L689.4 483.2 L687.4 481.2 L685.3 479.4 L683.2 477.9 L681.0 476.4 L678.7 475.2 L676.5 474.0 L674.4 473.0 L672.2 472.1 L670.2 471.2 L668.2 470.5 L666.1 469.8 L663.9 469.3 L661.7 468.9 L659.7 468.6 L657.7 468.5 L655.8 468.4 L654.1 468.4 L652.4 468.4 L650.8 468.5 L649.1 468.5 L647.3 468.7 L645.4 469.0 L643.5 469.3 L641.7 469.6 L640.1 470.0 L638.4 470.4 L636.9 470.8 L635.4 471.1 L634.0 471.4 L632.6 471.8 L631.0 472.1 L629.3 472.5 L627.8 473.0 L626.4 473.3 L625.0 473.7 L623.7 474.0 L622.4 474.4 L621.1 474.6 L619.8 474.9 L618.3 475.1 L616.4 475.6 L614.4 476.1 L612.5 476.6 L610.6 477.0 L608.8 477.5 L607.1 477.8 L605.6 478.1 L604.3 478.2 L603.1 478.3 L602.2 478.3 L601.1 477.9 L599.9 477.5 L598.5 476.9 L597.1 476.1 L595.8 475.3 L594.4 474.4 L593.1 473.5 L592.0 472.5 L590.9 471.5 L590.0 470.6 L589.2 469.7 L588.5 468.6 L587.7 467.5 L587.1 466.4 L586.5 465.3 L586.1 464.3 L585.8 463.3 L585.6 462.5 L585.5 461.9 L585.5 461.5 L585.6 461.0 L585.7 460.2 L586.0 459.4 L586.4 458.5 L586.8 457.6 L587.4 456.7 L588.0 455.9 L588.6 455.2 L589.3 454.6 L590.2 454.0 L591.3 453.4 L592.7 452.7 L594.3 452.0 L596.1 451.4 L598.0 450.9 L600.1 450.4 L602.2 450.1 L604.3 449.8 L606.5 449.7 L608.5 449.7 L610.3 449.9 L612.5 450.4 L615.2 451.2 L618.2 452.2 L621.4 453.3 L624.9 454.5 L628.6 455.7 L632.5 456.7 L636.6 457.5 L640.8 457.7 L644.8 457.6 L648.7 457.2 L652.6 456.6 L656.5 455.8 L660.2 454.9 L663.9 453.8 L667.4 452.5 L670.7 451.1 L673.7 449.5 L676.7 447.6 L679.4 445.1 L681.5 442.2 L683.1 439.2 L684.1 436.2 L684.7 433.2 L684.9 430.3 L684.8 427.5 L684.4 424.8 L683.8 422.3 L682.8 419.7 L681.4 417.0 L679.5 414.6 L677.5 412.6 L675.5 410.9 L673.4 409.5 L671.2 408.1 L669.1 407.0 L667.1 405.9 L665.2 405.0 L663.2 404.1 L661.0 403.3 L658.6 402.7 L656.4 402.4 L654.4 402.2 L652.6 402.1 L651.0 402.1 L649.7 402.0 L648.6 402.0 L647.7 401.9 L646.9 401.7 L645.7 401.4 L644.4 401.0 L643.2 400.6 L642.1 400.2 L641.2 399.9 L640.4 399.5 L639.9 399.2 L639.6 399.0 L639.6 399.0 L639.9 399.2 L640.1 399.5 L640.1 399.6 L640.1 399.3 L639.9 398.8 L639.8 397.9 L639.7 397.0 L639.6 395.8 L639.5 394.6 L639.4 393.3 L639.3 392.1 L639.1 391.3 L639.1 390.7 L639.0 390.2 L639.0 389.5 L639.0 388.9 L639.0 388.1 L639.0 387.3 L639.0 386.3 L639.0 385.3 L639.0 384.3Z" fill="none" stroke="#c78128" stroke-width="0.7"/>
 <path d="M632.8 345.6 Q640 348 644.8 354.3 Q647.5 362 646 371 Q644 378 639.5 383 L639 392 L622.5 392 L623 383 Q618 378 617.4 371.5 Q616.5 362 621.1 353.9 Q626 348 632.8 345.6Z" fill="#e4a858"/>
 <path d="M632.8 345.6 Q640 348 644.8 354.3 Q647.5 362 646 371 Q644 378 639.5 383 L639 392 L622.5 392 L623 383 Q618 378 617.4 371.5 Q616.5 362 621.1 353.9 Q626 348 632.8 345.6Z" fill="url(#dotsR)" opacity="0.7"/>
 <path d="M632.8 347 Q639 349 643 355 L638 364 L632.8 368 L627.5 364 L622.5 355 Q626.5 349 632.8 347Z" fill="#f7dca8"/>
 <path d="M627 354 L630 364 M632.8 349 L632.8 366 M638.5 354 L635.5 364 M624.5 357 L628 365 M641 357 L637.5 365" stroke="#c8852f" stroke-width="0.9"/>
 <path d="M621 362 Q624 360 626 363 M644.5 362 Q641.5 360 639.5 363" stroke="#9a5a1a" stroke-width="1.2" fill="none"/>
</g>
<g id="ring">
 <rect x="592.5" y="463" width="17" height="4" fill="#d8701e"/>
 <rect x="613" y="463" width="52" height="4" fill="#e07a1c"/>
 <rect x="592.5" y="466.5" width="17.5" height="11" fill="#e8b84a"/>
 <path d="M610 467 L665 467 L665 471 Q640 472 612 477 L610 477Z" fill="#f9e6b0"/>
</g>
<path d="M578.0 484.7 L579.5 485.7 L581.0 486.7 L582.5 487.8 L584.2 489.1 L586.0 490.4 L587.9 491.8 L590.1 493.1 L592.4 494.4 L595.0 495.5 L597.8 496.4 L600.7 497.1 L603.5 497.4 L606.3 497.6 L608.9 497.6 L611.4 497.4 L613.8 497.2 L616.0 497.0 L618.1 496.8 L619.9 496.6 L621.7 496.5 L623.5 496.2 L625.5 495.9 L627.3 495.5 L628.9 495.1 L630.5 494.6 L632.0 494.2 L633.4 493.9 L634.7 493.5 L636.0 493.2 L637.4 492.9 L638.9 492.5 L640.5 492.2 L642.0 491.8 L643.5 491.4 L644.9 491.1 L646.2 490.8 L647.4 490.6 L648.6 490.4 L649.7 490.2 L650.7 490.1 L651.7 490.0 L652.8 490.0 L653.9 490.0 L655.2 490.0 L656.5 490.1 L657.9 490.2 L659.4 490.3 L661.0 490.4 L662.6 490.5 L664.2 490.6 L665.8 470.4 L664.4 470.2 L663.0 470.0 L661.6 469.8 L660.1 469.6 L658.5 469.4 L656.8 469.2 L655.1 469.0 L653.2 468.9 L651.3 468.8 L649.3 468.9 L647.3 469.1 L645.4 469.3 L643.6 469.6 L641.8 470.0 L640.1 470.3 L638.5 470.7 L637.0 471.1 L635.5 471.5 L634.1 471.8 L632.6 472.1 L631.0 472.5 L629.4 472.9 L627.9 473.3 L626.5 473.7 L625.1 474.0 L623.8 474.4 L622.5 474.7 L621.2 475.0 L619.9 475.2 L618.3 475.5 L616.5 475.9 L614.5 476.4 L612.5 476.9 L610.7 477.4 L608.9 477.8 L607.2 478.1 L605.6 478.4 L604.2 478.6 L603.1 478.6 L602.2 478.6 L601.4 478.4 L600.4 477.9 L599.3 477.3 L598.0 476.5 L596.6 475.6 L595.1 474.4 L593.5 473.2 L591.7 471.9 L589.9 470.6 L588.0 469.3Z" fill="#e0a44c"/>
<path d="M587.1 472.3a1.15 1.15 0 1 0 2.3 0a1.15 1.15 0 1 0 -2.3 0M585.2 475.1a1.15 1.15 0 1 0 2.3 0a1.15 1.15 0 1 0 -2.3 0M583.3 477.9a1.15 1.15 0 1 0 2.3 0a1.15 1.15 0 1 0 -2.3 0M581.4 480.7a1.15 1.15 0 1 0 2.3 0a1.15 1.15 0 1 0 -2.3 0M579.5 483.6a1.15 1.15 0 1 0 2.3 0a1.15 1.15 0 1 0 -2.3 0M590.7 472.8a1.15 1.15 0 1 0 2.3 0a1.15 1.15 0 1 0 -2.3 0M588.7 475.5a1.15 1.15 0 1 0 2.3 0a1.15 1.15 0 1 0 -2.3 0M586.7 478.3a1.15 1.15 0 1 0 2.3 0a1.15 1.15 0 1 0 -2.3 0M584.7 481.0a1.15 1.15 0 1 0 2.3 0a1.15 1.15 0 1 0 -2.3 0M582.6 483.7a1.15 1.15 0 1 0 2.3 0a1.15 1.15 0 1 0 -2.3 0M580.6 486.5a1.15 1.15 0 1 0 2.3 0a1.15 1.15 0 1 0 -2.3 0M592.1 476.0a1.15 1.15 0 1 0 2.3 0a1.15 1.15 0 1 0 -2.3 0M590.1 478.7a1.15 1.15 0 1 0 2.3 0a1.15 1.15 0 1 0 -2.3 0M588.0 481.4a1.15 1.15 0 1 0 2.3 0a1.15 1.15 0 1 0 -2.3 0M586.0 484.1a1.15 1.15 0 1 0 2.3 0a1.15 1.15 0 1 0 -2.3 0M583.9 486.8a1.15 1.15 0 1 0 2.3 0a1.15 1.15 0 1 0 -2.3 0M595.3 476.2a1.15 1.15 0 1 0 2.3 0a1.15 1.15 0 1 0 -2.3 0M593.3 479.0a1.15 1.15 0 1 0 2.3 0a1.15 1.15 0 1 0 -2.3 0M591.4 481.8a1.15 1.15 0 1 0 2.3 0a1.15 1.15 0 1 0 -2.3 0M589.4 484.5a1.15 1.15 0 1 0 2.3 0a1.15 1.15 0 1 0 -2.3 0M587.4 487.3a1.15 1.15 0 1 0 2.3 0a1.15 1.15 0 1 0 -2.3 0M585.5 490.1a1.15 1.15 0 1 0 2.3 0a1.15 1.15 0 1 0 -2.3 0M596.4 479.0a1.15 1.15 0 1 0 2.3 0a1.15 1.15 0 1 0 -2.3 0M594.6 481.9a1.15 1.15 0 1 0 2.3 0a1.15 1.15 0 1 0 -2.3 0M592.8 484.8a1.15 1.15 0 1 0 2.3 0a1.15 1.15 0 1 0 -2.3 0M591.1 487.7a1.15 1.15 0 1 0 2.3 0a1.15 1.15 0 1 0 -2.3 0M589.3 490.6a1.15 1.15 0 1 0 2.3 0a1.15 1.15 0 1 0 -2.3 0M599.0 478.5a1.15 1.15 0 1 0 2.3 0a1.15 1.15 0 1 0 -2.3 0M597.5 481.6a1.15 1.15 0 1 0 2.3 0a1.15 1.15 0 1 0 -2.3 0M596.1 484.7a1.15 1.15 0 1 0 2.3 0a1.15 1.15 0 1 0 -2.3 0M594.7 487.8a1.15 1.15 0 1 0 2.3 0a1.15 1.15 0 1 0 -2.3 0M593.3 490.9a1.15 1.15 0 1 0 2.3 0a1.15 1.15 0 1 0 -2.3 0M591.8 493.9a1.15 1.15 0 1 0 2.3 0a1.15 1.15 0 1 0 -2.3 0M600.0 480.8a1.15 1.15 0 1 0 2.3 0a1.15 1.15 0 1 0 -2.3 0M599.1 484.0a1.15 1.15 0 1 0 2.3 0a1.15 1.15 0 1 0 -2.3 0M598.1 487.3a1.15 1.15 0 1 0 2.3 0a1.15 1.15 0 1 0 -2.3 0M597.2 490.6a1.15 1.15 0 1 0 2.3 0a1.15 1.15 0 1 0 -2.3 0M596.3 493.9a1.15 1.15 0 1 0 2.3 0a1.15 1.15 0 1 0 -2.3 0M601.9 479.4a1.15 1.15 0 1 0 2.3 0a1.15 1.15 0 1 0 -2.3 0M601.5 482.8a1.15 1.15 0 1 0 2.3 0a1.15 1.15 0 1 0 -2.3 0M601.2 486.2a1.15 1.15 0 1 0 2.3 0a1.15 1.15 0 1 0 -2.3 0M600.9 489.6a1.15 1.15 0 1 0 2.3 0a1.15 1.15 0 1 0 -2.3 0M600.5 492.9a1.15 1.15 0 1 0 2.3 0a1.15 1.15 0 1 0 -2.3 0M600.2 496.3a1.15 1.15 0 1 0 2.3 0a1.15 1.15 0 1 0 -2.3 0M603.8 481.2a1.15 1.15 0 1 0 2.3 0a1.15 1.15 0 1 0 -2.3 0M603.9 484.6a1.15 1.15 0 1 0 2.3 0a1.15 1.15 0 1 0 -2.3 0M604.0 488.0a1.15 1.15 0 1 0 2.3 0a1.15 1.15 0 1 0 -2.3 0M604.0 491.4a1.15 1.15 0 1 0 2.3 0a1.15 1.15 0 1 0 -2.3 0M604.1 494.8a1.15 1.15 0 1 0 2.3 0a1.15 1.15 0 1 0 -2.3 0M606.0 479.4a1.15 1.15 0 1 0 2.3 0a1.15 1.15 0 1 0 -2.3 0M606.4 482.8a1.15 1.15 0 1 0 2.3 0a1.15 1.15 0 1 0 -2.3 0M606.7 486.2a1.15 1.15 0 1 0 2.3 0a1.15 1.15 0 1 0 -2.3 0M607.1 489.5a1.15 1.15 0 1 0 2.3 0a1.15 1.15 0 1 0 -2.3 0M607.4 492.9a1.15 1.15 0 1 0 2.3 0a1.15 1.15 0 1 0 -2.3 0M607.8 496.3a1.15 1.15 0 1 0 2.3 0a1.15 1.15 0 1 0 -2.3 0M608.9 480.8a1.15 1.15 0 1 0 2.3 0a1.15 1.15 0 1 0 -2.3 0M609.4 484.1a1.15 1.15 0 1 0 2.3 0a1.15 1.15 0 1 0 -2.3 0M609.8 487.5a1.15 1.15 0 1 0 2.3 0a1.15 1.15 0 1 0 -2.3 0M610.3 490.9a1.15 1.15 0 1 0 2.3 0a1.15 1.15 0 1 0 -2.3 0M610.8 494.2a1.15 1.15 0 1 0 2.3 0a1.15 1.15 0 1 0 -2.3 0M611.3 478.7a1.15 1.15 0 1 0 2.3 0a1.15 1.15 0 1 0 -2.3 0M611.9 482.0a1.15 1.15 0 1 0 2.3 0a1.15 1.15 0 1 0 -2.3 0M612.4 485.4a1.15 1.15 0 1 0 2.3 0a1.15 1.15 0 1 0 -2.3 0M613.0 488.7a1.15 1.15 0 1 0 2.3 0a1.15 1.15 0 1 0 -2.3 0M613.6 492.1a1.15 1.15 0 1 0 2.3 0a1.15 1.15 0 1 0 -2.3 0M614.2 495.4a1.15 1.15 0 1 0 2.3 0a1.15 1.15 0 1 0 -2.3 0M614.4 479.8a1.15 1.15 0 1 0 2.3 0a1.15 1.15 0 1 0 -2.3 0M615.0 483.2a1.15 1.15 0 1 0 2.3 0a1.15 1.15 0 1 0 -2.3 0M615.6 486.5a1.15 1.15 0 1 0 2.3 0a1.15 1.15 0 1 0 -2.3 0M616.2 489.9a1.15 1.15 0 1 0 2.3 0a1.15 1.15 0 1 0 -2.3 0M616.8 493.2a1.15 1.15 0 1 0 2.3 0a1.15 1.15 0 1 0 -2.3 0M617.3 477.6a1.15 1.15 0 1 0 2.3 0a1.15 1.15 0 1 0 -2.3 0M617.8 481.0a1.15 1.15 0 1 0 2.3 0a1.15 1.15 0 1 0 -2.3 0M618.3 484.4a1.15 1.15 0 1 0 2.3 0a1.15 1.15 0 1 0 -2.3 0M618.8 487.7a1.15 1.15 0 1 0 2.3 0a1.15 1.15 0 1 0 -2.3 0M619.3 491.1a1.15 1.15 0 1 0 2.3 0a1.15 1.15 0 1 0 -2.3 0M619.8 494.5a1.15 1.15 0 1 0 2.3 0a1.15 1.15 0 1 0 -2.3 0M620.1 478.9a1.15 1.15 0 1 0 2.3 0a1.15 1.15 0 1 0 -2.3 0M620.8 482.2a1.15 1.15 0 1 0 2.3 0a1.15 1.15 0 1 0 -2.3 0M621.4 485.6a1.15 1.15 0 1 0 2.3 0a1.15 1.15 0 1 0 -2.3 0M622.1 488.9a1.15 1.15 0 1 0 2.3 0a1.15 1.15 0 1 0 -2.3 0M622.8 492.2a1.15 1.15 0 1 0 2.3 0a1.15 1.15 0 1 0 -2.3 0M622.4 476.7a1.15 1.15 0 1 0 2.3 0a1.15 1.15 0 1 0 -2.3 0M623.1 480.0a1.15 1.15 0 1 0 2.3 0a1.15 1.15 0 1 0 -2.3 0M623.9 483.3a1.15 1.15 0 1 0 2.3 0a1.15 1.15 0 1 0 -2.3 0M624.7 486.6a1.15 1.15 0 1 0 2.3 0a1.15 1.15 0 1 0 -2.3 0M625.5 489.9a1.15 1.15 0 1 0 2.3 0a1.15 1.15 0 1 0 -2.3 0M626.3 493.2a1.15 1.15 0 1 0 2.3 0a1.15 1.15 0 1 0 -2.3 0M625.4 477.6a1.15 1.15 0 1 0 2.3 0a1.15 1.15 0 1 0 -2.3 0M626.3 480.9a1.15 1.15 0 1 0 2.3 0a1.15 1.15 0 1 0 -2.3 0M627.2 484.2a1.15 1.15 0 1 0 2.3 0a1.15 1.15 0 1 0 -2.3 0M628.1 487.5a1.15 1.15 0 1 0 2.3 0a1.15 1.15 0 1 0 -2.3 0M628.9 490.8a1.15 1.15 0 1 0 2.3 0a1.15 1.15 0 1 0 -2.3 0M627.8 475.2a1.15 1.15 0 1 0 2.3 0a1.15 1.15 0 1 0 -2.3 0M628.7 478.5a1.15 1.15 0 1 0 2.3 0a1.15 1.15 0 1 0 -2.3 0M629.6 481.8a1.15 1.15 0 1 0 2.3 0a1.15 1.15 0 1 0 -2.3 0M630.5 485.1a1.15 1.15 0 1 0 2.3 0a1.15 1.15 0 1 0 -2.3 0M631.3 488.4a1.15 1.15 0 1 0 2.3 0a1.15 1.15 0 1 0 -2.3 0M632.2 491.7a1.15 1.15 0 1 0 2.3 0a1.15 1.15 0 1 0 -2.3 0M631.3 476.1a1.15 1.15 0 1 0 2.3 0a1.15 1.15 0 1 0 -2.3 0M632.1 479.4a1.15 1.15 0 1 0 2.3 0a1.15 1.15 0 1 0 -2.3 0M632.9 482.7a1.15 1.15 0 1 0 2.3 0a1.15 1.15 0 1 0 -2.3 0M633.7 486.0a1.15 1.15 0 1 0 2.3 0a1.15 1.15 0 1 0 -2.3 0M634.4 489.3a1.15 1.15 0 1 0 2.3 0a1.15 1.15 0 1 0 -2.3 0M633.8 473.8a1.15 1.15 0 1 0 2.3 0a1.15 1.15 0 1 0 -2.3 0M634.6 477.1a1.15 1.15 0 1 0 2.3 0a1.15 1.15 0 1 0 -2.3 0M635.4 480.4a1.15 1.15 0 1 0 2.3 0a1.15 1.15 0 1 0 -2.3 0M636.1 483.7a1.15 1.15 0 1 0 2.3 0a1.15 1.15 0 1 0 -2.3 0M636.9 487.0a1.15 1.15 0 1 0 2.3 0a1.15 1.15 0 1 0 -2.3 0M637.7 490.3a1.15 1.15 0 1 0 2.3 0a1.15 1.15 0 1 0 -2.3 0M637.0 474.8a1.15 1.15 0 1 0 2.3 0a1.15 1.15 0 1 0 -2.3 0M637.8 478.1a1.15 1.15 0 1 0 2.3 0a1.15 1.15 0 1 0 -2.3 0M638.6 481.4a1.15 1.15 0 1 0 2.3 0a1.15 1.15 0 1 0 -2.3 0M639.4 484.7a1.15 1.15 0 1 0 2.3 0a1.15 1.15 0 1 0 -2.3 0M640.2 488.0a1.15 1.15 0 1 0 2.3 0a1.15 1.15 0 1 0 -2.3 0M639.6 472.4a1.15 1.15 0 1 0 2.3 0a1.15 1.15 0 1 0 -2.3 0M640.3 475.7a1.15 1.15 0 1 0 2.3 0a1.15 1.15 0 1 0 -2.3 0M641.1 479.0a1.15 1.15 0 1 0 2.3 0a1.15 1.15 0 1 0 -2.3 0M641.8 482.4a1.15 1.15 0 1 0 2.3 0a1.15 1.15 0 1 0 -2.3 0M642.6 485.7a1.15 1.15 0 1 0 2.3 0a1.15 1.15 0 1 0 -2.3 0M643.3 489.0a1.15 1.15 0 1 0 2.3 0a1.15 1.15 0 1 0 -2.3 0M643.2 473.4a1.15 1.15 0 1 0 2.3 0a1.15 1.15 0 1 0 -2.3 0M643.8 476.7a1.15 1.15 0 1 0 2.3 0a1.15 1.15 0 1 0 -2.3 0M644.4 480.1a1.15 1.15 0 1 0 2.3 0a1.15 1.15 0 1 0 -2.3 0M644.9 483.4a1.15 1.15 0 1 0 2.3 0a1.15 1.15 0 1 0 -2.3 0M645.5 486.8a1.15 1.15 0 1 0 2.3 0a1.15 1.15 0 1 0 -2.3 0M646.2 471.2a1.15 1.15 0 1 0 2.3 0a1.15 1.15 0 1 0 -2.3 0M646.6 474.6a1.15 1.15 0 1 0 2.3 0a1.15 1.15 0 1 0 -2.3 0M647.1 478.0a1.15 1.15 0 1 0 2.3 0a1.15 1.15 0 1 0 -2.3 0M647.5 481.3a1.15 1.15 0 1 0 2.3 0a1.15 1.15 0 1 0 -2.3 0M647.9 484.7a1.15 1.15 0 1 0 2.3 0a1.15 1.15 0 1 0 -2.3 0M648.3 488.1a1.15 1.15 0 1 0 2.3 0a1.15 1.15 0 1 0 -2.3 0M650.0 472.6a1.15 1.15 0 1 0 2.3 0a1.15 1.15 0 1 0 -2.3 0M650.1 476.0a1.15 1.15 0 1 0 2.3 0a1.15 1.15 0 1 0 -2.3 0M650.2 479.4a1.15 1.15 0 1 0 2.3 0a1.15 1.15 0 1 0 -2.3 0M650.3 482.8a1.15 1.15 0 1 0 2.3 0a1.15 1.15 0 1 0 -2.3 0M650.4 486.2a1.15 1.15 0 1 0 2.3 0a1.15 1.15 0 1 0 -2.3 0M653.6 471.0a1.15 1.15 0 1 0 2.3 0a1.15 1.15 0 1 0 -2.3 0M653.4 474.4a1.15 1.15 0 1 0 2.3 0a1.15 1.15 0 1 0 -2.3 0M653.2 477.8a1.15 1.15 0 1 0 2.3 0a1.15 1.15 0 1 0 -2.3 0M653.1 481.2a1.15 1.15 0 1 0 2.3 0a1.15 1.15 0 1 0 -2.3 0M652.9 484.6a1.15 1.15 0 1 0 2.3 0a1.15 1.15 0 1 0 -2.3 0M652.7 488.0a1.15 1.15 0 1 0 2.3 0a1.15 1.15 0 1 0 -2.3 0M656.7 473.0a1.15 1.15 0 1 0 2.3 0a1.15 1.15 0 1 0 -2.3 0M656.4 476.3a1.15 1.15 0 1 0 2.3 0a1.15 1.15 0 1 0 -2.3 0M656.1 479.7a1.15 1.15 0 1 0 2.3 0a1.15 1.15 0 1 0 -2.3 0M655.7 483.1a1.15 1.15 0 1 0 2.3 0a1.15 1.15 0 1 0 -2.3 0M655.4 486.5a1.15 1.15 0 1 0 2.3 0a1.15 1.15 0 1 0 -2.3 0M659.9 471.6a1.15 1.15 0 1 0 2.3 0a1.15 1.15 0 1 0 -2.3 0M659.6 475.0a1.15 1.15 0 1 0 2.3 0a1.15 1.15 0 1 0 -2.3 0M659.2 478.3a1.15 1.15 0 1 0 2.3 0a1.15 1.15 0 1 0 -2.3 0M658.8 481.7a1.15 1.15 0 1 0 2.3 0a1.15 1.15 0 1 0 -2.3 0M658.4 485.1a1.15 1.15 0 1 0 2.3 0a1.15 1.15 0 1 0 -2.3 0M658.1 488.5a1.15 1.15 0 1 0 2.3 0a1.15 1.15 0 1 0 -2.3 0M662.6 473.6a1.15 1.15 0 1 0 2.3 0a1.15 1.15 0 1 0 -2.3 0M662.2 477.0a1.15 1.15 0 1 0 2.3 0a1.15 1.15 0 1 0 -2.3 0M661.9 480.3a1.15 1.15 0 1 0 2.3 0a1.15 1.15 0 1 0 -2.3 0M661.6 483.7a1.15 1.15 0 1 0 2.3 0a1.15 1.15 0 1 0 -2.3 0M661.3 487.1a1.15 1.15 0 1 0 2.3 0a1.15 1.15 0 1 0 -2.3 0" fill="#fbeac2"/>
<line x1="596" y1="461.8" x2="663" y2="461.8" stroke="#333" stroke-width="1" marker-start="url(#ah)" marker-end="url(#ah)"/>
<line x1="713" y1="345" x2="713" y2="611" stroke="#444" stroke-width="1" marker-start="url(#ah)" marker-end="url(#ah)"/>
<line x1="566" y1="622.5" x2="698" y2="622.5" stroke="#444" stroke-width="1" marker-start="url(#ah)" marker-end="url(#ah)"/>
</svg>

<div class="t" style="left:223px;top:89px;font-size:13.5px;">1.47inch/3.8cm</div>
<div class="t" style="left:400px;top:42.5px;font-size:13.6px;">4.09inch/10.4cm</div>
<div class="t" style="left:181.5px;top:237px;font-size:15.6px;">Diameter:0.70inch(1.8cm)</div>
<div class="t" style="left:450px;top:246px;font-size:13.3px;">2.55inch/6.5cm</div>
<div class="t" style="left:315.5px;top:501.5px;font-size:12px;">7.2cm</div>
<div class="t" style="left:242.5px;top:630.5px;font-size:12px;">3.3cm</div>
<div class="t" style="left:444.5px;top:502px;font-size:13.1px;">internal diameter:1.9cm</div>
<div class="t" style="left:718.5px;top:475px;font-size:13px;">7.3cm</div>
<div class="t" style="left:620.5px;top:628px;font-size:13px;">3.6cm</div>

<div class="tip" style="left:256px;top:334.5px;"><b style="letter-spacing:-0.45px">Warm Tip:</b><span style="display:inline-block;width:5px"></span><span style="letter-spacing:-0.45px">Due to some errors in manual measurement,</span></div>
<div class="tip" style="left:266px;top:345.5px;">the actual object should be received as the criterion.</div>
<div class="tip" style="left:78px;top:717.5px;"><b style="letter-spacing:-0.45px">Warm Tip:</b><span style="display:inline-block;width:5px"></span><span style="letter-spacing:-0.45px">Due to some errors in manual measurement,</span></div>
<div class="tip" style="left:88.5px;top:728.5px;">the actual object should be received as the criterion.</div>
<div class="tip" style="left:519px;top:717.5px;"><b style="letter-spacing:-0.45px">Warm Tip:</b><span style="display:inline-block;width:5px"></span><span style="letter-spacing:-0.45px">Due to some errors in manual measurement,</span></div>
<div class="tip" style="left:529.5px;top:728.5px;">the actual object should be received as the criterion.</div>
</body></html>
